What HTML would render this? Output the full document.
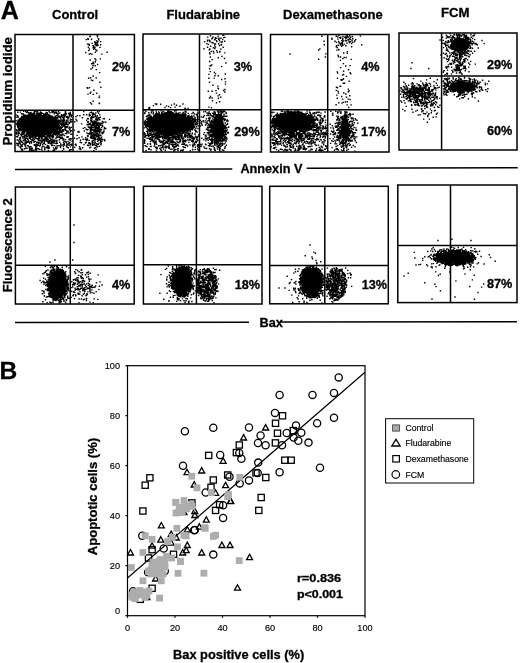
<!DOCTYPE html><html><head><meta charset="utf-8"><style>html,body{margin:0;padding:0;background:#fff;width:520px;height:663px;overflow:hidden}svg{display:block;filter:grayscale(1)}</style></head><body><svg width="520" height="663" viewBox="0 0 520 663"><ellipse cx="38" cy="124" rx="18" ry="9.5" fill="#000" fill-opacity="1.0"/><ellipse cx="170" cy="123.5" rx="23" ry="10" fill="#000" fill-opacity="1.0"/><ellipse cx="218" cy="128" rx="5.5" ry="14" fill="#000" fill-opacity="1.0"/><ellipse cx="293" cy="122" rx="19" ry="8.5" fill="#000" fill-opacity="1.0"/><ellipse cx="345" cy="129" rx="4" ry="12" fill="#000" fill-opacity="1.0"/><ellipse cx="460" cy="45" rx="9.5" ry="7" fill="#000" fill-opacity="1.0"/><ellipse cx="462" cy="86.5" rx="12.5" ry="5.2" fill="#000" fill-opacity="1.0"/><ellipse cx="57.5" cy="284.5" rx="8.5" ry="14" fill="#000" fill-opacity="1.0"/><ellipse cx="182" cy="280.5" rx="9" ry="14" fill="#000" fill-opacity="1.0"/><ellipse cx="311.5" cy="282" rx="10.5" ry="14" fill="#000" fill-opacity="1.0"/><ellipse cx="454" cy="257.5" rx="18" ry="6" fill="#000" fill-opacity="1.0"/><path d="M30.6 116.5h0M44.3 114.7h0M39.5 121.4h0M19.4 124.7h0M18.6 123.0h0M34.8 132.0h0M22.2 118.1h0M43.4 134.8h0M41.2 122.1h0M53.1 119.7h0M30.0 131.8h0M24.6 126.4h0M43.8 121.6h0M40.0 114.4h0M45.6 122.8h0M30.2 126.5h0M36.0 119.9h0M50.4 129.1h0M27.3 126.2h0M39.1 133.1h0M47.6 119.6h0M34.6 130.4h0M23.4 124.2h0M18.6 128.4h0M49.1 126.2h0M53.8 120.2h0M46.2 126.7h0M41.4 123.5h0M36.9 128.3h0M19.5 129.1h0M51.5 119.5h0M33.2 128.4h0M17.9 123.6h0M22.4 118.7h0M33.4 133.0h0M20.4 123.3h0M40.1 133.3h0M51.4 132.9h0M28.7 122.6h0M32.1 133.3h0M24.4 118.3h0M26.8 124.2h0M41.7 119.0h0M32.5 126.0h0M57.0 128.9h0M38.7 127.2h0M45.4 114.2h0M54.8 130.9h0M53.7 131.4h0M33.5 122.2h0M21.3 127.6h0M25.8 116.7h0M31.3 114.2h0M21.3 121.4h0M42.8 116.4h0M27.6 121.0h0M32.3 115.8h0M36.6 124.1h0M31.4 119.1h0M51.8 116.7h0M39.2 116.4h0M39.8 113.6h0M39.2 135.5h0M53.3 129.0h0M28.0 121.4h0M24.0 130.8h0M39.4 130.9h0M30.8 118.1h0M52.8 131.5h0M51.4 130.0h0M26.5 124.9h0M31.9 113.7h0M27.9 128.9h0M57.2 123.3h0M57.1 121.4h0M26.3 118.2h0M25.3 117.7h0M43.2 133.7h0M52.3 124.0h0M44.4 131.4h0M20.6 128.2h0M55.2 131.0h0M48.5 124.0h0M24.5 131.2h0M31.0 131.4h0M57.8 122.1h0M33.9 134.8h0M47.4 116.9h0M23.1 132.0h0M31.7 125.6h0M57.8 127.9h0M39.1 134.5h0M35.2 133.1h0M51.7 117.9h0M27.6 119.7h0M27.1 126.5h0M27.9 122.6h0M31.9 123.5h0M41.5 133.8h0M34.7 134.1h0M38.1 125.2h0M39.0 113.4h0M35.5 117.2h0M24.2 123.9h0M47.5 125.8h0M30.7 124.9h0M40.3 131.0h0M21.5 125.9h0M27.4 119.4h0M49.4 124.7h0M40.6 130.5h0M55.3 123.2h0M42.7 124.6h0M38.5 128.9h0M36.0 125.3h0M37.1 134.7h0M46.4 133.2h0M40.5 134.7h0M52.3 116.2h0M22.1 123.2h0M20.0 118.5h0M20.1 128.4h0M49.9 133.6h0M23.5 129.5h0M44.7 116.3h0M33.7 124.2h0M23.8 122.9h0M38.7 120.8h0M25.2 120.3h0M40.3 123.1h0M43.2 124.8h0M21.4 119.1h0M28.4 116.0h0M34.7 134.0h0M51.4 118.9h0M41.0 129.1h0M45.9 122.8h0M43.6 131.4h0M36.1 120.8h0M40.2 134.3h0M28.3 116.0h0M39.1 118.5h0M30.1 120.0h0M48.9 119.7h0M38.0 117.1h0M47.8 125.7h0M25.0 123.9h0M51.4 122.9h0M37.8 132.2h0M33.5 124.7h0M31.4 132.1h0M46.7 127.6h0M34.0 121.0h0M20.0 130.0h0M27.7 116.8h0M53.6 128.4h0M28.8 118.6h0M29.3 123.6h0M23.6 123.3h0M57.9 125.6h0M30.0 121.2h0M36.9 124.6h0M25.4 124.6h0M20.8 122.2h0M29.8 118.4h0M41.6 125.2h0M48.5 128.1h0M47.1 133.2h0M33.4 120.5h0M47.4 127.8h0M54.5 127.4h0M47.8 131.7h0M22.9 125.0h0M38.2 132.2h0M50.8 132.0h0M41.5 133.5h0M45.7 128.9h0M22.6 121.3h0M40.5 127.4h0M43.3 128.7h0M37.6 113.1h0M50.5 130.2h0M38.1 125.3h0M44.7 114.5h0M47.9 118.8h0M20.1 119.1h0M47.6 117.7h0M37.7 121.8h0M37.1 128.7h0M49.2 127.2h0M44.0 114.8h0M23.2 118.8h0M48.2 120.0h0M40.8 113.3h0M19.5 119.2h0M45.2 128.9h0M45.4 119.7h0M38.7 123.7h0M36.6 115.7h0M54.5 117.6h0M17.7 123.6h0M35.9 119.2h0M25.8 126.4h0M23.0 125.1h0M51.4 124.7h0M54.2 129.2h0M26.7 133.6h0M37.4 113.6h0M17.2 124.3h0M35.9 119.9h0M22.9 120.9h0M30.3 132.3h0M55.9 129.4h0M54.9 119.7h0M32.6 122.0h0M32.1 122.8h0M29.0 134.5h0M27.5 119.1h0M38.5 117.4h0M32.7 135.0h0M54.1 131.7h0M43.5 134.0h0M56.5 125.6h0M47.8 123.4h0M48.6 127.8h0M29.0 114.1h0M36.8 120.9h0M29.5 130.0h0M44.6 119.9h0M40.4 122.1h0M24.0 116.7h0M37.9 118.1h0M35.9 116.2h0M31.4 115.1h0M27.0 118.9h0M40.9 133.4h0M48.5 122.5h0M34.4 125.1h0M32.8 120.8h0M19.6 119.4h0M38.1 127.5h0M53.2 118.0h0M28.4 118.7h0M33.8 123.3h0M54.6 123.9h0M33.4 134.3h0M51.7 132.7h0M38.9 128.7h0M56.5 129.6h0M44.2 130.6h0M36.2 125.7h0M26.8 134.2h0M44.1 120.0h0M22.4 118.8h0M43.7 129.1h0M39.0 126.4h0M33.3 118.1h0M42.2 113.2h0M29.7 123.6h0M57.3 127.8h0M54.1 123.9h0M26.9 118.7h0M37.9 128.5h0M34.6 118.9h0M45.0 134.3h0M31.2 122.7h0M45.7 117.6h0M50.5 130.0h0M38.2 117.7h0M51.4 118.3h0M26.3 130.5h0M29.4 134.9h0M37.8 117.3h0M26.4 122.6h0M44.9 134.8h0M23.1 122.0h0M19.5 122.0h0M56.1 120.6h0M44.9 121.7h0M32.7 120.6h0M28.8 121.1h0M32.0 131.9h0M51.5 122.9h0M19.1 123.9h0M32.7 134.1h0M25.1 121.4h0M34.3 131.7h0M55.6 118.9h0M48.4 133.7h0M31.2 119.3h0M57.2 127.2h0M28.0 129.5h0M30.3 119.3h0M55.5 127.6h0M26.8 123.9h0M33.2 118.8h0M35.1 124.3h0M50.7 130.0h0M51.6 130.8h0M42.5 120.5h0M30.4 121.3h0M25.3 130.3h0M18.4 125.7h0M28.1 114.9h0M21.0 124.5h0M46.8 123.3h0M26.8 122.6h0M43.1 128.5h0M48.4 132.5h0M44.9 115.8h0M52.3 119.8h0M40.8 121.6h0M48.0 117.6h0M27.4 118.6h0M41.3 120.5h0M38.3 118.3h0M51.0 128.0h0M36.9 131.8h0M22.0 117.4h0M57.9 126.4h0M56.1 121.6h0M53.4 123.3h0M27.9 130.9h0M42.0 127.3h0M26.1 121.5h0M22.9 117.7h0M27.7 126.8h0M44.4 117.7h0M45.5 117.3h0M30.1 117.7h0M50.4 125.6h0M33.6 125.7h0M43.8 115.1h0M23.9 129.0h0M34.2 119.5h0M29.9 134.9h0M30.1 126.0h0M32.0 122.6h0M32.3 117.5h0M47.6 117.7h0M34.8 131.9h0M34.1 133.3h0M36.4 116.7h0M17.6 125.7h0M43.9 133.9h0M20.7 127.3h0M32.6 124.6h0M23.1 119.5h0M38.9 134.3h0M21.6 124.3h0M25.3 115.9h0M37.3 114.2h0M55.9 121.9h0M55.0 127.3h0M51.6 116.7h0M50.0 118.1h0M34.0 132.5h0M51.8 117.2h0M26.2 122.2h0M38.8 121.8h0M22.2 118.7h0M47.4 133.6h0M18.7 125.9h0M42.2 125.7h0M43.3 120.0h0M34.6 126.4h0M34.9 128.2h0M35.8 123.1h0M18.0 127.2h0M37.6 118.4h0M49.1 130.9h0M36.2 117.1h0M36.9 115.5h0M22.4 122.9h0M20.9 123.2h0M38.4 113.9h0M43.7 114.9h0M47.8 130.9h0M38.5 114.2h0M38.2 121.7h0M47.7 131.7h0M37.7 135.0h0M19.8 121.1h0M48.8 116.7h0M54.7 119.3h0M51.3 116.3h0M38.1 134.2h0M25.7 119.0h0M38.3 120.3h0M45.5 133.6h0M24.1 131.1h0M21.8 125.2h0M43.7 121.3h0M53.7 125.8h0M41.4 133.3h0M43.5 122.1h0M50.5 119.1h0M58.6 126.3h0M32.1 130.6h0M35.6 117.1h0M51.4 118.8h0M41.6 128.3h0M42.9 122.9h0M38.5 133.6h0M22.5 118.2h0M21.5 121.2h0M26.4 126.4h0M41.7 117.7h0M43.2 123.9h0M27.2 116.4h0M21.0 127.7h0M53.6 131.0h0M33.9 119.1h0M40.6 121.1h0M44.1 123.2h0M56.4 129.9h0M27.4 133.8h0M18.8 125.2h0M34.1 118.5h0M17.5 125.7h0M25.4 127.0h0M38.3 127.8h0M51.2 117.0h0M30.0 119.9h0M49.9 129.5h0M48.3 123.7h0M48.2 123.4h0M26.5 115.4h0M31.1 130.2h0M46.2 132.4h0M46.9 119.1h0M40.3 123.0h0M50.1 125.0h0M28.1 127.8h0M27.9 118.4h0M48.3 120.5h0M54.0 120.6h0M27.0 133.9h0M43.5 128.9h0M36.7 132.3h0M46.3 132.7h0M35.4 129.7h0M41.0 120.1h0M25.9 127.3h0M31.5 116.3h0M46.1 127.6h0M46.3 129.9h0M19.8 126.6h0M32.3 131.8h0M21.5 117.7h0M52.6 131.7h0M43.6 132.0h0M43.5 119.6h0M48.8 117.7h0M30.4 122.7h0M28.9 129.5h0M32.5 120.4h0M57.5 124.6h0M52.8 127.2h0M18.3 122.5h0M35.3 130.8h0M31.6 129.2h0M39.6 118.0h0M51.4 116.9h0M17.2 124.3h0M37.6 131.3h0M24.7 124.4h0M31.6 132.1h0M28.9 117.9h0M46.4 124.5h0M21.6 127.6h0M46.3 131.1h0M43.4 121.2h0M33.9 122.1h0M25.7 119.1h0M54.9 124.5h0M32.9 133.3h0M26.8 123.6h0M39.3 130.4h0M48.6 127.9h0M31.6 120.5h0M23.5 132.4h0M44.8 130.1h0M24.1 123.1h0M49.5 126.3h0M22.3 123.6h0M54.2 118.5h0M25.0 119.9h0M46.5 132.4h0M23.5 116.6h0M27.4 120.5h0M38.9 116.7h0M30.8 117.4h0M21.3 121.8h0M47.8 123.0h0M25.2 127.7h0M21.5 117.7h0M33.3 113.8h0M33.8 131.2h0M46.1 124.5h0M43.6 123.7h0M23.0 126.9h0M34.0 130.0h0M55.1 122.9h0M41.1 130.2h0M34.7 118.3h0M47.3 133.2h0M49.5 129.1h0M52.8 128.6h0M43.9 123.4h0M30.1 127.5h0M21.1 122.7h0M49.9 129.4h0M43.4 118.8h0M34.8 123.5h0M43.1 122.4h0M45.4 134.4h0M24.7 128.1h0M49.7 121.9h0M37.6 135.4h0M18.6 125.5h0M23.8 131.0h0M56.5 124.9h0M21.2 126.2h0M39.7 129.5h0M38.5 127.7h0M51.8 125.0h0M34.2 134.8h0M25.8 128.7h0M33.5 130.5h0M31.9 114.3h0M28.5 122.2h0M17.6 122.6h0M34.7 129.1h0M31.8 119.1h0M26.4 130.1h0M56.5 125.1h0M26.2 131.4h0M33.5 117.9h0M22.4 130.9h0M51.0 127.6h0M36.7 125.9h0M31.8 127.7h0M51.4 131.8h0M36.7 119.8h0M40.0 115.9h0M52.0 121.2h0M52.7 119.2h0M32.8 118.8h0M34.9 117.3h0M28.8 118.6h0M29.7 124.0h0M35.0 127.7h0M44.7 121.3h0M55.0 131.0h0M22.9 132.1h0M44.6 118.8h0M26.8 130.9h0M31.6 116.5h0M55.0 131.2h0M42.6 131.0h0M45.1 133.6h0M50.1 132.3h0M25.3 128.9h0M39.3 130.1h0M35.4 133.3h0M40.3 119.1h0M26.8 116.2h0M37.7 114.3h0M36.6 116.3h0M37.6 124.5h0M39.7 132.8h0M36.7 125.9h0M44.9 132.3h0M32.7 122.6h0M43.8 127.6h0M18.2 127.0h0M45.7 134.4h0M38.4 124.1h0M47.2 127.4h0M31.2 132.8h0M32.4 123.9h0M39.1 130.7h0M25.9 123.0h0M34.7 125.7h0M51.7 119.7h0M51.8 122.3h0M38.2 119.2h0M38.3 135.4h0M44.5 131.2h0M30.9 120.3h0M29.6 126.5h0M43.7 131.0h0M54.2 125.5h0M19.1 119.9h0M55.7 127.0h0M44.6 131.1h0M55.2 127.1h0M42.9 127.4h0M46.2 126.7h0M45.6 117.9h0M45.0 123.5h0M49.0 115.3h0M49.5 134.0h0M44.5 121.5h0M51.5 131.1h0M40.6 118.9h0M29.7 122.7h0M30.4 122.9h0M44.0 134.5h0M19.3 126.1h0M51.0 126.2h0M55.6 123.3h0M17.6 121.9h0M41.9 134.6h0M58.2 123.9h0M34.3 115.3h0M44.1 117.9h0M47.2 118.6h0M47.8 117.3h0M47.0 132.7h0M47.6 114.9h0M43.4 129.3h0M36.3 134.4h0M30.1 129.8h0M24.0 132.8h0M37.4 114.4h0M32.4 126.2h0M35.4 128.6h0M23.1 131.3h0M32.3 127.8h0M43.4 122.6h0M33.2 131.1h0M40.8 119.7h0M46.5 132.0h0M30.9 126.9h0M42.2 120.1h0M35.0 133.4h0M32.8 128.8h0M42.3 133.6h0M50.9 119.5h0M34.7 126.5h0M51.3 133.4h0M51.1 132.9h0M41.0 119.3h0M52.7 131.6h0M45.8 134.0h0M31.6 115.0h0M40.3 131.3h0M25.4 130.3h0M42.5 128.6h0M36.5 117.8h0M27.7 130.3h0M50.2 123.6h0M49.4 118.4h0M41.3 133.6h0M54.2 125.0h0M37.0 126.6h0M24.9 117.4h0M24.6 129.1h0M32.2 126.0h0M33.9 124.9h0M21.5 127.6h0M50.1 116.6h0M42.1 120.9h0M38.8 113.5h0M53.4 124.2h0M40.8 119.0h0M49.7 122.8h0M25.4 117.2h0M40.4 133.0h0M36.2 134.8h0M42.1 122.1h0M27.8 126.0h0M43.9 135.0h0M45.1 122.0h0M35.8 116.7h0M27.7 121.1h0M50.0 129.3h0M45.4 119.9h0M41.8 130.4h0M21.4 120.5h0M27.8 115.9h0M37.2 116.9h0M27.0 116.3h0M47.1 117.5h0M22.9 123.3h0M52.4 127.5h0M36.0 120.8h0M51.6 124.0h0M43.4 116.3h0M47.0 125.7h0M28.2 122.5h0M23.5 119.2h0M52.3 120.7h0M24.0 124.3h0M30.4 133.8h0M45.1 117.9h0M37.1 119.6h0M27.8 117.6h0M21.1 119.7h0M47.5 119.8h0M50.9 120.8h0M52.0 125.1h0M24.8 123.0h0M55.3 118.0h0M41.0 116.2h0M24.6 130.7h0M46.9 117.5h0M42.6 124.4h0M28.5 117.7h0M42.7 129.3h0M51.1 126.4h0M47.8 122.4h0M47.3 114.3h0M51.0 120.7h0M52.4 132.9h0M37.7 113.4h0M55.2 124.0h0M53.6 119.1h0M24.8 132.1h0M32.4 116.8h0M32.6 126.7h0M17.2 125.0h0M35.7 124.9h0M22.1 129.4h0M51.3 132.9h0M30.5 129.4h0M33.0 130.3h0M57.1 124.4h0M38.6 125.2h0M39.6 113.5h0M27.5 131.8h0M46.4 117.5h0M17.7 126.8h0M41.2 125.0h0M46.5 115.4h0M53.5 129.5h0M37.7 124.5h0M28.7 115.8h0M34.0 116.1h0M41.9 132.8h0M23.2 126.2h0M48.4 116.8h0M33.3 122.7h0M52.3 125.1h0M33.6 134.6h0M49.6 120.8h0M27.1 120.7h0M35.3 135.6h0M51.2 132.5h0M19.2 124.9h0M27.5 122.7h0M43.6 121.4h0M39.3 114.6h0M35.2 124.6h0M56.4 127.6h0M51.0 133.3h0M43.9 119.1h0M45.5 119.3h0M39.8 134.3h0M43.1 118.8h0M38.9 123.0h0M56.9 119.6h0M29.8 127.9h0M22.1 126.7h0M57.2 124.8h0M28.3 123.7h0M39.4 116.4h0M29.3 122.4h0M29.1 118.6h0M20.7 125.6h0M52.3 127.0h0M40.9 128.0h0M25.5 129.3h0M36.4 125.6h0M42.7 123.8h0M30.0 118.6h0M26.3 124.8h0M33.1 126.5h0M53.2 118.5h0M40.4 124.3h0M29.4 130.8h0M53.6 123.1h0M19.6 121.9h0M35.5 129.9h0M21.6 118.2h0M23.5 120.8h0M31.8 128.5h0M42.9 132.5h0M51.5 124.9h0M48.0 130.1h0M48.9 123.9h0M50.0 129.3h0M49.2 126.5h0M37.9 135.1h0M41.0 122.6h0M49.9 133.1h0M42.5 121.7h0M36.0 123.5h0M47.4 119.7h0M33.4 125.8h0M33.1 120.4h0M50.1 132.5h0M38.0 123.2h0M24.7 120.0h0M23.1 126.2h0M41.4 115.0h0M55.6 120.4h0M52.4 132.3h0M34.9 133.9h0M40.7 124.4h0M39.6 136.0h0M38.7 124.9h0M45.8 122.0h0M32.0 126.7h0M31.7 134.8h0M45.4 125.1h0M21.2 121.6h0M33.8 125.9h0M41.1 133.2h0M57.5 124.2h0M35.5 127.4h0M39.3 131.8h0M24.2 120.3h0M38.5 115.5h0M54.6 128.9h0M54.3 122.7h0M23.6 119.7h0M38.5 124.6h0M24.9 117.2h0M43.5 126.9h0M43.7 114.0h0M34.3 131.1h0M29.9 128.9h0M52.4 126.5h0M45.1 117.5h0M37.9 125.7h0M28.2 127.9h0M39.3 135.9h0M41.1 122.5h0M48.9 115.5h0M38.9 131.9h0M42.7 131.6h0M49.4 120.4h0M47.0 121.1h0M24.1 119.1h0M41.5 121.0h0M35.9 121.9h0M41.5 135.1h0M35.5 127.3h0M30.2 133.7h0M51.3 120.0h0M42.3 135.1h0M37.8 134.8h0M27.2 122.0h0M47.2 118.1h0M30.0 133.1h0M37.3 131.2h0M27.2 117.0h0M32.1 117.3h0M40.6 115.6h0M39.4 121.9h0M33.9 114.5h0M22.2 132.0h0M31.8 118.6h0M25.0 119.5h0M44.9 120.9h0M23.5 129.2h0M20.9 119.2h0M35.6 132.2h0M50.8 116.7h0M31.8 129.6h0M32.8 135.0h0M38.2 118.2h0M36.0 116.0h0M46.7 119.0h0M54.8 126.5h0M32.5 118.7h0M42.5 117.9h0M38.5 125.5h0M28.4 130.8h0M33.2 128.1h0M40.8 120.1h0M33.4 115.0h0M24.4 132.6h0M30.5 128.2h0M21.6 125.9h0M32.2 124.5h0M29.5 114.5h0M30.1 118.2h0M22.3 129.5h0M28.9 122.3h0M55.2 130.8h0M22.6 119.4h0M44.9 121.1h0M34.3 128.2h0M46.4 118.7h0M52.6 121.1h0M43.4 117.2h0M64.8 141.6h0M37.6 111.3h0M44.1 127.7h0M45.2 132.7h0M35.2 136.3h0M52.6 129.1h0M33.9 122.2h0M50.4 116.0h0M37.6 119.5h0M19.1 133.0h0M39.6 127.4h0M53.1 112.1h0M39.0 129.9h0M52.5 116.2h0M50.7 129.2h0M60.3 138.4h0M48.2 148.5h0M40.0 122.8h0M34.9 117.6h0M38.7 131.3h0M54.9 123.5h0M60.8 120.5h0M28.6 119.1h0M61.9 132.2h0M23.8 132.2h0M47.1 124.7h0M40.3 124.0h0M38.7 139.5h0M61.0 124.3h0M29.1 124.9h0M53.1 130.4h0M31.5 130.5h0M37.0 132.0h0M34.0 112.6h0M40.8 134.4h0M23.8 126.0h0M52.8 123.3h0M30.5 146.8h0M52.1 137.0h0M26.2 142.9h0M50.8 140.0h0M26.4 120.5h0M49.3 132.4h0M33.5 132.2h0M51.3 130.0h0M47.6 141.7h0M33.0 128.6h0M32.4 137.0h0M34.1 131.6h0M42.0 127.6h0M65.0 126.2h0M60.6 135.0h0M59.2 125.4h0M53.5 134.3h0M31.1 129.6h0M38.1 126.7h0M58.9 120.0h0M33.4 120.8h0M40.2 132.5h0M65.5 130.0h0M46.7 119.9h0M48.4 140.1h0M52.9 142.3h0M52.0 112.6h0M35.6 132.7h0M46.0 119.2h0M27.1 136.3h0M20.7 140.8h0M40.3 129.9h0M20.7 121.3h0M50.0 112.8h0M69.9 113.5h0M22.4 127.4h0M47.0 134.1h0M34.6 125.0h0M36.6 121.5h0M43.6 128.5h0M30.9 129.4h0M39.8 126.3h0M43.6 116.8h0M35.4 141.4h0M24.4 126.0h0M31.5 136.1h0M47.4 123.6h0M35.4 137.4h0M27.2 123.4h0M42.1 131.0h0M32.6 136.9h0M60.3 123.7h0M42.0 123.7h0M30.8 114.7h0M34.3 139.4h0M56.4 123.7h0M32.4 120.3h0M22.7 144.3h0M49.6 128.1h0M32.9 117.2h0M59.0 134.5h0M26.3 136.5h0M24.1 133.2h0M26.2 123.0h0M47.1 131.2h0M54.6 119.0h0M62.7 139.9h0M39.9 131.5h0M28.8 125.5h0M21.0 127.9h0M42.9 139.9h0M53.6 134.8h0M34.8 124.8h0M35.1 129.1h0M17.4 122.1h0M40.3 122.1h0M63.9 126.1h0M62.6 138.3h0M32.8 130.8h0M58.7 123.8h0M41.3 121.6h0M40.8 123.6h0M41.2 136.6h0M60.1 128.3h0M42.9 135.2h0M35.8 116.8h0M56.0 118.0h0M53.4 117.7h0M66.4 117.0h0M52.2 141.4h0M26.2 141.3h0M50.4 133.7h0M39.2 124.1h0M34.5 124.2h0M65.9 141.8h0M34.8 120.2h0M45.7 137.2h0M50.4 115.8h0M42.3 128.3h0M60.7 138.5h0M47.5 138.7h0M34.3 141.8h0M33.9 130.8h0M53.2 118.2h0M42.4 126.5h0M35.3 131.8h0M41.3 124.4h0M51.4 143.8h0M33.6 118.0h0M31.3 127.9h0M48.4 118.7h0M54.4 117.2h0M51.9 131.1h0M46.7 147.7h0M36.2 125.4h0M46.9 135.3h0M20.7 129.6h0M29.3 133.1h0M59.7 127.5h0M38.5 128.8h0M48.1 128.6h0M34.3 120.0h0M37.4 138.6h0M38.5 139.9h0M43.9 126.9h0M16.1 120.6h0M58.0 114.6h0M25.7 116.5h0M32.1 133.2h0M61.0 121.3h0M31.5 143.0h0M38.8 115.1h0M30.8 120.0h0M25.5 123.8h0M52.6 130.4h0M25.7 128.1h0M40.5 134.3h0M35.3 131.4h0M70.3 127.9h0M24.4 130.2h0M28.4 123.4h0M42.7 130.2h0M35.9 135.1h0M37.2 114.5h0M52.6 123.5h0M57.5 120.7h0M48.2 130.0h0M23.9 140.5h0M55.7 131.8h0M49.7 122.2h0M39.8 129.2h0M46.1 133.8h0M37.0 120.3h0M31.9 130.9h0M16.1 115.0h0M34.1 121.7h0M35.1 124.6h0M35.6 131.6h0M47.0 138.5h0M55.2 116.9h0M49.2 123.8h0M28.4 141.7h0M30.9 118.8h0M34.1 118.8h0M54.5 130.7h0M60.2 131.0h0M31.1 137.1h0M30.6 122.6h0M37.6 127.4h0M57.2 121.2h0M45.1 126.7h0M21.8 116.5h0M36.8 130.9h0M44.6 131.6h0M40.7 122.7h0M46.2 117.3h0M20.6 123.8h0M19.3 122.0h0M29.2 121.7h0M39.4 119.3h0M42.1 118.5h0M28.4 129.3h0M41.4 128.0h0M18.4 129.2h0M42.2 117.6h0M50.8 126.5h0M40.3 122.7h0M47.9 127.9h0M56.5 131.4h0M31.1 124.8h0M53.3 123.5h0M45.5 132.0h0M41.9 129.1h0M42.0 119.7h0M57.5 125.7h0M31.0 120.1h0M45.2 116.5h0M25.5 146.3h0M59.0 137.2h0M59.8 132.8h0M58.0 131.7h0M59.8 122.2h0M41.9 134.5h0M38.8 137.6h0M41.2 133.7h0M41.2 112.7h0M44.1 139.7h0M56.5 143.6h0M48.1 121.2h0M37.3 135.8h0M52.0 139.9h0M26.5 120.7h0M47.8 147.1h0M23.3 140.4h0M46.2 122.2h0M39.0 129.1h0M71.0 144.5h0M54.3 140.3h0M47.5 130.5h0M37.3 123.0h0M22.1 145.9h0M43.8 126.7h0M42.6 144.6h0M38.5 124.4h0M29.1 126.8h0M33.6 129.0h0M27.5 145.8h0M52.6 134.9h0M50.4 135.0h0M49.8 140.7h0M54.7 140.1h0M32.7 127.0h0M29.4 136.3h0M52.1 122.5h0M58.1 116.1h0M38.7 133.2h0M39.5 130.8h0M57.2 130.2h0M24.0 134.0h0M38.6 128.1h0M31.7 113.5h0M21.8 123.6h0M56.8 115.7h0M29.4 132.2h0M28.8 133.4h0M33.0 130.0h0M41.5 127.0h0M39.4 140.7h0M32.0 132.2h0M42.4 131.7h0M54.5 112.4h0M44.0 125.3h0M35.4 118.7h0M28.5 117.0h0M64.8 127.1h0M50.8 117.5h0M42.1 141.0h0M39.4 117.2h0M36.5 117.3h0M19.6 124.7h0M34.2 119.1h0M27.1 117.9h0M43.5 140.6h0M36.9 148.8h0M16.4 129.7h0M23.1 125.4h0M41.5 132.4h0M56.5 121.6h0M21.8 125.2h0M44.3 120.2h0M53.1 143.4h0M19.2 130.5h0M43.0 124.8h0M19.2 139.8h0M43.2 122.3h0M46.5 133.3h0M51.2 132.7h0M46.0 115.5h0M33.8 128.3h0M34.5 116.7h0M40.5 121.3h0M33.9 118.3h0M29.0 126.0h0M30.6 133.6h0M37.9 128.3h0M45.9 139.4h0M48.8 129.2h0M37.6 119.1h0M35.0 133.7h0M43.3 123.2h0M20.5 112.1h0M44.7 137.0h0M45.5 113.6h0M36.9 129.2h0M26.6 130.4h0M37.1 118.9h0M21.8 134.9h0M45.2 118.4h0M25.2 135.7h0M48.7 124.0h0M63.3 124.2h0M24.6 137.6h0M37.2 130.4h0M40.6 117.2h0M22.7 125.1h0M60.5 117.2h0M59.8 129.1h0M23.8 129.6h0M48.3 118.2h0M23.8 131.3h0M28.2 112.6h0M36.5 128.7h0M31.9 115.5h0M47.8 131.8h0M64.5 135.6h0M45.2 129.6h0M40.4 114.1h0M61.3 132.1h0M35.8 115.9h0M61.6 132.2h0M22.7 133.5h0M67.6 126.8h0M45.8 123.0h0M30.8 137.4h0M38.2 134.7h0M35.6 134.1h0M52.1 117.1h0M24.4 126.3h0M52.1 129.7h0M58.1 113.6h0M47.2 121.0h0M41.5 130.1h0M25.9 124.8h0M23.1 129.6h0M27.6 122.2h0M43.2 120.7h0M56.7 120.8h0M52.4 129.7h0M24.9 124.9h0M27.8 123.5h0M36.1 144.6h0M33.9 142.2h0M46.5 114.3h0M55.0 130.8h0M37.0 124.6h0M43.8 124.1h0M32.2 123.4h0M57.0 121.0h0M45.5 115.8h0M29.6 113.7h0M37.1 133.6h0M44.4 122.2h0M48.9 123.6h0M45.4 129.6h0M21.1 134.5h0M38.4 148.7h0M36.6 121.7h0M61.7 132.4h0M67.6 131.9h0M37.0 134.0h0M28.6 122.7h0M31.9 124.9h0M51.3 122.3h0M44.7 122.2h0M37.0 128.6h0M24.4 136.8h0M43.1 139.4h0M53.9 133.2h0M37.8 116.5h0M36.8 122.6h0M43.6 122.5h0M57.0 122.5h0M36.5 135.9h0M40.0 115.3h0M46.0 125.1h0M24.7 119.8h0M47.0 129.9h0M35.8 148.0h0M46.1 121.1h0M43.4 125.8h0M19.9 146.9h0M37.3 124.3h0M31.8 136.5h0M40.4 143.5h0M51.4 142.9h0M38.3 130.6h0M33.7 125.4h0M26.2 120.7h0M57.6 129.5h0M57.7 135.3h0M53.3 136.7h0M31.2 134.7h0M35.3 121.9h0M57.3 147.9h0M25.9 143.7h0M52.0 118.8h0M44.0 130.6h0M45.4 123.6h0M21.4 127.3h0M52.5 134.6h0M49.6 137.6h0M25.7 126.6h0M44.9 136.6h0M42.3 132.0h0M41.9 147.2h0M19.3 120.5h0M43.2 143.5h0M46.7 133.4h0M54.7 128.9h0M27.6 126.1h0M44.9 124.3h0M30.4 123.5h0M18.3 117.1h0M38.7 123.5h0M40.5 140.5h0M44.3 126.7h0M23.1 116.6h0M45.4 118.6h0M46.2 116.7h0M41.9 126.3h0M54.4 123.2h0M34.6 129.4h0M40.8 143.3h0M36.3 121.8h0M35.4 131.6h0M43.4 133.7h0M66.6 126.7h0M22.5 128.5h0M40.2 112.8h0M46.6 140.3h0M54.9 112.5h0M59.9 135.7h0M34.8 131.8h0M61.9 123.8h0M39.8 121.6h0M60.5 117.7h0M53.4 111.4h0M26.5 121.2h0M52.0 111.4h0M48.7 120.9h0M57.9 124.0h0M47.0 125.3h0M65.9 123.5h0M39.6 146.1h0M41.1 133.6h0M29.4 128.9h0M30.7 112.5h0M19.6 138.0h0M46.2 112.4h0M66.2 120.3h0M34.7 129.4h0M23.6 111.4h0M29.2 138.4h0M53.7 111.8h0M57.4 127.3h0M47.2 127.5h0M46.0 117.4h0M26.9 120.2h0M34.7 133.0h0M22.4 142.3h0M30.9 121.3h0M50.2 131.2h0M35.1 116.7h0M25.6 111.6h0M56.5 137.4h0M67.0 131.8h0M44.8 134.3h0M53.7 124.5h0M45.1 147.7h0M26.1 134.3h0M57.1 123.7h0M49.7 126.5h0M44.3 121.8h0M39.6 127.0h0M56.3 148.5h0M39.9 136.3h0M55.3 134.5h0M51.7 117.9h0M57.5 117.8h0M58.6 133.4h0M25.7 138.2h0M30.2 119.8h0M17.7 124.9h0M54.7 120.5h0M66.7 133.6h0M32.2 115.3h0M16.3 132.4h0M58.8 116.8h0M40.0 124.3h0M36.3 131.8h0M70.2 120.9h0M52.3 137.5h0M35.9 125.6h0M20.6 137.4h0M32.3 120.7h0M41.0 118.7h0M24.9 124.1h0M61.5 125.0h0M47.6 112.9h0M34.2 112.2h0M38.5 132.9h0M43.8 118.1h0M51.5 136.3h0M46.4 122.9h0M39.3 120.9h0M38.1 130.1h0M35.7 136.4h0M45.0 134.9h0M49.3 124.7h0M33.1 136.7h0M49.0 131.9h0M28.4 133.1h0M51.5 125.2h0M49.4 148.0h0M23.0 113.8h0M36.6 132.3h0M40.8 115.7h0M19.2 121.6h0M40.2 119.0h0M18.2 144.0h0M27.8 125.5h0M32.0 121.3h0M40.6 124.1h0M49.0 115.5h0M18.4 145.9h0M38.9 134.4h0M57.1 132.4h0M40.5 111.9h0M16.8 136.5h0M49.8 132.5h0M24.7 115.6h0M42.3 117.1h0M63.0 121.0h0M31.8 135.4h0M44.8 118.3h0M51.9 145.6h0M22.2 124.6h0M49.1 133.8h0M54.2 131.2h0M30.3 115.6h0M23.9 134.4h0M35.7 146.1h0M53.0 139.1h0M40.5 115.2h0M65.8 114.2h0M55.9 138.5h0M34.1 113.8h0M39.1 130.7h0M17.7 115.7h0M38.5 133.9h0M41.1 131.4h0M44.6 118.1h0M38.2 123.3h0M47.0 119.5h0M61.1 127.3h0M47.7 133.1h0M55.2 130.9h0M67.3 131.6h0M48.2 131.6h0M30.6 120.4h0M30.5 138.3h0M45.3 144.4h0M47.3 145.5h0M46.7 115.4h0M65.6 130.3h0M57.5 129.1h0M35.2 128.7h0M23.5 115.3h0M26.9 121.9h0M20.1 126.0h0M44.5 146.9h0M67.1 126.5h0M53.0 124.8h0M45.8 126.7h0M32.0 127.7h0M18.2 131.3h0M35.7 116.4h0M34.7 132.4h0M30.0 131.7h0M48.4 142.3h0M24.0 125.9h0M47.6 141.8h0M43.9 134.4h0M18.3 121.3h0M64.5 124.2h0M71.9 119.8h0M35.9 111.3h0M49.4 129.6h0M69.8 128.6h0M36.3 113.1h0M38.8 136.3h0M51.0 139.1h0M52.8 126.5h0M49.0 128.7h0M20.3 143.9h0M45.5 116.6h0M45.7 129.8h0M54.8 141.3h0M62.7 117.6h0M45.0 130.5h0M23.5 122.4h0M42.9 134.4h0M56.0 125.7h0M38.4 117.2h0M41.6 128.2h0M44.5 139.9h0M38.5 127.9h0M52.7 111.6h0M35.7 127.7h0M54.2 119.1h0M52.0 130.8h0M17.9 112.3h0M18.7 128.4h0M43.1 134.2h0M52.2 121.5h0M55.9 135.1h0M47.0 131.8h0M20.8 130.6h0M24.6 115.2h0M34.8 128.4h0M39.2 123.7h0M25.1 128.9h0M29.0 113.0h0M41.4 141.5h0M34.0 116.4h0M60.7 144.0h0M35.6 124.9h0M42.0 136.9h0M23.6 114.7h0M46.5 128.1h0M66.7 124.3h0M44.6 127.7h0M42.1 150.1h0M44.3 141.7h0M59.4 121.0h0M50.2 123.2h0M41.6 128.6h0M40.3 122.3h0M63.3 124.4h0M50.5 143.7h0M49.4 137.2h0M60.8 137.8h0M65.7 112.8h0M69.3 127.3h0M19.1 126.8h0M17.7 117.0h0M44.4 128.6h0M28.1 124.7h0M38.5 127.7h0M39.9 124.8h0M32.6 128.3h0M34.0 121.5h0M33.5 129.1h0M58.6 125.1h0M36.0 130.6h0M44.0 123.2h0M31.4 133.3h0M40.7 121.4h0M40.2 125.8h0M46.6 129.2h0M32.8 114.4h0M23.6 125.6h0M22.8 134.6h0M64.4 117.1h0M39.2 124.6h0M55.3 148.6h0M18.1 132.6h0M39.8 135.5h0M32.3 134.2h0M53.4 133.1h0M61.7 125.3h0M63.2 120.0h0M40.2 119.0h0M40.0 137.3h0M50.8 127.9h0M65.5 112.2h0M27.8 142.1h0M45.1 115.2h0M62.2 138.4h0M31.8 139.9h0M27.5 136.2h0M48.7 125.7h0M18.7 124.2h0M48.8 130.7h0M32.4 148.2h0M51.6 127.7h0M47.2 136.6h0M31.1 112.9h0M40.1 134.7h0M62.6 129.7h0M42.9 134.5h0M61.0 123.8h0M21.6 119.1h0M21.1 118.1h0M38.2 130.4h0M42.3 127.7h0M34.6 131.2h0M53.3 134.6h0M62.5 124.1h0M36.2 143.9h0M43.0 131.1h0M35.0 136.7h0M34.0 116.9h0M39.1 122.6h0M52.5 123.2h0M41.9 124.8h0M45.1 120.7h0M56.6 112.8h0M34.2 119.9h0M49.7 127.4h0M47.3 123.7h0M29.2 115.8h0M35.0 121.6h0M44.2 130.5h0M54.7 125.9h0M28.8 116.4h0M40.9 130.6h0M69.2 128.8h0M66.4 145.7h0M24.3 139.1h0M57.0 140.5h0M39.9 136.6h0M32.8 126.3h0M40.3 144.8h0M36.8 136.6h0M41.0 119.9h0M43.6 133.6h0M29.3 133.3h0M29.3 118.2h0M43.3 124.6h0M40.3 129.4h0M33.1 128.9h0M17.1 130.9h0M46.2 129.8h0M30.8 127.8h0M42.0 137.7h0M44.1 129.5h0M29.1 135.6h0M57.6 122.1h0M49.6 130.1h0M39.3 114.1h0M44.5 123.2h0M57.2 122.8h0M40.6 133.1h0M46.8 121.8h0M50.2 130.9h0M54.8 121.9h0M39.3 123.1h0M27.4 129.5h0M46.1 141.2h0M35.1 130.9h0M57.1 125.9h0M40.9 128.3h0M29.7 117.1h0M56.7 128.7h0M38.9 114.6h0M41.8 138.7h0M22.8 118.1h0M56.6 141.3h0M63.2 121.5h0M49.0 119.5h0M47.8 123.4h0M42.9 140.4h0M45.1 124.6h0M40.8 129.6h0M32.3 129.1h0M49.0 142.5h0M21.5 135.7h0M41.8 138.3h0M32.4 122.2h0M45.1 121.2h0M56.6 127.0h0M33.3 136.2h0M27.7 139.4h0M54.4 128.4h0M54.8 143.0h0M60.5 127.0h0M39.2 138.0h0M18.1 121.0h0M47.2 132.6h0M67.7 144.4h0M44.8 131.4h0M20.4 125.2h0M43.9 124.8h0M40.9 133.0h0M25.9 121.4h0M51.4 124.9h0M54.3 123.4h0M71.6 134.1h0M42.2 128.1h0M36.9 135.0h0M69.7 122.8h0M23.9 132.9h0M55.8 112.2h0M29.7 117.1h0M48.3 132.0h0M29.1 115.9h0M49.5 125.5h0M68.4 136.8h0M31.4 124.3h0M35.9 119.8h0M41.2 136.5h0M17.7 124.8h0M62.1 134.3h0M28.0 119.0h0M27.4 111.2h0M57.0 127.7h0M29.7 112.9h0M34.3 122.0h0M65.4 122.5h0M41.7 137.6h0M49.9 125.2h0M48.8 122.7h0M38.7 117.6h0M26.7 112.4h0M47.4 132.1h0M42.6 134.7h0M47.9 128.2h0M27.0 132.8h0M57.5 133.2h0M58.4 122.4h0M25.6 139.3h0M31.4 129.4h0M37.2 127.2h0M36.0 121.7h0M26.6 115.9h0M48.5 143.1h0M36.4 134.3h0M48.8 114.8h0M31.5 123.5h0M58.5 128.2h0M38.2 119.1h0M41.3 127.4h0M50.7 140.7h0M50.8 127.2h0M37.8 142.7h0M43.0 126.8h0M66.4 142.4h0M48.4 125.9h0M30.7 137.4h0M33.3 136.4h0M28.5 128.0h0M45.9 128.4h0M43.4 130.7h0M23.5 116.1h0M37.8 144.7h0M38.2 117.9h0M30.3 127.3h0M57.3 121.5h0M48.2 128.8h0M34.8 117.8h0M37.8 119.9h0M56.5 134.4h0M48.5 141.6h0M40.8 131.4h0M30.0 116.0h0M46.3 132.0h0M33.8 124.6h0M32.6 121.5h0M39.2 137.5h0M16.4 123.7h0M63.6 130.1h0M42.3 135.2h0M25.3 115.2h0M43.6 135.3h0M33.9 120.4h0M45.9 133.0h0M43.6 118.7h0M30.4 141.6h0M59.3 131.7h0M44.0 128.7h0M31.4 126.5h0M67.9 118.5h0M30.3 128.6h0M53.0 135.1h0M25.9 125.7h0M36.1 115.0h0M41.1 122.3h0M53.4 131.2h0M28.6 127.8h0M34.8 120.8h0M32.9 137.4h0M28.7 134.9h0M71.4 116.8h0M34.8 123.8h0M19.5 130.9h0M39.3 129.7h0M51.6 135.1h0M30.7 121.2h0M62.7 134.0h0M42.1 116.4h0M52.9 132.1h0M72.1 141.3h0M51.7 129.6h0M40.9 121.6h0M44.5 129.4h0M49.5 137.6h0M44.6 121.7h0M51.8 142.1h0M27.8 131.1h0M48.0 132.2h0M47.4 126.1h0M38.5 143.4h0M65.3 113.4h0M30.2 122.0h0M16.8 130.4h0M39.2 121.8h0M53.1 150.6h0M61.5 138.4h0M34.0 133.4h0M39.5 138.2h0M48.5 126.7h0M48.1 120.0h0M51.6 141.6h0M34.7 132.4h0M52.8 117.1h0M65.4 128.1h0M52.7 124.4h0M56.1 111.9h0M38.6 136.5h0M30.1 133.6h0M34.8 130.3h0M44.7 148.7h0M22.0 134.6h0M59.1 116.1h0M41.2 149.4h0M44.4 119.9h0M31.8 118.9h0M44.3 122.5h0M26.8 124.8h0M45.9 118.7h0M45.9 123.2h0M62.9 120.8h0M30.3 114.0h0M68.9 133.0h0M24.2 123.7h0M26.0 141.8h0M43.1 135.9h0M40.0 131.6h0M38.4 129.0h0M43.1 120.1h0M45.1 128.6h0M39.4 120.4h0M25.2 129.4h0M32.2 140.2h0M53.3 120.1h0M59.7 117.4h0M28.5 145.9h0M33.6 124.9h0M16.0 117.2h0M22.9 125.7h0M34.8 121.1h0M30.8 134.2h0M62.4 123.0h0M63.5 142.7h0M59.6 129.9h0M18.3 133.6h0M34.0 128.9h0M43.4 117.9h0M44.3 143.3h0M43.4 120.3h0M26.6 131.0h0M43.8 135.1h0M28.4 141.3h0M47.3 138.6h0M17.7 127.0h0M63.4 146.6h0M59.3 127.0h0M42.7 120.9h0M56.0 120.2h0M18.0 144.3h0M40.9 129.1h0M70.3 112.4h0M32.2 125.0h0M21.6 113.8h0M21.9 133.3h0M39.3 135.0h0M24.2 132.8h0M33.5 127.9h0M53.7 127.3h0M40.9 134.7h0M30.7 126.4h0M45.9 139.7h0M34.4 111.7h0M36.0 145.9h0M44.4 125.5h0M55.2 123.3h0M44.9 129.0h0M46.6 112.6h0M50.4 135.6h0M26.8 141.6h0M40.3 133.7h0M48.2 135.7h0M30.6 121.3h0M45.5 133.0h0M48.5 130.3h0M32.9 137.9h0M46.9 137.5h0M30.2 128.2h0M33.0 123.9h0M42.8 130.4h0M28.5 132.3h0M27.5 131.2h0M34.6 117.7h0M57.3 143.3h0M38.5 126.5h0M54.2 113.9h0M27.1 138.2h0M53.3 122.1h0M28.5 130.5h0M19.2 122.1h0M48.8 134.6h0M55.8 112.8h0M21.0 118.9h0M20.6 147.3h0M25.5 123.9h0M43.1 131.5h0M61.5 116.2h0M53.1 128.5h0M22.6 128.5h0M19.2 143.1h0M29.2 137.0h0M59.3 120.9h0M26.7 128.3h0M24.4 135.9h0M42.6 119.4h0M29.8 134.2h0M18.4 143.8h0M28.3 125.1h0M26.2 143.1h0M52.3 139.9h0M49.7 127.9h0M65.3 133.6h0M46.5 132.7h0M51.0 129.8h0M37.5 111.1h0M70.7 114.1h0M68.9 139.1h0M31.0 129.6h0M35.0 129.9h0M57.5 115.0h0M44.9 127.8h0M42.2 128.5h0M34.5 113.4h0M46.8 130.9h0M48.6 139.4h0M26.3 131.0h0M39.8 134.3h0M37.5 121.0h0M43.7 132.2h0M25.5 140.2h0M57.2 131.4h0M38.3 124.6h0M25.4 122.0h0M54.9 117.8h0M32.2 135.6h0M67.9 120.1h0M56.6 120.5h0M45.8 131.8h0M22.9 137.3h0M67.0 127.5h0M44.0 115.3h0M66.8 127.6h0M20.9 134.6h0M18.1 120.1h0M30.2 121.2h0M31.5 132.5h0M61.9 116.9h0M62.9 126.1h0M29.5 142.3h0M38.4 140.7h0M56.1 143.6h0M28.0 127.6h0M45.5 125.1h0M62.8 119.9h0M55.0 140.6h0M26.4 121.5h0M45.9 125.3h0M41.2 122.4h0M38.8 131.8h0M51.2 119.2h0M38.3 119.4h0M37.3 112.6h0M54.3 133.7h0M38.2 120.2h0M33.2 120.3h0M16.8 143.3h0M22.5 132.8h0M49.1 111.3h0M32.6 127.9h0M40.0 121.4h0M37.9 124.0h0M58.7 126.1h0M39.5 121.7h0M30.5 119.6h0M40.2 145.4h0M56.7 129.4h0M20.9 148.3h0M66.0 133.6h0M42.0 141.4h0M56.2 146.1h0M35.2 149.8h0M26.4 135.5h0M61.6 135.2h0M26.4 142.0h0M34.8 135.9h0M68.1 141.5h0M60.0 137.5h0M67.1 137.0h0M66.8 144.0h0M70.4 146.9h0M51.3 142.6h0M63.9 141.0h0M21.5 149.4h0M61.1 145.3h0M57.7 137.2h0M41.9 147.8h0M69.9 149.6h0M25.0 145.3h0M47.0 140.3h0M25.4 135.5h0M42.3 141.9h0M31.0 139.6h0M47.0 146.7h0M49.0 135.9h0M65.6 139.6h0M69.7 150.7h0M23.9 143.5h0M70.1 139.9h0M46.7 138.6h0M17.6 136.7h0M22.9 138.1h0M51.3 143.1h0M69.1 145.3h0M36.3 150.1h0M51.5 142.8h0M64.3 145.1h0M36.2 143.9h0M32.8 150.4h0M29.7 150.5h0M19.6 133.2h0M47.0 136.7h0M44.4 135.1h0M62.9 145.0h0M54.3 149.7h0M71.6 145.2h0M55.9 133.0h0M18.8 140.7h0M70.3 138.6h0M47.8 133.2h0M39.3 149.2h0M49.0 147.8h0M16.7 136.6h0M26.0 148.0h0M21.7 149.8h0M31.0 148.8h0M44.9 138.8h0M70.1 140.3h0M55.1 134.2h0M62.5 150.7h0M22.2 146.4h0M31.1 135.7h0M36.4 144.9h0M69.4 150.9h0M71.6 144.2h0M52.6 135.9h0M56.7 142.9h0M36.1 149.2h0M30.3 135.5h0M24.9 135.7h0M49.0 147.4h0M25.0 142.1h0M48.2 143.1h0M39.1 142.8h0M16.8 134.0h0M39.7 137.3h0M58.4 137.4h0M62.1 137.3h0M21.2 141.6h0M37.7 139.0h0M58.8 137.0h0M53.5 148.0h0M41.3 142.1h0M67.7 143.9h0M26.1 134.3h0M20.6 139.0h0M21.0 144.7h0M39.7 138.6h0M44.7 149.9h0M29.7 135.8h0M33.1 138.8h0M67.0 145.7h0M40.0 136.0h0M18.5 135.2h0M63.5 144.7h0M24.8 144.3h0M19.3 142.1h0M34.8 134.8h0M57.6 145.9h0M44.6 136.0h0M53.5 140.8h0M53.0 134.6h0M66.5 133.1h0M28.5 140.2h0M27.1 134.6h0M54.5 150.9h0M34.8 137.8h0M53.6 137.0h0M38.4 145.4h0M40.1 135.8h0M19.9 142.8h0M71.5 149.6h0M21.6 142.0h0M43.4 136.5h0M53.5 141.9h0M61.3 138.3h0M68.3 147.7h0M42.5 135.5h0M43.1 135.3h0M54.4 145.6h0M48.4 150.6h0M18.5 145.9h0M60.8 135.0h0M34.0 134.0h0M48.6 146.0h0M35.5 145.5h0M36.5 145.8h0M31.5 150.6h0M40.5 133.1h0M21.1 146.1h0M64.4 144.5h0M24.7 148.7h0M56.1 135.1h0M37.3 145.1h0M16.2 133.8h0M35.8 148.7h0M71.8 138.7h0M66.9 147.1h0M64.4 143.6h0M70.3 144.6h0M69.1 143.2h0M27.0 142.3h0M43.0 139.1h0M36.9 142.2h0M48.9 137.0h0M31.5 142.1h0M44.2 140.5h0M53.2 136.3h0M45.8 138.0h0M59.1 145.7h0M59.7 142.3h0M29.9 149.7h0M44.6 139.8h0M32.3 140.2h0M55.7 147.7h0M43.0 146.2h0M27.9 141.1h0M36.0 138.5h0M36.1 146.6h0M57.1 136.7h0M29.1 147.1h0M52.7 145.2h0M51.6 145.5h0M31.3 134.1h0M36.2 133.6h0M69.9 142.4h0M53.5 150.4h0M61.0 137.1h0M34.9 135.0h0M60.6 146.3h0M43.3 139.6h0M31.1 141.8h0M55.9 149.1h0M63.5 148.6h0M40.6 140.6h0M33.6 150.5h0M26.3 135.8h0M31.7 149.6h0M63.8 139.0h0M63.7 149.0h0M39.9 136.5h0M59.3 139.7h0M22.7 149.3h0M40.6 140.2h0M49.3 137.6h0M17.1 140.0h0M37.2 133.2h0M36.8 146.7h0M34.6 145.2h0M51.0 136.4h0M17.1 145.1h0M50.2 138.3h0M27.2 148.4h0M66.9 137.2h0M48.8 143.3h0M34.0 133.7h0M34.2 144.6h0M49.7 142.2h0M22.9 136.8h0M33.4 140.5h0M36.3 149.2h0M22.5 150.8h0M29.5 148.4h0M29.6 143.6h0M37.1 133.7h0M60.6 147.6h0M31.1 147.0h0M63.1 134.7h0M55.9 120.1h0M58.9 126.0h0M68.2 131.2h0M64.3 120.3h0M68.6 113.5h0M59.4 129.1h0M62.5 134.8h0M56.5 122.1h0M58.6 111.1h0M56.6 113.2h0M61.3 121.4h0M63.6 117.9h0M66.9 123.4h0M71.7 115.1h0M63.7 122.8h0M61.3 131.7h0M58.6 132.1h0M61.1 119.1h0M65.5 124.5h0M59.8 113.0h0M71.2 119.9h0M56.9 126.8h0M64.0 118.9h0M60.6 131.3h0M60.8 121.0h0M71.3 119.7h0M61.8 114.9h0M66.3 127.0h0M62.6 120.7h0M59.0 130.0h0M62.8 131.0h0M61.4 128.6h0M55.5 116.3h0M71.3 127.4h0M66.5 122.9h0M63.0 115.7h0M57.9 126.5h0M66.8 117.2h0M66.0 114.3h0M65.4 115.1h0M63.7 118.5h0M64.4 114.2h0M63.2 125.8h0M57.3 118.4h0M66.5 124.1h0M65.5 129.7h0M64.7 116.3h0M62.5 130.9h0M64.6 129.1h0M61.2 121.8h0M71.5 130.7h0M66.1 113.6h0M65.4 111.8h0M70.9 134.3h0M67.4 117.4h0M69.4 115.3h0M69.1 123.5h0M55.3 132.4h0M62.5 130.9h0M66.7 123.8h0M69.7 115.9h0M70.3 119.1h0M55.4 119.1h0M56.1 112.7h0M65.6 113.9h0M57.7 118.0h0M59.7 133.1h0M70.4 131.9h0M71.8 121.6h0M68.5 117.7h0M70.8 130.5h0M67.4 116.5h0M56.6 133.2h0M64.4 125.7h0M69.7 114.4h0M66.9 122.1h0M68.4 121.9h0M58.3 134.0h0M59.8 128.9h0M69.1 116.9h0M66.8 120.5h0M58.8 116.2h0M71.2 119.8h0M63.7 123.0h0M55.5 129.1h0M67.7 132.0h0M61.1 116.0h0M60.9 128.6h0M66.2 120.7h0M63.9 114.7h0M70.6 122.3h0M63.6 129.9h0M58.4 128.3h0M61.0 130.5h0M56.6 117.6h0M65.8 122.6h0M61.4 124.9h0M58.7 121.5h0M55.0 130.2h0M59.3 130.9h0M64.4 125.4h0M65.6 114.0h0M68.2 118.0h0M69.7 129.9h0M66.5 130.6h0M62.4 127.2h0M71.2 115.5h0M56.7 120.9h0M63.7 114.6h0M58.8 131.8h0M61.6 114.6h0M58.1 124.9h0M58.2 122.4h0M64.1 121.6h0M63.6 131.1h0M55.3 133.3h0M58.4 111.9h0M68.0 124.7h0M64.1 116.2h0M95.7 121.6h0M94.5 122.9h0M89.2 123.6h0M91.4 138.3h0M100.9 135.7h0M94.1 124.6h0M88.1 124.9h0M101.9 141.3h0M96.0 127.7h0M95.0 134.2h0M95.0 134.2h0M91.6 130.5h0M93.4 140.6h0M89.5 142.7h0M94.6 125.2h0M95.1 131.3h0M94.0 134.2h0M92.4 113.5h0M98.1 129.8h0M102.4 133.8h0M86.2 142.2h0M92.0 135.4h0M104.8 140.7h0M90.2 129.2h0M87.9 136.6h0M97.5 120.1h0M97.0 139.2h0M98.6 123.5h0M91.9 119.1h0M89.3 133.1h0M95.2 142.8h0M96.2 126.9h0M88.7 145.1h0M95.7 129.8h0M90.6 119.9h0M97.8 120.6h0M97.6 136.2h0M93.3 114.3h0M96.8 143.8h0M91.4 117.8h0M99.8 131.5h0M92.2 142.0h0M93.8 134.5h0M93.2 122.8h0M96.0 121.7h0M87.2 124.8h0M100.5 140.8h0M104.6 139.7h0M102.1 132.5h0M93.1 134.6h0M90.8 137.2h0M93.0 132.6h0M91.2 128.8h0M99.3 128.0h0M92.0 132.8h0M98.9 128.3h0M89.8 115.0h0M89.1 140.4h0M94.6 134.7h0M99.7 132.9h0M97.1 125.2h0M87.9 136.2h0M94.6 135.7h0M90.3 128.7h0M103.9 122.0h0M95.4 142.8h0M94.0 131.3h0M85.6 137.6h0M93.1 142.6h0M94.6 126.5h0M96.9 127.8h0M92.7 145.0h0M99.3 131.2h0M98.6 138.1h0M97.6 130.6h0M95.3 134.1h0M97.5 133.5h0M92.6 129.4h0M97.0 120.6h0M95.0 137.4h0M95.7 127.4h0M94.9 125.5h0M99.3 126.5h0M87.7 118.5h0M96.3 132.1h0M92.9 117.5h0M94.3 122.1h0M92.1 130.1h0M91.6 133.1h0M91.7 125.7h0M94.0 144.2h0M101.9 139.2h0M91.8 130.2h0M99.0 137.9h0M87.8 129.6h0M91.7 137.3h0M97.8 125.0h0M104.4 127.5h0M105.8 128.5h0M94.6 148.3h0M92.7 125.6h0M101.5 129.8h0M97.1 118.1h0M102.9 139.6h0M96.6 136.9h0M92.8 125.6h0M88.1 133.7h0M100.4 138.3h0M99.1 136.9h0M90.9 117.7h0M97.8 131.7h0M99.3 127.5h0M91.1 134.4h0M92.5 114.5h0M92.3 121.8h0M90.1 124.9h0M102.6 126.2h0M100.0 129.5h0M96.8 123.7h0M94.7 114.2h0M102.9 122.9h0M97.6 124.6h0M96.2 119.0h0M93.3 138.9h0M97.6 111.7h0M98.8 117.7h0M96.3 135.1h0M92.2 127.1h0M93.9 134.0h0M99.0 143.1h0M96.4 149.1h0M90.8 147.1h0M93.8 137.5h0M94.4 131.0h0M91.0 133.9h0M103.9 131.6h0M94.9 130.2h0M98.1 128.2h0M95.0 132.2h0M100.7 139.2h0M90.4 124.2h0M95.1 138.2h0M99.3 128.2h0M104.4 128.6h0M101.2 143.7h0M102.0 132.1h0M97.5 115.6h0M87.2 124.4h0M98.2 140.3h0M94.5 140.0h0M97.5 144.6h0M88.0 122.3h0M90.8 120.2h0M102.3 121.4h0M91.3 126.4h0M98.9 125.8h0M98.2 135.4h0M91.0 118.3h0M102.2 123.3h0M90.3 133.7h0M95.2 121.3h0M99.8 138.8h0M96.2 123.0h0M96.7 133.9h0M90.9 130.4h0M109.5 119.4h0M87.5 135.9h0M93.1 125.5h0M97.7 128.9h0M99.4 135.0h0M100.1 131.3h0M85.5 143.0h0M87.5 140.1h0M96.1 116.9h0M95.3 138.5h0M90.5 130.5h0M91.7 120.6h0M92.3 142.3h0M98.0 129.9h0M94.6 131.3h0M96.3 131.9h0M87.4 138.9h0M98.1 118.7h0M94.4 129.2h0M92.4 135.2h0M93.8 127.5h0M90.8 127.5h0M90.4 130.5h0M100.8 139.7h0M96.9 117.2h0M99.5 139.0h0M95.1 126.9h0M99.8 119.8h0M99.4 111.1h0M95.1 143.1h0M92.3 135.8h0M95.4 116.2h0M92.2 140.9h0M100.2 124.4h0M100.0 123.3h0M96.1 129.9h0M89.5 133.2h0M91.3 122.0h0M91.3 120.8h0M98.9 130.8h0M96.1 127.5h0M95.3 127.6h0M90.2 115.6h0M95.3 139.8h0M96.0 145.4h0M89.0 127.5h0M92.3 141.8h0M102.5 125.1h0M98.2 127.8h0M90.6 129.0h0M90.4 144.8h0M97.6 141.4h0M98.6 130.9h0M84.4 131.0h0M99.5 146.4h0M90.5 137.6h0M96.5 128.4h0M93.7 135.1h0M97.6 136.3h0M93.2 117.4h0M100.8 142.5h0M92.5 129.7h0M98.6 113.2h0M96.2 123.3h0M104.0 130.1h0M95.9 126.0h0M95.8 112.9h0M89.3 115.9h0M99.0 129.2h0M92.3 144.0h0M91.5 112.2h0M91.7 126.7h0M94.9 142.5h0M100.9 144.9h0M97.6 125.2h0M92.8 115.9h0M100.6 142.0h0M95.4 121.5h0M98.0 134.7h0M95.7 118.9h0M96.1 124.6h0M98.3 135.7h0M96.9 125.9h0M101.7 137.4h0M100.6 138.1h0M97.9 133.8h0M90.3 112.6h0M90.9 135.9h0M99.0 131.8h0M95.4 147.6h0M93.2 112.9h0M88.2 126.9h0M98.1 137.1h0M94.0 137.8h0M94.8 123.1h0M93.3 137.3h0M99.2 119.2h0M90.6 131.2h0M104.4 118.8h0M89.5 134.0h0M97.2 124.1h0M94.9 134.7h0M87.3 129.8h0M97.7 138.9h0M100.1 129.3h0M88.6 142.9h0M98.4 123.9h0M99.6 140.0h0M92.9 122.8h0M91.3 129.2h0M90.2 133.7h0M103.3 118.6h0M99.6 124.9h0M97.4 128.8h0M100.7 123.2h0M98.2 122.6h0M96.0 129.9h0M99.8 114.9h0M89.1 143.3h0M96.7 146.3h0M90.5 132.0h0M97.7 146.9h0M94.8 125.7h0M98.2 129.0h0M91.7 137.3h0M86.6 120.3h0M101.0 125.2h0M93.6 133.6h0M99.9 135.1h0M90.8 124.6h0M99.6 128.9h0M92.2 138.4h0M90.3 123.2h0M92.0 133.4h0M92.9 140.7h0M83.2 139.2h0M92.2 127.4h0M97.5 131.9h0M90.5 144.4h0M97.5 125.3h0M95.9 119.4h0M89.6 127.1h0M96.6 131.0h0M91.6 116.7h0M87.6 145.3h0M96.6 122.3h0M100.2 135.2h0M93.2 124.1h0M100.0 133.1h0M102.2 133.5h0M92.4 124.3h0M91.9 132.4h0M96.1 135.8h0M97.0 119.9h0M94.1 121.0h0M97.1 117.4h0M92.5 121.8h0M92.3 127.5h0M101.6 127.5h0M88.7 127.1h0M98.3 135.3h0M96.1 149.1h0M99.9 130.9h0M100.3 117.2h0M94.3 121.7h0M95.8 145.5h0M92.8 145.3h0M90.5 143.7h0M87.6 121.9h0M99.4 129.1h0M95.6 129.9h0M95.8 128.3h0M90.7 127.2h0M95.5 121.4h0M97.0 146.9h0M87.8 124.8h0M93.8 130.2h0M95.4 123.0h0M94.9 130.1h0M94.6 144.8h0M95.6 115.8h0M88.1 135.7h0M93.5 124.1h0M89.1 127.0h0M94.6 123.4h0M93.5 138.5h0M98.4 135.2h0M94.2 117.0h0M98.4 144.4h0M100.6 141.2h0M96.2 133.6h0M94.9 142.0h0M93.8 150.6h0M98.4 126.9h0M95.0 114.6h0M91.8 127.1h0M105.7 122.2h0M99.0 130.7h0M93.7 136.0h0M86.3 139.1h0M103.5 132.8h0M94.7 131.5h0M88.4 121.6h0M77.4 115.6h0M79.9 115.7h0M76.9 120.8h0M83.3 128.4h0M78.9 131.5h0M86.4 139.2h0M79.5 146.8h0M86.7 132.9h0M81.6 123.9h0M76.1 145.5h0M83.7 114.8h0M88.8 145.6h0M74.5 138.3h0M77.8 131.9h0M87.3 124.7h0M82.0 136.9h0M77.1 135.4h0M80.8 149.3h0M77.0 138.7h0M74.7 121.7h0M75.9 116.8h0M82.5 117.8h0M86.7 114.8h0M84.0 144.6h0M76.0 119.5h0M86.2 129.3h0M88.9 124.2h0M80.4 148.3h0M79.5 148.7h0M88.3 118.8h0M82.7 147.7h0M75.9 144.1h0M86.4 140.2h0M83.6 114.9h0M89.3 115.0h0M86.5 139.2h0M79.1 137.7h0M80.6 140.3h0M74.7 147.4h0M80.2 142.3h0M81.5 142.7h0M78.8 132.3h0M74.4 130.1h0M75.3 144.5h0M84.8 127.6h0M89.6 147.9h0M89.3 114.2h0M85.3 139.4h0M83.7 111.6h0M97.8 42.0h0M87.9 38.8h0M93.8 46.4h0M96.8 42.8h0M96.1 45.8h0M100.6 44.7h0M94.6 48.3h0M98.7 39.7h0M92.2 43.4h0M85.7 52.5h0M98.2 45.1h0M107.1 52.3h0M101.9 54.1h0M97.5 36.8h0M100.0 47.4h0M89.4 45.3h0M96.9 50.7h0M94.7 42.0h0M97.0 40.6h0M93.7 49.4h0M88.4 47.2h0M86.4 39.6h0M89.2 44.5h0M96.8 44.7h0M97.6 45.6h0M93.2 47.8h0M93.1 45.8h0M98.0 41.7h0M98.5 38.6h0M91.9 54.2h0M95.4 52.3h0M88.3 39.2h0M95.8 49.8h0M97.3 35.3h0M96.0 44.6h0M94.5 47.8h0M89.8 36.6h0M88.9 44.2h0M99.9 82.3h0M96.2 78.0h0M93.9 90.3h0M95.0 44.4h0M93.0 65.8h0M93.1 76.0h0M92.1 63.6h0M93.0 62.1h0M100.6 41.6h0M87.2 87.7h0M92.5 67.8h0M95.3 61.8h0M90.3 36.1h0M99.2 103.5h0M91.0 69.0h0M91.5 39.3h0M99.5 96.1h0M90.4 53.6h0M96.8 93.2h0M93.6 63.3h0M90.3 93.3h0M99.1 97.6h0M88.6 78.3h0M100.8 87.2h0M93.4 45.6h0M87.8 88.4h0M88.0 94.1h0M96.3 69.6h0M99.5 103.1h0M95.6 42.3h0M95.2 65.7h0M90.5 102.8h0M97.2 43.9h0M90.2 60.0h0M95.0 58.7h0M93.2 94.4h0M89.5 87.6h0M91.6 104.0h0M100.3 58.9h0M95.5 43.1h0M92.7 80.5h0M95.9 60.0h0M87.5 44.1h0M94.8 47.5h0M91.3 80.1h0M99.6 72.6h0M90.6 77.8h0M90.9 92.1h0M89.2 54.1h0M93.1 101.3h0M89.3 49.0h0M88.8 50.6h0M91.7 63.8h0M97.6 64.5h0M93.7 63.9h0M184.3 132.4h0M166.1 132.8h0M171.3 127.5h0M163.8 118.5h0M162.7 127.9h0M168.0 124.1h0M154.8 116.4h0M161.5 127.5h0M172.3 112.6h0M181.0 122.0h0M147.6 118.2h0M155.0 130.6h0M172.6 119.7h0M156.9 118.9h0M158.6 120.1h0M185.1 129.8h0M180.3 132.0h0M178.0 115.0h0M157.4 124.1h0M186.7 125.4h0M166.3 117.8h0M161.7 113.5h0M178.0 120.3h0M190.2 119.0h0M177.4 127.5h0M158.7 118.5h0M146.3 126.0h0M162.2 116.6h0M166.7 133.0h0M156.9 116.1h0M176.7 127.0h0M170.6 116.5h0M153.1 117.8h0M170.7 123.0h0M172.8 128.5h0M190.5 122.8h0M151.4 125.7h0M184.7 115.3h0M159.3 131.2h0M179.8 114.9h0M179.7 130.0h0M165.2 115.9h0M178.3 119.5h0M151.0 116.1h0M164.9 115.3h0M164.0 124.6h0M172.7 121.4h0M161.1 133.0h0M183.8 124.3h0M185.0 125.1h0M150.1 118.1h0M160.7 121.5h0M172.0 114.7h0M180.7 130.0h0M185.4 131.9h0M160.5 115.7h0M183.6 127.8h0M163.3 120.1h0M152.0 130.8h0M168.0 130.4h0M161.7 119.6h0M170.7 128.9h0M189.9 120.3h0M180.1 121.4h0M188.8 129.2h0M172.9 120.5h0M158.2 132.0h0M185.6 119.2h0M186.1 124.1h0M172.8 124.4h0M165.3 124.8h0M179.0 126.6h0M185.9 127.7h0M184.5 115.9h0M171.6 129.4h0M152.1 124.1h0M190.8 128.9h0M164.7 123.0h0M184.7 127.5h0M159.8 128.6h0M169.3 130.1h0M162.9 131.9h0M179.6 122.4h0M173.3 130.2h0M171.5 133.6h0M181.1 123.3h0M188.2 115.8h0M161.6 128.2h0M186.8 120.7h0M148.0 125.0h0M160.7 118.2h0M167.3 114.2h0M173.1 122.3h0M160.0 125.8h0M162.0 134.0h0M150.4 120.1h0M150.6 121.8h0M158.2 113.7h0M171.5 119.1h0M179.0 124.8h0M175.1 119.1h0M182.2 127.7h0M181.1 122.9h0M168.1 118.8h0M146.1 122.8h0M176.0 116.6h0M188.4 130.5h0M169.4 116.4h0M158.1 128.7h0M162.2 125.6h0M161.6 132.5h0M161.1 119.2h0M174.7 130.7h0M147.3 124.4h0M171.8 133.6h0M173.2 120.4h0M174.0 133.0h0M157.4 130.6h0M145.0 121.7h0M163.1 125.3h0M156.3 128.1h0M177.9 114.6h0M180.2 120.2h0M167.9 130.0h0M171.7 118.5h0M171.0 134.1h0M182.0 127.2h0M187.8 121.5h0M173.1 131.2h0M154.4 131.4h0M145.3 124.3h0M173.9 115.7h0M191.9 122.2h0M153.6 121.6h0M174.8 121.9h0M181.1 115.4h0M157.3 130.3h0M183.2 125.7h0M166.4 117.7h0M174.6 134.1h0M180.1 114.9h0M155.6 122.2h0M160.4 123.0h0M152.4 121.4h0M180.4 119.6h0M185.4 116.6h0M149.3 126.3h0M167.6 132.7h0M149.5 128.9h0M178.8 120.6h0M150.7 126.0h0M183.4 122.9h0M168.6 127.6h0M175.7 121.8h0M153.7 122.7h0M172.6 132.2h0M195.7 124.7h0M161.1 117.4h0M176.8 128.7h0M156.9 127.7h0M192.8 122.1h0M177.9 131.6h0M154.6 120.1h0M159.9 123.0h0M182.7 126.4h0M192.4 127.2h0M145.9 122.0h0M145.4 124.1h0M176.9 117.0h0M188.5 121.6h0M193.9 120.4h0M176.2 124.4h0M157.7 129.7h0M160.7 131.9h0M170.0 113.3h0M159.6 125.9h0M186.1 114.9h0M184.5 121.1h0M171.3 121.8h0M166.8 134.3h0M182.3 127.9h0M187.2 127.3h0M176.8 119.4h0M157.9 132.8h0M171.7 112.9h0M161.7 120.2h0M149.8 128.5h0M186.1 129.9h0M185.2 115.2h0M187.8 130.7h0M170.8 117.7h0M195.1 121.6h0M184.1 130.1h0M174.2 134.2h0M183.0 117.5h0M160.9 120.0h0M166.6 115.3h0M195.9 123.4h0M180.5 123.9h0M183.9 119.9h0M165.5 128.9h0M180.5 132.0h0M160.1 131.2h0M182.3 125.1h0M165.2 125.0h0M160.2 115.2h0M182.0 126.0h0M154.7 128.4h0M186.9 126.1h0M155.8 124.9h0M164.5 118.4h0M176.9 133.0h0M152.9 118.3h0M170.5 113.8h0M159.7 124.4h0M169.1 132.5h0M174.0 126.5h0M174.4 129.8h0M155.6 127.0h0M169.7 112.6h0M157.5 120.9h0M157.5 117.9h0M160.9 121.6h0M162.7 119.6h0M182.4 123.3h0M190.8 122.6h0M154.7 130.5h0M170.1 124.8h0M150.1 119.5h0M176.1 127.3h0M176.7 126.1h0M163.7 114.0h0M152.9 120.1h0M154.4 131.4h0M186.6 130.8h0M163.8 133.1h0M157.5 125.1h0M179.0 117.6h0M163.8 114.7h0M185.4 116.6h0M151.1 118.6h0M177.3 126.5h0M171.3 131.3h0M183.1 117.1h0M171.8 116.2h0M156.6 115.7h0M148.0 120.2h0M190.1 126.9h0M148.6 117.3h0M174.8 124.2h0M173.4 125.7h0M156.5 125.5h0M171.5 120.0h0M193.2 121.2h0M166.0 124.4h0M184.0 124.4h0M181.3 126.5h0M183.5 117.3h0M173.6 122.2h0M156.0 129.7h0M155.5 128.1h0M169.4 121.9h0M180.7 128.4h0M185.6 118.3h0M178.8 123.4h0M192.9 122.3h0M162.6 113.1h0M168.4 124.2h0M160.0 114.8h0M169.2 114.1h0M152.9 122.3h0M162.1 123.5h0M171.6 121.0h0M173.1 133.8h0M158.6 120.2h0M160.6 128.8h0M169.6 130.0h0M154.7 120.6h0M164.8 121.0h0M194.2 122.2h0M173.9 133.7h0M177.4 125.6h0M187.1 119.9h0M171.8 125.3h0M147.5 128.9h0M163.4 126.6h0M158.7 132.7h0M163.2 118.6h0M190.5 117.4h0M158.1 123.2h0M154.9 130.0h0M147.9 121.6h0M184.7 128.2h0M185.2 115.1h0M190.3 120.4h0M186.3 122.9h0M190.4 123.0h0M157.4 115.8h0M169.8 113.6h0M173.8 131.5h0M151.8 123.1h0M168.4 114.9h0M157.7 132.8h0M181.6 123.7h0M175.7 131.4h0M193.6 125.6h0M152.6 117.8h0M151.1 123.8h0M174.3 122.6h0M168.4 115.6h0M181.3 124.3h0M160.1 130.8h0M164.2 122.4h0M157.3 128.9h0M170.3 133.8h0M190.2 122.4h0M149.4 122.5h0M170.9 129.8h0M153.7 118.6h0M175.8 114.6h0M183.0 121.8h0M189.6 117.5h0M148.0 121.1h0M194.5 120.3h0M170.8 124.4h0M149.1 125.3h0M167.2 119.7h0M187.2 127.7h0M177.1 133.8h0M150.5 129.9h0M183.6 122.9h0M150.2 117.2h0M150.7 125.9h0M176.5 131.4h0M157.7 131.6h0M149.8 129.9h0M190.6 124.9h0M175.5 126.0h0M184.1 123.9h0M149.9 117.4h0M178.0 114.2h0M149.6 118.0h0M185.4 124.5h0M162.6 133.7h0M174.2 117.7h0M173.4 131.3h0M163.2 122.1h0M174.0 134.2h0M177.2 116.5h0M174.3 119.6h0M168.6 128.2h0M145.1 123.7h0M160.3 125.7h0M186.7 122.8h0M176.7 118.9h0M157.3 123.7h0M171.7 117.4h0M183.8 123.5h0M162.5 118.1h0M147.7 126.4h0M179.3 119.9h0M167.0 127.5h0M152.3 120.5h0M184.9 127.5h0M174.4 114.8h0M155.3 118.1h0M145.6 126.6h0M173.8 132.8h0M172.8 132.7h0M168.4 123.9h0M158.6 122.7h0M192.7 123.2h0M154.3 126.2h0M170.5 123.0h0M180.4 125.6h0M177.9 123.5h0M145.9 122.4h0M187.4 125.7h0M191.0 124.5h0M152.6 128.0h0M177.6 130.3h0M148.6 122.7h0M186.1 120.0h0M147.3 124.8h0M193.6 126.1h0M174.0 116.5h0M161.3 115.8h0M168.1 113.5h0M178.1 126.7h0M191.0 129.4h0M172.2 133.1h0M169.6 114.3h0M180.6 116.3h0M195.2 124.4h0M190.9 123.3h0M161.0 127.1h0M180.9 122.6h0M158.3 121.7h0M181.2 117.5h0M152.2 123.1h0M178.2 114.0h0M157.9 129.5h0M159.9 114.4h0M169.3 131.6h0M180.6 126.2h0M169.1 127.1h0M171.1 116.5h0M180.2 115.3h0M160.1 131.2h0M173.5 123.7h0M180.9 123.3h0M164.0 124.6h0M191.2 126.9h0M152.2 131.3h0M158.7 130.2h0M177.9 125.8h0M182.6 118.4h0M187.4 124.4h0M183.4 131.0h0M157.2 121.5h0M162.8 114.2h0M189.5 127.6h0M169.5 124.5h0M162.6 127.6h0M171.8 123.4h0M157.5 117.4h0M178.9 120.0h0M170.8 114.8h0M162.7 114.1h0M170.1 133.6h0M183.6 120.5h0M158.4 133.0h0M193.5 126.7h0M164.2 121.9h0M175.6 124.1h0M184.5 126.7h0M178.1 114.1h0M162.9 122.9h0M177.0 113.9h0M173.2 128.8h0M152.2 129.2h0M181.3 124.5h0M186.9 130.2h0M176.7 127.2h0M153.3 119.9h0M160.9 131.4h0M184.6 118.9h0M147.2 119.7h0M162.7 121.0h0M188.5 124.2h0M176.8 122.2h0M167.9 133.6h0M158.4 124.1h0M168.9 115.6h0M151.6 123.6h0M185.5 122.0h0M146.3 126.8h0M151.6 118.2h0M165.9 129.1h0M166.6 121.7h0M164.9 124.0h0M153.9 115.4h0M172.5 120.2h0M179.2 120.5h0M192.2 119.1h0M166.5 119.5h0M171.7 118.7h0M178.8 121.6h0M180.8 118.9h0M167.7 124.8h0M181.4 126.9h0M166.3 114.4h0M153.6 116.5h0M178.4 120.0h0M191.2 117.6h0M156.8 116.5h0M151.5 127.5h0M174.1 118.0h0M186.1 127.4h0M166.3 125.9h0M178.1 122.2h0M148.8 120.5h0M193.2 120.7h0M177.2 114.4h0M184.2 131.5h0M163.4 120.7h0M170.7 118.1h0M154.9 115.3h0M179.7 123.7h0M189.4 126.0h0M176.2 122.1h0M166.1 115.7h0M172.5 118.5h0M173.9 131.8h0M159.3 125.2h0M158.4 130.8h0M154.9 126.7h0M172.9 119.7h0M148.2 123.2h0M171.2 130.5h0M154.6 116.6h0M159.9 130.2h0M156.1 126.4h0M180.8 123.4h0M149.9 122.9h0M192.9 121.1h0M173.0 121.7h0M170.3 113.5h0M189.9 125.3h0M162.0 118.8h0M187.7 120.8h0M175.4 124.7h0M182.2 116.1h0M173.4 112.9h0M178.0 126.0h0M171.2 112.8h0M193.8 123.3h0M187.4 123.0h0M155.3 121.4h0M147.9 125.3h0M155.4 127.9h0M153.0 127.7h0M176.1 128.2h0M193.4 119.0h0M179.5 121.2h0M183.7 125.7h0M157.6 132.5h0M161.6 130.6h0M179.3 131.0h0M185.7 122.5h0M164.5 130.0h0M178.0 124.4h0M144.7 122.7h0M155.7 115.4h0M183.2 127.4h0M165.3 125.6h0M172.8 133.4h0M170.4 124.4h0M168.0 121.6h0M179.9 115.0h0M180.0 132.9h0M183.6 124.4h0M162.4 114.6h0M148.8 124.4h0M153.5 129.0h0M186.0 123.1h0M188.6 116.6h0M161.4 123.8h0M181.8 122.4h0M159.7 131.6h0M164.4 121.7h0M155.6 123.1h0M180.7 120.5h0M178.4 123.4h0M159.0 124.5h0M152.0 131.2h0M170.9 113.4h0M158.1 123.7h0M153.1 119.2h0M191.0 122.3h0M156.1 125.6h0M149.9 123.9h0M177.7 114.5h0M172.5 119.3h0M182.7 126.0h0M191.3 125.9h0M153.5 116.6h0M180.6 130.3h0M147.3 121.7h0M158.7 122.8h0M189.4 124.8h0M182.7 129.3h0M158.4 126.1h0M163.5 122.9h0M171.6 127.2h0M152.8 130.9h0M152.4 119.4h0M163.1 133.4h0M183.6 116.1h0M150.4 120.4h0M148.4 122.9h0M162.0 128.7h0M169.6 133.7h0M187.9 116.3h0M173.4 124.1h0M152.8 119.6h0M155.4 116.8h0M175.9 119.6h0M183.9 125.1h0M188.1 123.7h0M176.9 117.7h0M180.2 121.4h0M181.5 125.4h0M151.3 119.1h0M176.9 124.5h0M181.2 119.7h0M168.8 123.0h0M183.0 114.1h0M170.5 118.2h0M174.6 118.2h0M154.7 117.6h0M190.5 120.5h0M189.8 128.7h0M158.0 124.7h0M176.8 115.0h0M171.0 123.4h0M178.9 118.9h0M191.3 126.2h0M190.0 119.2h0M181.0 131.4h0M187.5 118.0h0M185.7 127.6h0M168.2 132.3h0M193.9 125.1h0M182.2 127.3h0M164.8 123.5h0M170.4 117.2h0M157.6 131.1h0M188.0 127.8h0M179.8 123.7h0M173.8 127.2h0M144.4 122.3h0M168.3 114.2h0M157.3 130.6h0M185.5 131.6h0M157.4 133.0h0M163.3 122.4h0M193.4 124.5h0M179.4 114.9h0M179.3 116.7h0M181.0 119.5h0M171.4 114.2h0M187.3 129.8h0M174.2 127.7h0M161.7 115.3h0M160.9 128.8h0M173.3 115.5h0M156.5 123.0h0M167.4 115.4h0M183.0 130.0h0M160.4 124.4h0M164.1 134.0h0M160.1 121.8h0M160.4 126.8h0M189.9 127.7h0M181.6 123.6h0M175.1 129.8h0M184.4 127.3h0M147.3 123.0h0M158.0 125.9h0M164.6 122.5h0M172.0 125.4h0M190.3 118.7h0M158.3 116.6h0M162.7 132.4h0M170.1 112.8h0M157.2 122.9h0M179.4 115.9h0M150.4 119.8h0M149.4 130.1h0M185.8 131.1h0M177.8 119.1h0M148.9 126.7h0M151.6 127.2h0M179.0 117.6h0M168.8 117.2h0M189.3 126.4h0M179.9 126.2h0M184.5 123.8h0M174.7 123.3h0M183.3 124.2h0M158.4 123.9h0M171.1 131.6h0M181.4 117.1h0M170.4 125.3h0M174.1 122.6h0M170.5 127.6h0M189.8 123.8h0M184.8 127.5h0M150.2 118.2h0M160.3 120.3h0M169.5 119.0h0M163.3 127.9h0M176.7 133.6h0M163.5 131.8h0M185.8 119.5h0M151.5 130.2h0M165.6 120.2h0M168.1 128.5h0M183.9 116.4h0M154.4 120.0h0M153.2 123.0h0M150.9 126.9h0M165.4 117.9h0M179.7 119.7h0M183.2 131.8h0M159.3 118.3h0M180.2 115.7h0M194.3 126.9h0M172.5 113.6h0M158.7 121.8h0M174.8 114.2h0M186.2 129.0h0M153.3 117.8h0M146.0 124.6h0M185.1 118.8h0M151.3 120.9h0M185.0 124.5h0M185.5 119.9h0M181.6 123.7h0M183.7 116.9h0M158.5 117.2h0M188.2 128.0h0M152.1 128.5h0M146.0 122.8h0M157.4 129.3h0M181.4 127.5h0M177.3 127.8h0M190.7 120.4h0M171.0 126.8h0M192.1 126.8h0M170.8 129.4h0M169.5 113.2h0M172.5 121.6h0M161.4 121.2h0M155.5 119.4h0M182.8 132.0h0M167.7 131.1h0M150.5 123.8h0M182.7 129.7h0M164.1 116.2h0M194.0 125.9h0M178.0 120.1h0M149.9 125.0h0M165.0 132.1h0M178.5 129.1h0M173.6 129.1h0M174.2 125.6h0M180.7 128.5h0M178.7 118.1h0M169.3 129.4h0M177.3 132.5h0M148.6 129.5h0M171.8 114.1h0M165.8 127.2h0M170.5 130.0h0M192.8 120.0h0M154.9 115.7h0M155.4 121.7h0M180.8 133.1h0M173.0 133.5h0M166.2 127.0h0M186.1 115.0h0M159.6 124.1h0M171.3 113.2h0M149.7 127.4h0M165.0 114.5h0M168.9 120.7h0M172.7 133.6h0M184.4 115.0h0M172.1 120.4h0M175.4 118.1h0M166.7 124.1h0M163.7 124.9h0M148.7 121.8h0M195.3 121.3h0M170.3 129.1h0M186.2 128.7h0M163.8 128.2h0M154.4 126.1h0M153.1 120.2h0M176.0 131.0h0M192.9 122.4h0M184.6 126.8h0M184.4 115.8h0M148.3 124.0h0M175.5 127.6h0M153.3 125.0h0M179.0 122.2h0M165.8 122.8h0M158.5 116.3h0M190.8 120.5h0M189.5 124.9h0M181.0 122.4h0M156.7 124.9h0M160.2 130.7h0M146.2 126.5h0M161.6 121.7h0M172.2 134.1h0M171.4 124.9h0M154.3 129.9h0M169.2 129.3h0M191.9 126.2h0M180.1 124.6h0M150.8 122.6h0M195.0 120.9h0M151.0 122.1h0M147.1 125.9h0M155.9 117.3h0M177.1 132.9h0M174.3 123.2h0M165.9 112.7h0M162.3 124.0h0M161.7 131.1h0M186.2 130.0h0M169.6 123.5h0M169.6 122.5h0M165.1 123.4h0M149.5 129.1h0M171.0 116.2h0M154.0 123.0h0M157.9 129.9h0M161.5 132.9h0M160.1 131.2h0M149.3 127.3h0M169.1 117.3h0M150.3 117.8h0M182.2 125.2h0M150.8 118.8h0M183.2 122.9h0M154.7 118.1h0M153.9 126.3h0M174.9 123.9h0M184.2 124.2h0M160.4 127.2h0M169.3 115.6h0M182.9 122.0h0M187.6 127.2h0M193.9 125.3h0M175.0 133.9h0M185.8 119.9h0M192.5 127.1h0M193.3 125.9h0M182.8 125.6h0M182.6 122.4h0M150.5 124.8h0M157.8 118.3h0M189.6 126.1h0M182.9 130.5h0M166.7 122.4h0M166.5 120.4h0M184.5 132.0h0M159.5 128.1h0M179.6 129.6h0M181.4 119.6h0M183.5 131.1h0M166.6 118.5h0M163.6 124.1h0M171.4 119.0h0M147.1 126.4h0M181.3 127.8h0M164.6 131.4h0M145.0 124.7h0M171.2 117.5h0M171.3 112.6h0M178.1 123.7h0M172.0 131.0h0M177.3 133.2h0M179.4 132.6h0M160.6 132.8h0M183.3 121.1h0M171.2 129.7h0M147.0 124.4h0M173.5 128.3h0M161.8 125.8h0M182.3 120.9h0M179.4 132.4h0M163.2 124.1h0M169.2 130.9h0M158.0 118.8h0M164.4 126.9h0M170.2 128.6h0M165.4 113.1h0M164.0 125.1h0M174.5 122.6h0M161.5 126.8h0M153.1 123.2h0M158.1 124.9h0M179.8 123.9h0M183.0 126.2h0M148.3 126.9h0M169.2 129.2h0M192.7 120.2h0M188.2 117.6h0M186.9 122.3h0M167.6 123.4h0M163.4 117.6h0M180.0 126.3h0M192.4 118.7h0M159.3 125.2h0M163.4 133.3h0M155.7 116.3h0M167.1 118.7h0M179.1 132.0h0M149.8 119.3h0M151.0 122.0h0M162.9 128.5h0M165.9 126.7h0M150.9 125.9h0M151.3 116.2h0M192.4 117.1h0M171.5 122.3h0M168.3 124.5h0M170.4 126.7h0M159.2 119.4h0M156.2 142.1h0M186.9 124.1h0M154.5 130.8h0M160.8 140.9h0M190.0 124.8h0M181.5 118.0h0M144.0 134.5h0M154.5 124.0h0M191.8 126.5h0M170.7 126.2h0M185.6 125.6h0M173.8 125.3h0M152.1 139.5h0M159.2 112.8h0M163.6 126.3h0M185.1 111.2h0M149.4 127.8h0M177.6 115.0h0M151.7 127.8h0M156.1 140.9h0M152.9 136.5h0M144.9 140.9h0M198.4 119.6h0M159.4 132.3h0M149.8 131.5h0M191.9 128.6h0M176.6 124.4h0M188.2 117.8h0M198.2 125.8h0M163.5 128.4h0M168.9 119.1h0M150.6 126.0h0M158.1 134.7h0M179.9 122.6h0M173.2 116.3h0M153.1 118.6h0M170.1 117.6h0M163.9 117.4h0M175.0 114.6h0M170.7 127.0h0M187.4 118.6h0M151.5 111.0h0M184.0 119.7h0M187.9 125.2h0M159.5 133.9h0M160.6 132.8h0M176.5 113.6h0M162.0 119.4h0M156.3 133.9h0M173.5 133.5h0M185.6 114.5h0M148.0 130.7h0M171.6 126.8h0M157.1 136.2h0M179.5 137.5h0M165.0 133.0h0M170.0 116.6h0M167.9 127.8h0M182.9 115.4h0M148.3 118.7h0M158.1 119.2h0M169.1 125.2h0M158.5 118.8h0M193.2 140.2h0M166.2 133.1h0M178.9 127.1h0M168.7 138.2h0M180.7 123.7h0M167.0 135.4h0M160.9 118.8h0M166.3 121.0h0M192.5 129.6h0M169.5 120.7h0M195.1 130.4h0M167.3 120.5h0M166.1 127.8h0M184.5 130.9h0M197.8 110.7h0M171.5 111.8h0M153.4 120.0h0M159.9 116.3h0M145.1 137.4h0M165.5 135.7h0M160.9 134.8h0M161.5 130.0h0M152.6 140.0h0M178.4 136.5h0M166.3 138.8h0M172.2 121.1h0M160.1 126.5h0M155.5 114.0h0M173.2 133.1h0M166.0 134.4h0M198.0 113.3h0M175.4 116.3h0M160.0 127.8h0M185.3 131.4h0M182.0 144.2h0M164.8 137.0h0M195.7 130.9h0M170.0 133.6h0M166.6 124.2h0M196.0 119.8h0M154.9 126.4h0M190.1 131.9h0M172.2 121.1h0M192.0 134.9h0M181.4 119.7h0M149.0 123.0h0M170.6 137.9h0M149.3 122.4h0M161.5 127.9h0M184.3 115.9h0M144.0 110.6h0M185.4 129.1h0M183.5 138.2h0M171.8 128.4h0M177.9 130.7h0M152.9 123.2h0M168.4 126.3h0M158.2 124.7h0M175.9 127.9h0M181.0 134.2h0M180.5 135.7h0M185.3 140.0h0M181.7 119.8h0M192.3 133.3h0M171.8 114.5h0M178.4 122.4h0M197.4 114.3h0M152.2 130.7h0M180.7 118.0h0M170.9 128.5h0M173.7 131.3h0M184.2 122.3h0M164.4 116.1h0M183.8 131.9h0M160.5 149.6h0M170.3 129.1h0M176.4 123.7h0M176.4 112.9h0M164.2 144.5h0M186.0 121.9h0M161.1 110.9h0M168.9 124.2h0M173.6 130.2h0M190.4 131.2h0M196.9 138.0h0M169.2 115.5h0M178.4 135.6h0M144.6 113.6h0M182.7 120.4h0M195.9 128.2h0M161.6 112.7h0M148.8 112.8h0M167.2 122.1h0M182.9 138.5h0M157.2 148.1h0M167.5 137.3h0M159.1 145.9h0M167.3 113.2h0M170.9 113.4h0M182.5 127.9h0M166.0 122.0h0M161.2 118.8h0M147.0 138.1h0M186.2 112.0h0M151.1 130.1h0M165.6 123.5h0M175.2 124.2h0M189.5 135.8h0M180.4 141.8h0M167.0 120.5h0M177.1 115.3h0M168.6 122.1h0M152.5 137.2h0M164.2 130.5h0M162.0 127.5h0M163.3 126.7h0M169.3 119.2h0M178.4 124.1h0M154.4 115.5h0M178.5 139.3h0M148.6 121.8h0M178.7 136.4h0M183.1 114.1h0M171.6 135.0h0M175.1 123.7h0M150.8 127.6h0M169.9 126.3h0M196.6 137.9h0M157.4 128.3h0M165.7 127.0h0M171.7 119.4h0M168.2 129.6h0M162.5 137.0h0M171.3 114.1h0M166.4 124.8h0M187.9 137.2h0M195.9 141.6h0M176.4 127.1h0M188.4 125.7h0M149.5 121.4h0M182.3 132.1h0M152.1 138.0h0M176.3 110.9h0M179.0 136.1h0M180.1 122.9h0M157.3 137.2h0M174.8 125.9h0M164.2 115.6h0M189.9 133.7h0M159.4 141.3h0M167.1 115.9h0M187.7 139.9h0M164.3 113.7h0M171.9 141.3h0M175.7 118.6h0M183.1 121.0h0M192.6 122.4h0M174.3 116.6h0M149.2 129.5h0M177.0 116.2h0M180.6 121.9h0M161.6 125.3h0M177.7 133.3h0M192.1 129.8h0M158.6 119.1h0M177.3 114.0h0M168.1 122.1h0M169.3 127.8h0M188.8 142.4h0M186.1 136.1h0M152.8 136.4h0M193.1 112.4h0M172.1 118.0h0M161.2 136.7h0M175.4 122.2h0M190.6 116.6h0M156.5 120.4h0M158.2 132.9h0M167.1 115.4h0M173.8 127.0h0M181.4 123.6h0M177.8 116.6h0M171.4 127.6h0M150.3 131.9h0M173.4 126.5h0M162.8 146.1h0M171.0 118.3h0M156.5 131.9h0M167.4 118.1h0M158.7 135.3h0M172.5 136.6h0M170.7 114.1h0M185.8 129.2h0M159.8 122.9h0M154.4 134.3h0M163.9 130.8h0M175.4 123.4h0M177.3 123.5h0M150.9 121.8h0M150.9 133.6h0M182.1 120.1h0M181.6 128.5h0M187.6 116.6h0M171.4 116.1h0M159.4 139.7h0M179.3 133.8h0M189.8 135.1h0M158.5 139.5h0M167.8 132.1h0M167.7 141.9h0M165.6 127.9h0M175.7 118.8h0M167.1 114.6h0M167.0 126.9h0M175.1 142.4h0M178.4 114.4h0M172.2 125.9h0M153.9 133.2h0M184.2 136.6h0M168.8 135.7h0M157.3 127.8h0M183.0 139.1h0M166.1 123.1h0M178.9 125.2h0M173.3 134.0h0M158.0 134.7h0M177.4 123.4h0M149.8 119.7h0M170.2 135.4h0M174.3 114.7h0M185.5 130.0h0M178.4 116.3h0M152.2 135.0h0M194.8 129.6h0M167.7 121.5h0M169.4 138.3h0M158.8 136.5h0M158.9 131.8h0M194.2 119.0h0M186.3 125.9h0M155.1 128.0h0M181.9 118.9h0M166.5 120.4h0M158.0 123.9h0M184.9 121.1h0M192.0 122.2h0M159.3 136.6h0M194.7 119.5h0M180.9 114.5h0M164.1 122.3h0M182.9 113.5h0M162.4 119.2h0M172.7 113.8h0M174.6 111.1h0M185.0 113.0h0M192.0 117.7h0M152.6 130.7h0M182.1 114.3h0M188.0 127.3h0M170.9 139.7h0M156.9 136.8h0M185.0 119.8h0M173.1 127.1h0M180.8 116.3h0M167.1 126.9h0M171.5 126.2h0M175.2 124.1h0M162.6 136.2h0M160.2 122.8h0M156.2 114.7h0M178.5 125.6h0M168.7 130.5h0M168.1 132.7h0M166.5 142.3h0M193.3 128.1h0M185.3 114.6h0M156.8 119.6h0M180.3 114.9h0M159.1 135.4h0M160.2 127.1h0M169.6 124.8h0M147.0 135.6h0M184.7 134.7h0M162.4 114.7h0M169.5 127.6h0M168.1 120.2h0M154.3 118.8h0M169.6 121.2h0M178.6 121.4h0M167.9 116.4h0M162.9 111.3h0M153.3 130.2h0M168.9 120.4h0M183.1 120.5h0M178.2 122.4h0M187.2 135.4h0M172.1 136.7h0M179.4 141.3h0M168.9 110.8h0M174.5 128.3h0M164.9 124.0h0M166.5 113.7h0M156.9 125.6h0M195.6 131.9h0M158.9 113.8h0M152.3 125.2h0M185.4 121.3h0M197.7 144.9h0M189.1 125.0h0M182.1 135.7h0M154.2 126.6h0M173.9 118.6h0M182.5 124.7h0M164.2 144.4h0M173.7 142.0h0M168.4 136.1h0M158.4 127.4h0M179.9 123.3h0M189.1 127.7h0M169.7 113.4h0M165.6 118.9h0M165.9 128.1h0M148.7 136.3h0M166.6 131.9h0M166.0 122.2h0M159.8 129.0h0M177.7 116.4h0M165.6 136.4h0M185.4 124.9h0M147.2 122.4h0M158.8 138.1h0M145.3 120.4h0M147.4 119.1h0M163.6 129.6h0M161.1 132.7h0M151.8 124.2h0M169.2 122.4h0M190.0 137.3h0M182.0 118.1h0M160.9 134.9h0M173.3 115.0h0M170.9 114.0h0M170.0 114.3h0M155.5 120.9h0M151.2 120.7h0M188.5 133.8h0M182.4 122.8h0M173.0 118.4h0M167.9 118.1h0M146.8 116.2h0M158.4 124.9h0M163.4 137.9h0M170.4 119.7h0M182.2 129.1h0M159.5 118.4h0M155.7 135.9h0M185.2 136.9h0M163.5 120.1h0M166.3 121.3h0M192.1 123.8h0M193.3 119.0h0M177.1 141.8h0M158.5 119.6h0M165.9 119.7h0M186.6 125.6h0M175.6 133.0h0M161.5 126.4h0M173.2 142.2h0M194.2 127.6h0M148.6 134.6h0M169.9 137.4h0M171.7 127.7h0M181.7 118.8h0M159.9 148.4h0M156.5 135.1h0M182.1 134.0h0M193.5 112.8h0M171.7 129.3h0M187.9 136.6h0M155.3 123.3h0M168.2 119.2h0M157.2 119.5h0M189.8 139.3h0M183.2 142.4h0M172.3 115.3h0M160.0 128.0h0M187.8 137.9h0M156.0 135.3h0M162.0 131.8h0M186.0 140.5h0M162.1 128.4h0M177.9 121.9h0M172.3 131.8h0M154.9 131.1h0M182.0 130.3h0M180.6 120.1h0M197.1 115.0h0M179.2 123.4h0M166.2 132.9h0M191.8 127.6h0M159.8 123.9h0M169.6 140.1h0M184.9 141.5h0M183.3 118.5h0M186.1 135.5h0M168.8 130.5h0M165.5 113.6h0M169.3 133.5h0M157.5 136.7h0M174.5 137.0h0M158.3 121.9h0M154.2 118.3h0M179.2 127.4h0M162.8 128.9h0M149.2 122.2h0M146.0 111.3h0M148.3 115.2h0M196.8 139.5h0M191.6 120.3h0M181.1 114.8h0M161.8 128.4h0M144.3 127.9h0M168.7 127.4h0M152.0 131.6h0M172.8 118.8h0M197.9 128.5h0M183.0 144.2h0M162.6 123.8h0M178.0 150.6h0M180.0 128.0h0M149.8 117.6h0M172.6 128.9h0M155.6 123.8h0M157.4 132.1h0M181.3 120.5h0M163.2 113.9h0M163.0 147.5h0M170.5 134.5h0M180.3 140.5h0M165.3 117.1h0M187.9 135.1h0M159.8 136.8h0M170.5 125.6h0M175.9 122.8h0M174.0 136.4h0M178.3 118.5h0M178.1 124.8h0M175.8 124.1h0M145.8 146.0h0M182.2 121.4h0M174.8 135.7h0M173.8 113.1h0M186.8 120.7h0M161.3 127.9h0M165.7 146.1h0M168.4 147.2h0M178.2 113.7h0M170.7 126.5h0M194.5 138.7h0M163.5 149.1h0M155.9 129.5h0M197.4 116.0h0M164.9 118.6h0M179.5 130.0h0M170.1 132.5h0M157.7 122.3h0M178.5 146.0h0M170.1 126.6h0M192.5 126.7h0M192.3 128.4h0M189.9 127.8h0M155.5 117.5h0M177.8 144.7h0M156.6 135.2h0M145.4 135.1h0M177.0 132.2h0M150.7 129.8h0M186.4 125.5h0M187.8 126.2h0M176.5 122.9h0M148.2 124.4h0M179.0 118.5h0M192.6 123.8h0M158.0 138.3h0M167.8 111.0h0M163.4 117.2h0M167.7 116.9h0M171.9 130.6h0M161.2 124.0h0M168.1 134.2h0M158.8 133.5h0M191.5 124.1h0M154.6 122.9h0M150.8 124.3h0M164.5 131.2h0M172.7 130.2h0M169.9 128.8h0M151.9 132.6h0M192.5 137.1h0M148.3 130.2h0M167.3 121.4h0M158.3 123.6h0M170.7 116.4h0M171.7 128.6h0M179.5 125.6h0M170.7 149.1h0M187.6 129.2h0M147.6 132.2h0M168.0 129.8h0M171.4 127.0h0M168.2 139.8h0M177.1 123.2h0M167.0 146.8h0M156.3 120.7h0M176.2 127.5h0M175.8 139.6h0M189.8 130.2h0M171.5 125.4h0M166.9 136.0h0M149.6 115.6h0M163.1 116.4h0M158.5 137.9h0M148.8 123.6h0M161.2 116.1h0M145.9 126.7h0M164.2 137.0h0M157.3 123.2h0M178.6 135.3h0M154.8 130.7h0M170.3 137.4h0M163.9 123.9h0M156.5 112.8h0M175.3 133.1h0M189.7 128.7h0M163.1 116.8h0M151.3 118.8h0M176.4 126.9h0M166.0 115.5h0M170.5 131.3h0M153.4 112.5h0M165.4 128.6h0M166.5 141.4h0M173.3 116.0h0M183.8 119.5h0M182.4 127.0h0M191.5 116.0h0M182.9 130.3h0M155.6 133.0h0M157.9 124.5h0M192.7 128.6h0M195.7 119.5h0M168.0 123.0h0M162.6 138.2h0M160.7 129.5h0M163.9 118.7h0M185.8 137.1h0M174.9 147.6h0M156.0 134.0h0M164.1 134.4h0M146.1 127.0h0M186.1 120.2h0M197.5 117.3h0M167.6 135.2h0M167.3 120.4h0M170.6 132.6h0M163.9 116.0h0M162.2 125.3h0M171.8 135.2h0M155.5 137.5h0M171.7 133.4h0M191.9 113.6h0M197.9 118.8h0M177.7 136.9h0M173.7 137.4h0M168.9 125.2h0M172.1 142.4h0M161.7 116.6h0M152.2 120.7h0M166.9 129.5h0M144.3 132.8h0M183.2 112.4h0M170.4 121.5h0M164.7 123.8h0M169.2 117.0h0M161.3 131.6h0M179.9 112.7h0M162.6 141.7h0M183.1 142.5h0M148.0 115.6h0M164.6 115.5h0M152.5 119.0h0M167.8 134.3h0M196.3 122.7h0M154.0 125.7h0M164.2 112.1h0M197.4 120.2h0M160.8 131.4h0M155.7 130.4h0M189.8 129.8h0M182.0 121.2h0M158.8 114.6h0M171.1 141.0h0M155.2 125.1h0M190.8 118.2h0M157.6 138.2h0M177.3 131.3h0M185.2 118.6h0M174.8 119.4h0M158.7 127.3h0M178.4 113.2h0M157.9 132.1h0M173.8 132.7h0M165.6 117.9h0M184.3 132.0h0M158.0 132.7h0M197.7 123.2h0M154.4 128.6h0M172.5 131.7h0M147.1 128.5h0M186.2 133.0h0M181.7 138.0h0M156.9 138.3h0M174.5 116.0h0M165.9 128.7h0M176.6 139.5h0M174.2 120.9h0M156.9 135.3h0M163.9 118.1h0M152.8 137.9h0M152.9 127.0h0M163.2 124.1h0M157.0 127.5h0M181.3 136.6h0M164.9 114.3h0M145.7 126.1h0M171.5 127.3h0M147.2 119.6h0M158.3 132.8h0M164.0 132.2h0M167.0 138.7h0M162.3 127.3h0M168.8 113.7h0M181.9 121.6h0M194.9 137.6h0M191.2 135.6h0M183.0 140.0h0M177.9 127.4h0M184.8 117.1h0M173.6 119.0h0M166.4 116.5h0M156.6 127.9h0M173.1 134.4h0M169.4 132.4h0M182.6 119.0h0M166.7 120.7h0M179.1 118.4h0M182.8 113.5h0M187.2 127.9h0M164.2 114.1h0M150.5 144.2h0M188.0 132.2h0M164.9 127.4h0M151.4 112.7h0M173.1 133.4h0M173.7 113.8h0M185.5 127.0h0M183.8 123.2h0M166.5 136.6h0M194.4 114.1h0M152.1 135.8h0M177.1 126.6h0M154.3 136.2h0M174.2 128.3h0M177.6 120.9h0M177.8 127.4h0M183.3 129.9h0M149.1 119.1h0M166.4 137.7h0M159.9 137.4h0M189.4 134.9h0M176.5 138.3h0M177.9 136.0h0M168.8 140.3h0M189.5 124.2h0M155.9 123.2h0M166.2 137.6h0M176.7 125.4h0M170.7 117.2h0M160.1 121.5h0M167.1 114.5h0M164.2 136.1h0M178.7 126.1h0M176.9 123.7h0M150.8 134.9h0M182.7 150.7h0M150.4 131.4h0M165.2 123.4h0M167.2 121.3h0M153.9 132.4h0M188.6 133.7h0M169.9 131.9h0M193.6 121.9h0M168.5 112.4h0M186.3 129.8h0M175.4 139.2h0M172.4 133.9h0M194.6 118.1h0M156.2 130.2h0M170.0 120.4h0M168.9 118.9h0M173.3 122.3h0M180.9 126.9h0M198.0 116.5h0M163.1 143.3h0M159.8 122.4h0M164.3 116.4h0M191.8 141.2h0M168.4 118.7h0M147.9 132.7h0M161.9 131.6h0M181.7 130.3h0M173.2 125.9h0M165.2 121.8h0M173.5 131.2h0M186.9 124.0h0M191.9 116.9h0M195.6 141.8h0M150.6 125.0h0M179.1 136.6h0M172.3 113.3h0M191.9 124.5h0M178.5 123.0h0M169.1 112.5h0M182.4 119.9h0M170.4 135.6h0M185.0 114.1h0M168.0 126.1h0M172.5 115.7h0M172.3 135.8h0M192.2 140.6h0M166.4 120.7h0M186.6 126.1h0M177.2 130.9h0M167.3 139.7h0M161.5 128.6h0M187.7 133.2h0M159.3 135.6h0M183.4 131.9h0M163.9 125.9h0M163.4 123.2h0M166.2 122.9h0M172.5 127.1h0M160.6 124.8h0M169.5 131.0h0M178.5 122.6h0M149.7 130.1h0M155.3 142.0h0M168.3 122.3h0M168.3 120.7h0M160.3 126.8h0M146.3 127.4h0M169.4 117.2h0M188.5 129.7h0M189.5 119.5h0M149.8 114.4h0M197.7 121.4h0M174.3 120.8h0M168.5 141.7h0M173.3 117.1h0M182.8 138.9h0M186.2 133.5h0M168.2 136.0h0M157.3 114.3h0M166.6 123.6h0M191.9 116.3h0M190.5 118.4h0M170.4 111.8h0M174.6 126.5h0M162.2 130.5h0M171.3 120.7h0M174.5 132.5h0M170.6 118.4h0M184.4 119.4h0M177.2 135.7h0M193.3 141.8h0M188.5 127.5h0M167.6 127.9h0M182.2 117.9h0M188.1 113.4h0M152.4 121.1h0M166.2 112.7h0M181.6 124.9h0M193.9 116.0h0M167.2 135.7h0M172.6 145.4h0M163.3 140.0h0M198.0 112.6h0M156.6 116.5h0M178.3 137.3h0M185.0 128.2h0M173.2 145.2h0M183.0 141.5h0M176.1 134.6h0M179.7 125.1h0M159.1 122.1h0M171.2 122.3h0M165.2 119.1h0M185.6 123.6h0M169.0 123.9h0M193.4 120.7h0M195.1 117.5h0M197.1 132.1h0M162.7 130.6h0M190.4 116.6h0M167.2 129.1h0M167.5 123.2h0M171.4 129.1h0M184.2 140.7h0M165.4 143.6h0M168.9 111.7h0M163.6 122.6h0M160.3 124.7h0M182.2 130.0h0M185.6 124.5h0M167.1 138.0h0M173.7 117.6h0M181.3 150.1h0M168.3 124.0h0M197.1 124.2h0M185.4 145.3h0M151.2 117.8h0M182.6 127.2h0M171.7 124.4h0M173.2 129.6h0M163.0 123.3h0M175.0 115.3h0M181.9 124.8h0M151.1 139.4h0M151.1 146.5h0M158.7 138.0h0M170.0 142.0h0M167.3 136.2h0M177.7 130.8h0M177.9 142.6h0M158.6 111.9h0M175.4 119.2h0M169.3 126.0h0M157.2 136.9h0M169.0 143.8h0M175.3 136.5h0M166.1 119.5h0M162.1 117.3h0M178.7 127.4h0M152.8 110.8h0M156.1 111.0h0M183.0 114.6h0M161.1 124.8h0M171.6 130.2h0M184.0 132.4h0M165.3 138.4h0M177.4 119.0h0M196.4 114.3h0M179.1 138.5h0M173.0 129.5h0M173.1 132.6h0M174.9 126.1h0M175.3 123.0h0M160.0 132.5h0M164.6 114.3h0M166.4 131.0h0M191.1 136.4h0M174.9 124.4h0M174.5 138.0h0M169.0 137.5h0M157.7 125.9h0M184.1 133.0h0M174.5 120.9h0M156.8 122.0h0M197.7 118.4h0M185.3 125.8h0M152.5 127.1h0M183.7 114.3h0M151.6 122.3h0M183.3 120.1h0M178.2 130.6h0M171.3 130.5h0M192.4 124.1h0M176.5 115.5h0M159.0 125.0h0M184.7 119.4h0M147.8 135.2h0M153.3 127.2h0M179.2 116.7h0M176.7 136.9h0M166.5 133.2h0M173.2 116.8h0M160.8 120.0h0M193.3 137.5h0M175.1 110.6h0M162.9 122.1h0M175.9 112.9h0M163.9 121.5h0M183.9 126.9h0M149.7 135.1h0M183.2 122.6h0M171.1 131.1h0M167.2 130.1h0M192.6 122.8h0M165.2 126.2h0M181.8 122.1h0M172.4 119.3h0M169.8 131.4h0M157.4 124.2h0M146.7 119.1h0M172.4 131.3h0M153.9 125.0h0M155.6 129.1h0M175.4 130.4h0M167.6 112.0h0M161.8 112.8h0M159.8 125.4h0M189.0 119.7h0M158.2 128.0h0M145.5 136.0h0M187.3 135.5h0M169.3 133.2h0M165.4 135.5h0M160.2 118.0h0M177.3 121.6h0M182.2 117.5h0M175.5 116.3h0M169.4 147.2h0M153.2 113.9h0M144.5 123.8h0M197.9 121.6h0M186.5 124.2h0M160.6 145.8h0M154.9 130.1h0M181.8 123.8h0M176.2 131.3h0M165.3 135.8h0M157.0 133.4h0M186.2 128.0h0M165.3 125.8h0M183.6 117.0h0M176.9 126.5h0M166.6 130.6h0M172.2 113.6h0M162.3 127.0h0M150.1 121.7h0M163.4 135.3h0M153.8 141.1h0M164.9 127.4h0M161.5 126.9h0M176.5 126.3h0M157.4 133.5h0M180.2 126.0h0M188.4 118.8h0M192.1 124.4h0M196.0 121.7h0M166.9 128.1h0M189.1 140.2h0M163.5 118.8h0M183.6 138.2h0M182.6 122.8h0M192.0 125.8h0M173.8 132.1h0M174.6 133.1h0M178.2 131.4h0M173.7 136.3h0M172.9 140.7h0M171.9 133.9h0M162.0 129.0h0M178.0 127.4h0M196.4 126.5h0M189.5 129.5h0M189.0 117.1h0M165.0 135.5h0M157.6 129.9h0M180.4 127.9h0M178.2 131.3h0M167.1 130.1h0M162.5 121.6h0M144.9 125.0h0M174.5 115.3h0M172.2 128.9h0M165.3 117.0h0M169.2 130.0h0M186.3 145.1h0M178.2 119.7h0M176.3 146.6h0M172.9 139.5h0M188.5 121.6h0M167.8 119.1h0M174.4 126.6h0M189.8 120.2h0M169.4 132.2h0M185.7 122.6h0M163.0 131.5h0M144.9 112.8h0M177.7 137.2h0M190.2 119.5h0M146.7 131.4h0M164.5 115.9h0M153.8 137.1h0M172.1 137.2h0M169.8 144.0h0M170.5 124.9h0M178.3 129.5h0M146.3 116.6h0M167.2 129.4h0M150.8 118.9h0M158.8 129.4h0M163.9 132.0h0M177.4 116.9h0M166.1 113.7h0M172.8 134.0h0M179.5 123.1h0M170.6 130.6h0M177.3 135.2h0M163.0 123.0h0M164.2 129.9h0M166.9 138.8h0M160.6 125.9h0M165.1 147.0h0M155.3 116.1h0M164.7 133.6h0M171.2 124.3h0M167.5 123.6h0M178.0 135.6h0M156.2 113.8h0M164.9 140.7h0M187.4 120.2h0M150.4 135.2h0M189.1 115.1h0M197.6 118.3h0M183.4 124.0h0M165.6 119.9h0M182.5 132.2h0M184.4 123.2h0M157.0 147.3h0M152.0 140.9h0M173.2 126.6h0M185.2 129.5h0M172.9 145.8h0M154.6 126.7h0M168.2 128.6h0M186.0 132.2h0M175.9 121.0h0M181.6 128.7h0M195.1 134.3h0M196.2 130.9h0M173.9 120.0h0M172.6 122.3h0M180.6 139.5h0M179.7 135.4h0M175.4 129.5h0M149.8 127.2h0M171.9 125.3h0M167.0 129.1h0M161.3 124.0h0M149.1 149.0h0M156.1 114.0h0M162.0 121.9h0M198.5 136.2h0M164.7 131.6h0M176.6 131.7h0M159.5 126.0h0M188.7 127.7h0M174.0 131.8h0M149.7 128.4h0M186.0 124.1h0M187.7 146.0h0M189.1 140.1h0M177.7 129.6h0M182.7 132.5h0M149.6 133.4h0M187.7 122.0h0M155.6 121.1h0M161.1 131.3h0M184.1 126.2h0M163.8 116.1h0M161.7 129.4h0M156.3 120.7h0M151.7 123.5h0M166.2 136.0h0M181.9 120.8h0M159.4 128.0h0M179.8 124.4h0M168.4 126.2h0M152.7 128.7h0M180.7 126.5h0M151.7 126.0h0M169.1 129.1h0M163.9 134.3h0M189.3 134.2h0M174.9 138.1h0M183.0 133.3h0M171.4 144.5h0M193.2 145.4h0M190.1 144.9h0M156.3 147.6h0M185.6 141.8h0M194.9 133.9h0M193.9 139.4h0M173.8 147.3h0M153.2 141.9h0M144.8 133.7h0M196.6 137.0h0M167.5 135.2h0M195.3 142.1h0M191.0 137.9h0M169.5 137.4h0M176.4 145.7h0M175.5 143.5h0M161.1 150.1h0M145.1 136.0h0M180.7 150.5h0M190.6 137.4h0M195.9 141.2h0M175.4 144.7h0M178.0 148.8h0M193.4 138.7h0M193.1 138.7h0M181.6 135.8h0M179.1 138.4h0M198.7 145.0h0M165.3 150.3h0M150.4 146.4h0M179.7 133.3h0M169.3 135.1h0M199.0 134.8h0M179.0 142.8h0M150.9 149.8h0M175.6 144.1h0M158.5 135.8h0M161.9 133.6h0M155.1 141.9h0M165.5 146.7h0M151.8 136.7h0M172.8 145.4h0M161.3 136.7h0M150.9 139.5h0M164.9 147.3h0M157.2 139.1h0M185.0 136.7h0M146.1 150.5h0M194.3 138.7h0M159.6 141.3h0M155.6 147.2h0M192.7 145.8h0M166.0 148.1h0M195.5 136.3h0M180.8 136.1h0M198.2 147.3h0M166.5 146.3h0M160.1 134.1h0M172.2 134.4h0M169.1 148.4h0M175.7 137.8h0M155.7 143.0h0M172.0 149.3h0M153.4 141.4h0M168.6 139.8h0M154.2 139.9h0M173.9 136.5h0M161.6 142.5h0M195.7 141.7h0M163.0 133.6h0M172.5 139.2h0M150.4 141.5h0M177.9 139.3h0M184.4 144.4h0M147.5 133.9h0M172.9 143.9h0M174.6 137.1h0M162.9 145.9h0M165.8 142.5h0M156.6 144.3h0M170.4 133.1h0M185.5 147.5h0M198.3 150.0h0M182.6 141.4h0M158.6 145.7h0M167.0 138.8h0M150.4 143.9h0M183.1 146.8h0M152.4 136.7h0M179.0 135.3h0M192.7 149.7h0M178.7 137.7h0M174.9 146.8h0M163.0 144.7h0M177.1 149.4h0M186.7 145.0h0M174.0 149.0h0M177.1 145.4h0M161.1 134.9h0M174.7 137.0h0M197.3 137.0h0M193.3 139.0h0M154.5 143.4h0M161.7 150.9h0M178.0 134.8h0M161.1 135.0h0M171.1 142.5h0M161.4 145.1h0M168.5 147.8h0M181.4 137.7h0M189.6 133.5h0M156.9 133.5h0M196.3 142.6h0M190.3 150.8h0M149.0 149.2h0M145.1 145.6h0M187.6 139.9h0M193.0 146.8h0M171.4 138.1h0M152.8 134.4h0M173.8 142.4h0M154.3 142.5h0M148.4 138.4h0M180.8 135.7h0M172.8 135.4h0M192.5 136.8h0M195.2 149.5h0M197.1 138.1h0M181.5 134.3h0M197.5 145.5h0M146.0 135.5h0M149.8 139.3h0M195.5 147.2h0M161.9 147.6h0M144.6 142.8h0M165.4 134.4h0M194.6 144.8h0M198.8 144.5h0M178.2 135.3h0M170.2 149.1h0M174.7 144.5h0M169.3 139.4h0M144.6 136.9h0M154.2 134.6h0M147.0 146.6h0M198.7 145.6h0M189.7 136.8h0M190.7 139.9h0M191.0 137.3h0M160.4 142.5h0M156.3 137.7h0M184.0 147.2h0M198.1 144.8h0M163.3 141.4h0M176.2 143.7h0M194.5 143.2h0M196.9 141.6h0M168.5 133.5h0M161.8 141.7h0M144.6 140.9h0M150.4 137.8h0M192.6 149.5h0M150.3 143.6h0M170.8 134.0h0M160.4 142.6h0M167.4 143.3h0M147.6 144.0h0M177.6 136.4h0M175.2 149.8h0M193.0 144.1h0M172.6 146.5h0M169.0 145.7h0M164.5 143.0h0M184.4 143.5h0M177.2 139.9h0M163.3 144.8h0M168.5 140.9h0M164.8 138.2h0M178.4 148.8h0M154.7 144.7h0M173.2 144.5h0M180.5 140.2h0M144.6 139.5h0M172.7 144.3h0M195.0 144.8h0M179.9 139.3h0M187.7 135.3h0M192.7 141.8h0M168.9 145.5h0M173.9 150.9h0M150.6 134.1h0M176.7 137.1h0M156.5 151.0h0M173.1 138.3h0M164.1 137.1h0M157.9 135.4h0M197.7 146.2h0M163.8 135.0h0M197.7 149.0h0M149.2 148.6h0M174.3 150.7h0M168.2 140.8h0M144.5 143.4h0M157.1 148.9h0M156.3 148.9h0M162.3 147.5h0M183.3 149.8h0M175.6 139.5h0M158.5 137.2h0M149.7 138.4h0M161.4 147.8h0M144.4 142.0h0M171.9 135.8h0M182.1 136.7h0M184.9 136.1h0M192.3 138.6h0M149.2 135.7h0M155.2 135.4h0M161.3 150.5h0M164.6 140.1h0M185.4 134.3h0M148.8 148.7h0M162.0 136.1h0M154.1 146.4h0M197.8 140.2h0M183.1 141.3h0M155.2 138.7h0M162.7 137.5h0M182.9 104.0h0M165.0 107.5h0M149.5 108.8h0M175.1 107.1h0M156.5 104.6h0M185.1 108.9h0M148.7 108.0h0M156.8 103.9h0M174.3 104.0h0M185.0 108.1h0M160.6 104.3h0M170.6 107.6h0M149.7 107.4h0M153.4 105.6h0M155.3 103.9h0M171.5 105.1h0M188.1 108.5h0M180.0 106.3h0M176.5 105.3h0M168.6 106.5h0M166.5 105.9h0M185.5 108.9h0M216.8 133.1h0M218.5 141.8h0M218.2 111.2h0M225.0 119.3h0M217.0 132.5h0M213.1 130.1h0M224.9 111.6h0M209.1 124.5h0M216.6 115.8h0M205.9 138.7h0M219.4 115.3h0M220.3 128.5h0M218.3 115.2h0M216.4 134.2h0M208.7 118.2h0M222.3 150.0h0M220.8 128.4h0M212.0 124.9h0M216.2 133.8h0M211.6 129.1h0M222.4 133.4h0M203.7 111.9h0M224.2 135.3h0M219.8 145.2h0M215.2 123.4h0M212.4 131.7h0M219.7 139.0h0M224.7 135.7h0M223.6 126.5h0M212.7 136.8h0M222.6 143.2h0M216.7 124.2h0M215.7 132.9h0M217.2 127.2h0M218.8 126.1h0M219.2 122.8h0M209.7 125.9h0M227.0 120.6h0M222.1 143.3h0M214.8 131.8h0M206.0 135.1h0M225.2 131.1h0M207.5 123.0h0M213.8 130.3h0M218.9 124.8h0M215.9 120.5h0M220.4 131.2h0M219.2 123.8h0M220.0 126.0h0M219.0 127.4h0M214.2 117.6h0M208.1 114.7h0M209.3 120.5h0M216.5 116.8h0M219.6 151.1h0M203.5 116.7h0M223.7 116.8h0M217.0 122.4h0M221.3 113.7h0M219.0 131.4h0M220.3 133.6h0M215.9 119.1h0M220.2 126.6h0M218.3 140.7h0M217.0 146.9h0M221.7 113.4h0M214.6 142.0h0M215.0 141.7h0M214.7 127.8h0M222.6 112.4h0M217.9 124.3h0M218.3 147.2h0M220.0 114.7h0M222.3 124.3h0M218.3 141.3h0M215.9 139.2h0M218.4 119.5h0M215.9 114.6h0M223.4 130.8h0M222.3 117.2h0M221.7 116.4h0M218.9 128.9h0M214.5 132.3h0M217.7 119.8h0M213.8 115.2h0M224.4 130.6h0M215.7 136.4h0M213.2 116.7h0M219.3 145.9h0M219.0 130.7h0M226.2 112.6h0M217.1 114.8h0M211.4 126.5h0M214.4 131.9h0M212.4 126.3h0M216.0 125.9h0M214.9 127.8h0M208.5 124.3h0M214.9 118.1h0M223.8 150.3h0M221.5 119.8h0M224.6 134.3h0M213.4 135.5h0M214.6 135.1h0M222.1 141.3h0M212.2 127.7h0M217.5 116.0h0M219.6 136.4h0M210.6 123.1h0M212.0 115.5h0M212.2 143.6h0M214.2 124.8h0M222.4 139.9h0M214.3 124.6h0M214.6 150.0h0M216.7 141.5h0M216.6 128.4h0M220.1 133.7h0M220.0 110.5h0M220.0 132.4h0M220.5 128.4h0M219.5 115.1h0M223.2 116.1h0M224.5 139.8h0M217.2 125.9h0M221.4 125.8h0M211.6 132.0h0M211.4 124.1h0M226.5 137.6h0M215.2 128.3h0M214.3 128.9h0M210.3 136.3h0M217.6 122.5h0M215.3 123.9h0M214.6 123.7h0M224.0 136.2h0M219.6 132.9h0M225.1 136.7h0M218.6 132.0h0M218.5 129.2h0M220.3 129.5h0M222.4 132.3h0M216.1 135.5h0M218.4 124.3h0M215.6 124.5h0M216.0 124.2h0M216.9 141.0h0M215.1 127.3h0M213.8 114.4h0M213.2 123.5h0M218.3 125.4h0M211.5 125.0h0M225.1 119.6h0M217.8 139.8h0M213.5 122.9h0M214.9 130.7h0M218.0 130.6h0M219.8 125.8h0M206.4 118.7h0M218.3 114.4h0M215.9 145.1h0M218.7 122.0h0M218.2 140.2h0M208.9 115.6h0M214.2 124.3h0M217.1 122.8h0M218.0 129.9h0M211.7 122.3h0M211.3 132.1h0M218.8 136.0h0M213.1 123.3h0M206.4 129.1h0M209.4 132.7h0M222.9 133.8h0M220.6 131.4h0M219.4 139.0h0M223.8 150.6h0M216.2 137.9h0M221.8 133.6h0M218.8 115.5h0M222.9 119.6h0M214.2 119.9h0M220.3 118.7h0M219.8 135.0h0M218.0 125.4h0M220.5 143.0h0M215.2 117.8h0M214.5 119.6h0M216.3 127.3h0M206.0 144.6h0M213.4 124.4h0M212.4 131.4h0M218.6 145.2h0M216.1 138.8h0M219.1 119.1h0M222.5 122.5h0M219.3 124.7h0M216.4 130.6h0M224.1 111.0h0M211.9 130.1h0M222.4 127.0h0M216.6 134.6h0M225.4 119.3h0M209.5 126.0h0M221.3 115.0h0M223.1 139.0h0M221.4 120.0h0M211.0 136.0h0M218.8 136.3h0M223.1 139.7h0M216.1 128.9h0M219.8 137.0h0M216.6 123.5h0M212.6 139.9h0M219.2 122.9h0M211.1 123.5h0M211.1 124.2h0M214.8 134.4h0M214.5 114.3h0M221.2 126.8h0M209.2 119.7h0M217.4 128.6h0M208.3 127.6h0M219.0 139.5h0M223.0 127.7h0M211.0 125.0h0M220.7 119.2h0M223.8 118.8h0M211.9 137.8h0M217.0 132.4h0M216.0 129.3h0M214.6 149.2h0M220.8 127.7h0M219.9 137.9h0M214.9 130.9h0M218.5 123.0h0M213.6 126.9h0M216.0 124.6h0M207.8 129.8h0M220.8 129.8h0M226.0 138.2h0M215.7 121.8h0M220.0 125.0h0M209.4 130.3h0M216.0 126.6h0M220.6 131.1h0M227.6 121.1h0M217.0 132.3h0M215.3 123.5h0M226.2 113.5h0M211.7 141.1h0M225.2 130.4h0M203.9 139.8h0M218.7 117.2h0M215.7 114.9h0M217.0 128.1h0M218.1 137.4h0M211.7 115.6h0M215.7 124.3h0M217.3 143.5h0M217.6 117.5h0M216.0 119.7h0M216.3 135.1h0M211.9 136.5h0M226.4 145.2h0M225.6 129.9h0M210.8 150.3h0M217.2 131.4h0M215.7 119.0h0M220.6 114.2h0M210.6 134.8h0M215.6 120.1h0M220.0 144.1h0M216.1 127.6h0M220.3 138.9h0M222.6 136.2h0M214.2 134.6h0M217.5 111.0h0M223.7 135.1h0M224.3 128.3h0M221.1 128.2h0M218.3 138.6h0M217.8 135.5h0M217.3 142.0h0M220.7 111.5h0M225.8 133.6h0M215.0 122.4h0M227.4 129.9h0M220.0 135.3h0M214.5 147.5h0M228.0 120.8h0M223.2 111.8h0M215.8 129.6h0M217.8 135.0h0M219.5 132.9h0M216.8 132.2h0M214.7 149.8h0M217.8 142.1h0M218.0 127.4h0M216.6 115.4h0M227.8 133.4h0M218.2 124.1h0M223.9 125.5h0M215.2 123.3h0M225.2 132.3h0M216.8 122.2h0M223.9 132.1h0M215.9 138.4h0M221.9 118.5h0M223.2 140.5h0M216.3 115.0h0M222.9 125.4h0M216.5 126.0h0M216.2 137.8h0M212.1 134.6h0M223.3 140.1h0M221.1 131.8h0M216.5 127.8h0M213.2 146.6h0M216.9 118.4h0M221.6 144.9h0M218.9 125.7h0M212.0 135.8h0M216.3 122.1h0M220.5 115.4h0M214.5 114.0h0M216.3 137.4h0M211.1 143.3h0M214.2 124.0h0M222.4 121.4h0M224.7 126.9h0M217.1 118.9h0M223.2 128.3h0M215.2 119.1h0M214.4 128.0h0M214.0 137.4h0M217.4 122.5h0M219.8 144.0h0M207.3 132.8h0M222.9 130.5h0M221.6 112.9h0M213.9 139.6h0M217.1 129.7h0M220.6 132.9h0M219.8 123.8h0M216.1 142.7h0M215.1 114.0h0M215.8 138.4h0M226.4 130.6h0M214.5 135.4h0M219.0 141.4h0M220.1 136.9h0M220.1 133.4h0M213.1 127.3h0M225.4 142.9h0M222.3 133.1h0M217.0 132.7h0M216.0 140.4h0M216.1 121.1h0M209.7 145.2h0M213.9 120.1h0M219.6 147.8h0M220.9 125.6h0M220.4 120.4h0M216.4 129.3h0M217.7 137.2h0M220.2 148.7h0M221.7 126.1h0M218.9 120.2h0M214.6 125.5h0M222.6 121.8h0M210.0 118.5h0M211.8 127.1h0M216.1 116.9h0M213.8 124.7h0M219.5 135.4h0M224.1 126.4h0M220.7 129.8h0M212.3 122.4h0M228.3 127.4h0M225.7 137.6h0M225.7 127.1h0M222.2 125.9h0M212.3 116.9h0M219.8 112.3h0M219.4 120.0h0M219.4 114.8h0M221.8 126.6h0M210.2 114.1h0M218.0 112.0h0M219.3 134.1h0M214.5 143.5h0M224.7 132.3h0M219.9 133.9h0M216.4 142.7h0M217.8 133.6h0M221.7 117.5h0M224.4 120.5h0M220.7 136.6h0M218.6 140.8h0M215.3 150.3h0M220.1 124.7h0M209.8 143.8h0M225.2 123.0h0M212.9 140.8h0M218.0 119.0h0M215.4 129.7h0M222.5 145.3h0M214.7 145.0h0M210.4 136.4h0M217.0 133.6h0M215.6 121.6h0M219.1 140.8h0M207.0 129.6h0M215.8 117.9h0M211.2 134.4h0M220.4 135.7h0M208.1 113.2h0M214.7 124.5h0M226.2 125.0h0M218.3 139.4h0M225.8 132.9h0M219.4 149.2h0M214.1 125.8h0M224.0 132.3h0M223.5 130.1h0M217.9 123.0h0M211.7 134.3h0M219.5 135.0h0M215.1 124.7h0M219.5 135.4h0M227.3 119.9h0M222.5 138.2h0M216.4 130.5h0M217.4 144.9h0M216.5 138.9h0M220.1 127.1h0M221.4 138.1h0M215.8 137.9h0M206.9 115.6h0M216.2 130.7h0M210.7 144.4h0M215.9 130.6h0M217.5 136.9h0M214.9 136.8h0M213.7 113.6h0M220.2 130.7h0M218.2 122.3h0M216.8 124.9h0M215.9 122.1h0M222.6 111.1h0M209.6 132.6h0M227.4 121.1h0M213.3 116.8h0M212.8 142.1h0M221.0 138.4h0M219.4 131.5h0M214.9 118.9h0M215.9 142.3h0M214.3 129.4h0M225.9 128.3h0M220.8 123.2h0M226.8 116.2h0M220.4 126.5h0M218.7 132.8h0M224.1 138.2h0M222.8 132.9h0M212.5 143.0h0M225.1 134.1h0M221.6 126.6h0M210.7 139.3h0M214.2 149.0h0M221.0 128.8h0M214.7 130.1h0M212.8 125.1h0M225.4 125.9h0M226.6 128.0h0M219.7 119.4h0M216.3 124.4h0M211.0 149.2h0M220.6 128.1h0M212.4 129.4h0M212.6 118.9h0M209.3 134.9h0M210.9 127.6h0M218.0 121.1h0M226.3 134.6h0M214.6 111.8h0M218.5 122.0h0M222.6 118.1h0M223.5 124.2h0M218.6 126.2h0M220.7 141.0h0M215.1 119.6h0M226.9 139.0h0M226.9 139.0h0M218.3 146.1h0M214.4 124.5h0M215.7 136.2h0M213.6 127.2h0M213.6 126.6h0M223.1 140.7h0M214.3 133.8h0M211.9 142.0h0M217.1 131.9h0M223.8 129.3h0M214.6 122.6h0M213.1 134.8h0M215.4 134.4h0M210.4 124.5h0M227.7 132.8h0M217.2 141.5h0M219.0 145.1h0M212.0 137.1h0M212.5 136.2h0M213.5 133.4h0M219.9 121.5h0M218.8 117.8h0M222.4 138.6h0M216.9 136.2h0M208.6 132.5h0M215.5 120.8h0M222.0 139.5h0M220.5 146.2h0M214.6 124.6h0M204.4 132.6h0M216.6 129.6h0M213.0 131.4h0M222.8 122.4h0M220.4 127.4h0M216.9 130.2h0M225.0 134.5h0M221.0 130.6h0M207.2 138.9h0M217.5 130.0h0M215.2 112.8h0M224.9 148.3h0M220.3 116.6h0M216.7 123.6h0M214.6 120.9h0M215.3 137.2h0M225.5 138.8h0M217.6 127.5h0M216.4 128.8h0M214.6 127.1h0M221.7 126.7h0M213.6 127.7h0M218.0 128.2h0M216.3 136.4h0M217.4 118.4h0M220.4 121.5h0M221.4 137.6h0M220.0 132.3h0M211.0 126.9h0M218.2 135.7h0M212.1 127.4h0M210.1 130.9h0M218.0 130.3h0M225.7 136.8h0M216.7 122.9h0M215.4 137.3h0M222.1 123.7h0M217.0 124.5h0M221.0 131.0h0M214.1 119.7h0M224.0 114.3h0M227.5 123.4h0M221.8 134.9h0M221.7 141.0h0M215.3 128.8h0M222.4 134.9h0M213.9 121.1h0M210.5 131.8h0M215.0 112.7h0M214.9 132.4h0M218.5 126.7h0M218.4 135.9h0M211.7 120.4h0M222.4 136.8h0M210.7 121.4h0M224.7 136.9h0M216.9 139.8h0M224.3 143.9h0M210.8 115.4h0M215.1 128.5h0M215.9 131.6h0M224.9 140.6h0M222.5 129.0h0M225.7 133.8h0M218.8 128.8h0M217.5 138.5h0M228.7 127.0h0M211.9 139.7h0M218.8 119.1h0M222.3 129.2h0M212.7 133.1h0M212.5 139.2h0M228.4 132.4h0M218.7 128.2h0M221.8 129.4h0M222.7 144.0h0M221.8 118.9h0M220.9 126.3h0M219.1 139.2h0M214.3 131.2h0M224.8 120.3h0M216.6 136.7h0M216.5 139.8h0M212.6 113.3h0M219.5 127.6h0M219.1 139.1h0M222.8 125.4h0M212.8 131.6h0M218.7 113.5h0M221.5 128.6h0M223.0 125.3h0M222.4 117.4h0M208.4 120.6h0M221.0 133.3h0M208.3 130.6h0M220.9 146.6h0M221.4 134.4h0M209.8 132.9h0M207.9 126.0h0M215.8 118.9h0M212.6 127.6h0M220.5 122.3h0M219.1 136.5h0M217.5 149.0h0M216.0 121.4h0M208.2 140.2h0M220.9 127.1h0M219.1 127.7h0M221.9 128.9h0M218.7 128.2h0M220.3 116.0h0M219.6 135.7h0M226.9 121.3h0M218.3 138.9h0M214.3 122.9h0M219.8 150.6h0M222.9 139.0h0M212.8 135.9h0M223.2 115.9h0M217.6 127.0h0M220.8 110.9h0M221.1 129.0h0M207.3 123.4h0M220.8 133.5h0M221.3 111.3h0M218.6 143.1h0M209.9 135.8h0M214.0 134.7h0M218.1 112.1h0M212.4 142.3h0M217.0 141.9h0M219.3 138.3h0M215.6 131.3h0M215.7 138.5h0M214.7 140.6h0M225.4 116.4h0M216.7 134.7h0M226.4 141.0h0M218.0 111.0h0M221.7 122.9h0M218.5 133.2h0M210.6 140.1h0M222.1 135.0h0M220.5 132.7h0M210.7 123.7h0M221.6 125.6h0M217.7 132.9h0M218.0 131.7h0M220.0 129.0h0M212.1 126.2h0M222.3 122.0h0M219.9 132.2h0M217.5 121.0h0M214.5 138.7h0M213.8 132.6h0M218.2 131.1h0M222.3 127.5h0M216.2 122.1h0M217.8 129.5h0M213.0 146.0h0M213.9 127.6h0M211.3 130.6h0M219.3 140.3h0M222.4 123.8h0M225.5 127.9h0M225.2 146.8h0M215.6 117.9h0M220.2 143.9h0M219.5 140.4h0M220.5 138.2h0M224.1 126.0h0M210.6 127.8h0M213.7 116.7h0M216.7 136.4h0M208.5 113.3h0M221.5 119.8h0M215.6 143.1h0M223.1 132.7h0M220.3 133.0h0M210.7 130.9h0M219.8 127.8h0M221.5 138.2h0M217.8 126.4h0M211.7 140.8h0M214.7 132.3h0M225.1 137.0h0M211.3 128.1h0M214.1 112.0h0M213.6 135.1h0M219.2 126.9h0M218.4 116.9h0M213.8 127.3h0M221.5 125.7h0M216.7 132.5h0M224.8 116.0h0M220.2 130.9h0M217.2 131.6h0M207.8 129.3h0M216.4 116.2h0M221.7 127.8h0M215.9 136.9h0M213.0 121.6h0M221.6 138.0h0M227.5 124.3h0M210.4 113.6h0M211.7 130.1h0M216.4 122.0h0M212.6 121.8h0M215.8 141.3h0M220.6 143.2h0M221.6 136.9h0M223.4 133.7h0M225.1 140.7h0M226.5 131.3h0M216.2 134.4h0M215.7 121.8h0M219.7 117.4h0M216.8 143.6h0M218.2 137.5h0M220.7 133.0h0M218.1 135.4h0M212.8 135.0h0M212.3 121.2h0M208.2 134.9h0M205.6 144.3h0M201.7 121.7h0M200.1 146.5h0M210.6 126.9h0M210.1 132.9h0M211.2 146.2h0M204.0 121.9h0M205.0 148.3h0M205.6 125.1h0M200.3 126.0h0M211.1 127.3h0M209.5 146.0h0M211.2 139.6h0M206.0 122.7h0M211.3 142.4h0M208.9 113.2h0M207.8 137.9h0M201.6 123.7h0M205.5 120.9h0M201.3 116.9h0M205.5 111.5h0M209.5 127.3h0M203.3 120.8h0M203.8 134.4h0M208.6 127.8h0M208.6 133.3h0M209.7 139.4h0M209.2 111.9h0M204.2 115.5h0M210.0 117.4h0M211.1 124.4h0M201.8 138.2h0M202.2 125.2h0M205.3 135.7h0M206.2 136.9h0M209.5 148.7h0M207.5 127.6h0M206.0 124.6h0M210.0 132.3h0M208.4 142.9h0M208.4 145.6h0M205.4 138.2h0M210.6 130.0h0M209.9 121.9h0M201.9 144.2h0M206.6 148.5h0M207.2 121.1h0M201.5 146.0h0M203.0 117.4h0M206.3 139.0h0M206.9 112.9h0M209.4 137.3h0M203.9 147.0h0M205.9 140.9h0M201.1 123.0h0M209.1 137.7h0M208.4 138.0h0M200.3 144.4h0M200.5 120.5h0M213.7 47.6h0M221.2 45.0h0M219.5 45.5h0M214.4 44.0h0M216.5 40.8h0M219.8 52.1h0M204.0 48.8h0M213.4 47.7h0M210.0 41.1h0M222.1 41.7h0M218.1 36.3h0M209.2 49.9h0M216.9 41.6h0M207.8 37.1h0M209.9 41.8h0M215.3 39.1h0M212.0 42.5h0M222.9 35.4h0M207.6 47.3h0M207.6 40.1h0M216.7 50.6h0M215.5 47.1h0M216.8 38.2h0M220.9 49.0h0M214.8 45.9h0M209.8 49.0h0M212.2 38.2h0M220.0 51.4h0M207.5 41.1h0M218.7 39.3h0M206.8 43.6h0M221.9 42.5h0M209.7 40.6h0M204.6 41.7h0M223.2 47.2h0M215.5 44.0h0M212.9 42.6h0M212.5 42.8h0M212.9 42.9h0M220.1 41.9h0M208.3 44.4h0M214.5 39.7h0M219.3 38.1h0M221.5 44.6h0M211.9 38.7h0M215.3 37.7h0M222.7 39.6h0M215.6 73.9h0M214.9 48.6h0M218.6 43.7h0M211.0 65.5h0M225.9 63.0h0M225.4 84.1h0M219.6 101.7h0M218.5 88.9h0M216.5 93.1h0M223.8 35.1h0M224.8 37.4h0M219.5 40.3h0M221.6 66.6h0M210.5 96.5h0M212.5 100.8h0M214.9 75.8h0M216.0 90.6h0M214.4 72.5h0M212.1 59.6h0M210.0 54.1h0M213.0 85.3h0M210.6 46.2h0M225.5 81.9h0M209.5 98.1h0M221.7 79.5h0M225.3 74.0h0M210.5 35.8h0M209.6 68.8h0M218.0 95.9h0M209.3 40.2h0M209.7 61.5h0M224.8 92.0h0M208.8 78.2h0M211.3 51.4h0M213.8 53.0h0M213.3 51.4h0M214.2 78.1h0M218.1 88.2h0M213.0 37.0h0M218.3 57.8h0M211.8 64.9h0M225.0 78.7h0M220.9 38.2h0M217.8 86.1h0M223.6 90.5h0M208.9 107.1h0M208.3 91.2h0M216.5 102.8h0M225.0 89.5h0M209.5 82.2h0M210.1 66.0h0M210.3 57.0h0M208.9 74.4h0M209.7 52.8h0M222.0 56.4h0M218.4 98.2h0M219.5 94.8h0M224.8 52.9h0M211.4 107.6h0M224.5 58.5h0M224.7 41.3h0M212.1 98.0h0M209.9 97.9h0M212.0 91.2h0M210.3 71.6h0M218.3 75.8h0M223.5 37.6h0M220.8 97.2h0M217.4 52.2h0M306.1 121.0h0M282.5 128.2h0M304.6 129.3h0M292.7 112.3h0M272.0 123.6h0M272.6 125.1h0M276.9 128.3h0M291.9 122.9h0M308.4 118.0h0M287.2 124.5h0M305.2 127.7h0M301.2 130.0h0M278.8 120.6h0M291.7 129.4h0M282.1 124.6h0M303.8 119.2h0M282.8 113.8h0M298.6 120.6h0M279.8 118.7h0M285.0 114.6h0M297.1 115.2h0M280.5 119.6h0M280.3 129.7h0M312.3 118.9h0M306.1 125.2h0M295.4 131.0h0M300.5 125.6h0M312.2 121.6h0M302.8 121.9h0M282.2 116.2h0M296.2 112.4h0M284.1 121.3h0M279.6 126.4h0M304.4 129.5h0M295.0 127.8h0M306.0 127.3h0M285.0 124.1h0M307.3 117.2h0M297.5 114.4h0M290.6 115.9h0M285.5 132.1h0M303.5 124.3h0M292.3 125.6h0M306.7 116.0h0M294.8 117.7h0M279.2 116.6h0M290.0 115.7h0M278.8 118.4h0M287.4 130.6h0M294.1 122.3h0M298.6 115.7h0M287.3 121.2h0M273.9 118.4h0M296.2 124.7h0M282.7 113.5h0M296.1 115.2h0M303.2 131.7h0M285.0 128.2h0M308.5 125.2h0M287.5 121.2h0M296.2 115.9h0M288.7 114.5h0M308.1 116.8h0M293.3 124.1h0M272.8 123.5h0M306.3 117.0h0M298.8 127.2h0M295.7 119.5h0M293.5 126.0h0M290.2 127.5h0M304.0 127.8h0M290.1 115.1h0M278.6 118.2h0M295.7 113.2h0M284.7 115.1h0M294.6 116.2h0M286.7 127.7h0M307.7 120.2h0M295.8 118.9h0M279.5 126.5h0M273.6 125.6h0M281.1 115.9h0M298.1 120.2h0M305.8 120.2h0M305.3 125.0h0M297.4 117.1h0M285.3 125.8h0M290.4 132.8h0M299.6 126.6h0M278.8 122.0h0M283.3 114.7h0M289.8 114.8h0M301.9 125.6h0M286.2 128.9h0M273.0 120.8h0M277.6 122.1h0M286.4 113.4h0M307.9 128.6h0M296.8 120.7h0M295.5 122.5h0M296.0 118.7h0M306.9 122.9h0M281.4 124.3h0M305.2 122.5h0M285.3 123.4h0M301.4 115.8h0M310.0 120.6h0M289.4 122.9h0M304.4 115.6h0M279.1 122.3h0M271.7 121.1h0M276.6 116.2h0M287.1 130.8h0M297.9 117.9h0M299.1 122.7h0M301.9 128.9h0M293.6 120.0h0M290.6 129.2h0M290.2 123.4h0M304.4 130.3h0M296.7 123.1h0M275.5 119.9h0M279.4 128.2h0M300.5 114.9h0M296.5 130.4h0M308.3 119.9h0M287.1 123.1h0M289.4 132.5h0M312.6 119.6h0M282.5 124.6h0M288.5 116.4h0M274.7 120.2h0M307.3 128.9h0M291.0 120.5h0M277.1 128.7h0M304.3 116.6h0M300.4 130.7h0M286.8 116.9h0M303.8 125.1h0M285.2 126.8h0M279.2 122.1h0M304.9 119.3h0M276.5 126.2h0M301.2 124.8h0M310.9 119.8h0M293.4 121.5h0M308.6 118.9h0M281.6 119.7h0M307.3 127.6h0M279.2 129.2h0M305.7 126.6h0M298.1 116.9h0M285.6 129.3h0M303.3 127.2h0M285.2 131.3h0M309.1 123.5h0M313.0 119.0h0M309.9 129.0h0M289.9 125.7h0M283.5 116.2h0M292.4 122.0h0M292.5 127.1h0M279.1 128.7h0M285.3 120.4h0M310.5 127.5h0M303.0 128.7h0M289.6 119.3h0M294.0 129.8h0M278.7 126.7h0M291.9 131.8h0M302.2 131.4h0M289.2 121.7h0M282.0 116.4h0M284.8 116.5h0M298.5 123.9h0M303.4 127.8h0M313.7 123.1h0M298.1 123.1h0M292.0 119.2h0M284.6 119.0h0M293.4 121.3h0M295.1 126.0h0M314.4 124.2h0M297.8 124.2h0M290.8 121.6h0M292.1 119.3h0M284.5 131.9h0M285.8 124.1h0M289.3 125.9h0M295.5 123.2h0M293.8 117.9h0M303.6 118.8h0M285.6 125.6h0M302.0 129.5h0M313.0 123.7h0M273.0 126.0h0M286.6 124.7h0M278.7 120.3h0M281.7 126.2h0M312.7 119.7h0M293.2 125.4h0M304.6 119.5h0M282.8 125.7h0M284.7 122.4h0M298.7 123.7h0M313.8 119.3h0M280.4 120.5h0M281.4 128.4h0M301.4 115.5h0M305.8 130.2h0M306.9 119.3h0M307.0 117.5h0M288.3 118.4h0M307.1 128.0h0M294.4 123.3h0M283.9 124.3h0M313.0 121.6h0M291.4 124.3h0M287.7 131.5h0M280.4 122.2h0M301.4 127.7h0M284.5 114.6h0M301.3 114.6h0M309.8 129.1h0M293.3 130.7h0M305.3 126.1h0M282.4 113.9h0M300.7 126.7h0M312.6 120.0h0M287.0 130.1h0M289.2 128.8h0M280.1 123.4h0M304.1 127.1h0M301.6 113.9h0M307.1 123.9h0M298.4 116.7h0M305.7 128.0h0M282.0 131.5h0M289.3 130.1h0M281.2 119.8h0M277.3 115.2h0M293.7 122.1h0M298.9 122.9h0M283.0 120.8h0M311.1 120.9h0M293.1 131.4h0M288.6 129.9h0M274.0 126.9h0M276.3 117.7h0M310.3 128.7h0M293.0 114.3h0M293.9 130.9h0M296.9 112.5h0M302.4 125.1h0M300.9 128.1h0M285.3 115.3h0M283.1 116.8h0M295.5 117.7h0M281.1 125.1h0M290.7 113.7h0M288.0 117.9h0M306.1 117.0h0M299.1 126.2h0M289.3 113.0h0M294.5 114.3h0M281.6 131.4h0M310.4 117.7h0M286.2 119.2h0M298.9 118.4h0M291.6 125.7h0M283.1 114.8h0M299.8 125.7h0M308.2 124.5h0M279.9 120.3h0M296.8 130.4h0M299.9 119.1h0M302.2 117.7h0M293.2 125.2h0M305.2 117.2h0M304.2 123.4h0M298.6 114.0h0M294.1 113.9h0M298.7 128.6h0M287.9 121.1h0M298.5 123.7h0M301.2 119.3h0M273.4 126.2h0M280.9 126.8h0M299.7 130.1h0M273.6 122.1h0M286.0 119.2h0M282.3 129.5h0M291.0 123.6h0M276.2 123.7h0M298.9 114.6h0M285.9 117.6h0M295.3 113.7h0M314.3 120.2h0M304.0 130.9h0M290.4 119.9h0M298.4 118.4h0M281.8 131.2h0M299.3 122.5h0M291.2 128.7h0M303.5 117.9h0M284.7 120.6h0M273.4 120.8h0M276.1 126.0h0M285.6 118.8h0M280.6 117.3h0M281.1 130.6h0M291.0 123.5h0M285.0 132.0h0M297.3 115.6h0M280.4 121.0h0M311.0 128.2h0M305.6 124.2h0M279.7 125.7h0M296.5 115.2h0M273.5 123.0h0M311.4 118.9h0M299.1 114.2h0M284.2 127.1h0M303.6 121.1h0M283.7 114.5h0M307.4 127.5h0M281.1 125.8h0M293.5 123.9h0M289.3 123.9h0M295.6 118.7h0M287.1 115.4h0M298.8 129.2h0M281.1 124.4h0M288.2 115.8h0M303.7 114.8h0M283.4 122.7h0M279.7 124.2h0M291.9 116.7h0M300.9 125.4h0M312.8 119.0h0M305.2 125.1h0M296.1 112.8h0M284.5 121.0h0M295.7 117.0h0M294.2 120.2h0M282.7 121.6h0M283.2 131.8h0M291.2 114.7h0M303.7 115.4h0M303.7 128.3h0M311.6 122.9h0M303.9 128.6h0M306.9 124.7h0M310.3 127.6h0M287.8 119.7h0M287.6 131.4h0M305.9 126.6h0M285.9 117.8h0M283.8 126.4h0M291.4 116.7h0M277.4 129.0h0M279.4 115.6h0M294.4 113.1h0M288.8 116.3h0M308.8 123.6h0M292.7 121.8h0M295.9 128.5h0M309.6 117.5h0M290.0 114.3h0M291.7 132.8h0M302.0 121.7h0M284.9 116.5h0M289.9 118.1h0M292.5 124.0h0M288.8 124.5h0M289.2 122.5h0M292.4 129.7h0M310.4 124.3h0M304.4 118.3h0M278.2 118.6h0M277.1 128.1h0M311.3 125.5h0M280.6 114.7h0M304.9 124.1h0M278.0 119.3h0M294.6 125.4h0M277.7 117.7h0M291.9 131.6h0M279.3 120.1h0M300.2 129.1h0M284.7 113.1h0M293.5 114.6h0M300.0 120.6h0M306.6 118.8h0M274.6 122.5h0M293.1 129.7h0M281.8 121.1h0M307.1 125.9h0M281.4 120.1h0M304.8 123.7h0M275.7 119.6h0M272.1 121.6h0M281.2 118.3h0M285.9 130.2h0M276.8 121.0h0M290.1 131.5h0M303.0 117.6h0M276.8 123.5h0M307.6 116.7h0M304.7 119.6h0M278.7 128.9h0M297.0 120.1h0M293.8 131.0h0M292.2 123.9h0M292.8 112.5h0M304.4 114.2h0M296.0 117.4h0M301.1 125.1h0M303.9 129.2h0M281.1 122.2h0M311.8 120.3h0M280.1 123.0h0M284.9 113.7h0M306.5 121.6h0M285.9 114.5h0M308.2 121.4h0M297.7 113.1h0M290.4 120.2h0M302.0 117.0h0M293.6 121.9h0M286.1 113.2h0M314.1 124.9h0M276.9 116.1h0M285.1 112.7h0M286.0 117.9h0M285.4 129.6h0M284.5 113.5h0M304.6 127.3h0M307.0 119.8h0M302.8 126.5h0M295.9 124.9h0M291.4 121.0h0M291.9 124.8h0M308.2 119.1h0M295.5 120.2h0M278.5 126.8h0M303.8 121.1h0M284.2 122.3h0M312.0 125.6h0M286.9 131.9h0M281.7 114.0h0M303.3 128.9h0M306.0 120.3h0M301.0 116.4h0M282.8 131.8h0M295.3 126.9h0M286.9 120.3h0M311.8 127.7h0M289.2 131.3h0M310.0 117.5h0M302.4 114.2h0M291.2 112.2h0M290.0 116.1h0M289.0 126.1h0M300.7 130.5h0M312.1 118.4h0M285.7 120.8h0M282.2 129.7h0M305.9 125.9h0M299.5 118.2h0M283.2 128.0h0M277.4 116.4h0M304.5 131.1h0M293.4 114.6h0M295.0 116.9h0M299.5 125.2h0M308.9 126.2h0M303.1 130.2h0M307.8 122.4h0M279.7 116.4h0M298.0 123.5h0M289.6 122.5h0M280.2 120.8h0M297.1 127.8h0M302.1 114.2h0M280.2 122.1h0M305.0 117.8h0M303.5 116.8h0M284.3 129.9h0M279.6 129.7h0M295.2 112.5h0M291.7 123.4h0M276.5 119.8h0M292.4 121.9h0M311.5 120.1h0M310.4 118.1h0M303.8 115.3h0M296.7 127.7h0M303.7 115.2h0M308.6 115.5h0M314.4 123.3h0M305.8 127.2h0M289.8 116.9h0M299.0 129.8h0M303.4 126.9h0M273.7 121.7h0M283.8 123.2h0M300.4 124.6h0M283.5 120.9h0M283.5 116.0h0M280.8 122.3h0M309.8 116.6h0M313.3 125.9h0M304.1 131.2h0M279.5 125.3h0M286.9 115.5h0M283.1 125.6h0M308.2 129.1h0M296.4 121.2h0M303.0 124.4h0M303.2 114.2h0M306.7 128.3h0M287.7 131.5h0M298.8 122.8h0M272.8 122.2h0M287.7 121.2h0M286.2 129.8h0M287.3 114.0h0M282.1 129.6h0M293.8 119.4h0M289.3 114.9h0M285.1 114.4h0M309.4 126.9h0M285.1 125.6h0M278.6 121.6h0M299.5 121.3h0M294.3 121.6h0M289.0 124.0h0M288.4 118.2h0M289.3 128.4h0M277.8 121.9h0M281.4 127.4h0M293.1 114.0h0M283.6 120.6h0M295.2 126.0h0M298.3 129.1h0M287.3 125.6h0M280.6 116.8h0M282.7 120.5h0M284.0 124.6h0M272.8 118.6h0M297.6 128.7h0M305.7 121.0h0M298.4 112.5h0M311.7 126.0h0M305.9 114.2h0M289.2 118.3h0M308.1 128.0h0M280.0 114.8h0M295.7 121.2h0M310.9 127.0h0M285.0 115.2h0M283.9 113.7h0M308.2 123.6h0M299.4 125.3h0M305.6 129.4h0M286.1 131.9h0M282.0 114.4h0M299.7 113.0h0M306.3 117.4h0M294.3 113.1h0M290.6 129.3h0M279.6 115.3h0M286.6 119.4h0M285.7 118.8h0M274.1 125.5h0M292.6 124.8h0M285.3 131.0h0M305.1 123.7h0M287.9 129.9h0M290.2 120.8h0M296.0 113.2h0M292.8 113.7h0M276.4 116.4h0M300.3 123.4h0M288.8 120.6h0M280.9 120.6h0M281.5 116.2h0M286.6 124.4h0M307.1 123.7h0M304.5 125.3h0M276.8 126.4h0M287.0 121.1h0M283.2 114.9h0M287.4 118.7h0M279.3 126.6h0M290.0 112.2h0M295.0 128.1h0M305.9 126.6h0M276.3 117.6h0M299.2 119.3h0M295.9 122.5h0M282.5 123.3h0M290.2 124.5h0M301.1 128.2h0M285.5 127.8h0M286.8 128.4h0M293.3 124.0h0M292.9 119.3h0M279.6 115.5h0M277.0 128.4h0M302.0 118.9h0M292.5 119.5h0M292.7 112.8h0M285.1 126.7h0M298.3 121.8h0M298.3 126.6h0M296.3 128.5h0M284.2 116.8h0M291.2 128.5h0M292.9 112.1h0M291.4 130.8h0M278.4 124.0h0M283.5 123.4h0M304.6 118.9h0M278.6 121.4h0M284.4 116.6h0M291.8 128.5h0M295.7 124.3h0M280.8 123.2h0M304.0 119.0h0M293.2 132.3h0M297.9 119.2h0M304.5 124.1h0M289.6 113.9h0M291.8 121.9h0M280.0 123.0h0M307.2 118.4h0M281.2 122.0h0M271.5 122.7h0M314.3 124.0h0M304.0 126.3h0M274.8 121.7h0M292.2 115.5h0M276.7 118.5h0M288.6 132.0h0M285.4 130.7h0M271.9 121.8h0M283.8 126.6h0M297.7 118.0h0M303.0 126.8h0M309.1 126.5h0M275.0 128.4h0M299.9 114.6h0M309.1 122.4h0M303.1 131.4h0M274.8 121.6h0M308.7 124.9h0M294.0 132.9h0M272.3 119.8h0M296.7 117.5h0M292.2 132.0h0M280.5 126.5h0M301.9 129.4h0M309.0 117.6h0M287.9 114.4h0M293.3 130.1h0M284.1 130.5h0M282.7 121.9h0M300.1 129.0h0M312.4 119.5h0M288.2 127.9h0M306.0 128.6h0M282.8 130.1h0M304.6 124.4h0M285.7 127.2h0M274.0 127.5h0M289.4 128.0h0M296.9 119.5h0M284.9 122.6h0M277.0 117.4h0M299.1 116.1h0M311.4 123.1h0M285.1 115.7h0M283.2 120.3h0M277.0 118.5h0M299.2 120.6h0M278.4 125.7h0M313.8 121.3h0M302.8 130.0h0M309.3 123.7h0M309.5 119.4h0M307.3 121.1h0M280.5 129.4h0M305.9 125.4h0M291.7 117.5h0M308.1 126.0h0M300.5 129.2h0M282.5 123.2h0M292.8 113.3h0M290.2 128.7h0M277.6 128.9h0M306.6 127.3h0M300.1 129.5h0M292.7 126.4h0M291.1 124.2h0M283.5 116.2h0M309.3 123.6h0M285.1 118.2h0M285.8 122.9h0M277.9 121.5h0M286.4 120.1h0M287.1 112.9h0M309.9 118.4h0M287.7 119.3h0M300.8 131.8h0M294.5 125.6h0M275.8 118.6h0M291.0 125.7h0M287.8 127.5h0M307.9 117.2h0M294.2 114.1h0M285.1 124.1h0M307.5 116.0h0M306.2 125.9h0M293.7 115.0h0M305.1 126.2h0M310.4 120.2h0M280.5 128.3h0M285.9 130.1h0M283.2 129.9h0M286.5 124.4h0M284.9 125.0h0M273.6 119.6h0M286.5 124.4h0M306.3 122.4h0M303.3 120.3h0M280.3 119.0h0M287.5 122.2h0M292.6 128.6h0M305.9 120.4h0M304.8 124.5h0M309.9 125.4h0M293.3 131.1h0M314.1 124.2h0M273.4 122.8h0M279.9 121.8h0M297.5 116.6h0M273.9 122.4h0M300.9 123.0h0M290.8 124.1h0M288.0 122.5h0M293.9 114.2h0M282.3 125.8h0M285.8 122.7h0M289.0 117.5h0M278.6 118.5h0M273.5 117.9h0M299.4 122.4h0M285.2 126.3h0M286.1 129.6h0M308.2 116.9h0M293.8 119.6h0M312.4 125.0h0M303.3 122.3h0M302.0 121.0h0M294.1 125.7h0M299.1 129.3h0M278.1 116.3h0M291.2 117.1h0M295.0 118.4h0M288.8 128.9h0M298.2 116.7h0M293.9 114.7h0M284.6 113.6h0M293.4 130.2h0M291.2 118.5h0M292.5 119.6h0M279.7 116.6h0M293.4 120.2h0M276.3 124.8h0M309.8 123.5h0M285.9 122.5h0M284.4 120.0h0M305.2 120.6h0M284.8 115.7h0M305.7 115.5h0M295.8 122.6h0M303.3 123.0h0M283.7 131.9h0M292.3 115.4h0M295.0 122.8h0M292.8 127.1h0M286.8 125.5h0M282.4 127.3h0M306.0 123.2h0M311.5 120.6h0M287.6 128.0h0M299.5 114.5h0M275.2 129.7h0M316.4 129.1h0M302.1 120.7h0M314.6 130.5h0M284.3 118.8h0M304.0 132.7h0M293.6 146.7h0M280.9 116.5h0M322.9 134.3h0M309.1 123.9h0M296.3 126.5h0M303.9 118.9h0M313.7 142.7h0M288.6 115.4h0M299.0 150.0h0M281.7 138.7h0M286.3 117.4h0M314.4 123.3h0M296.4 132.2h0M315.2 127.4h0M321.9 118.2h0M288.7 132.0h0M292.1 132.0h0M294.5 143.2h0M271.8 127.1h0M293.3 124.4h0M290.4 118.7h0M310.8 114.5h0M287.1 110.9h0M324.6 115.8h0M296.3 141.5h0M280.0 138.4h0M276.2 120.4h0M306.0 128.5h0M302.4 128.3h0M286.0 133.9h0M273.6 118.1h0M305.2 125.9h0M294.4 116.2h0M283.0 115.2h0M276.6 126.5h0M303.8 115.6h0M299.2 111.7h0M303.0 121.9h0M295.9 127.1h0M317.9 127.3h0M286.6 126.7h0M303.4 130.5h0M313.9 116.9h0M277.9 131.5h0M278.9 129.7h0M273.5 116.8h0M303.3 122.3h0M308.2 127.6h0M302.4 130.8h0M271.9 136.7h0M274.3 116.2h0M303.5 121.4h0M306.0 113.5h0M291.1 127.6h0M296.0 129.3h0M323.7 132.4h0M280.7 124.8h0M293.4 116.5h0M307.6 121.3h0M300.8 131.7h0M308.7 146.9h0M322.7 128.3h0M285.2 126.8h0M287.0 121.0h0M305.5 121.1h0M297.6 126.4h0M293.0 128.2h0M294.2 129.8h0M284.0 125.9h0M324.2 117.0h0M284.1 134.8h0M302.2 126.8h0M300.1 121.1h0M288.6 130.4h0M299.9 131.8h0M304.3 147.9h0M298.5 139.5h0M299.6 148.1h0M313.0 117.6h0M322.7 119.6h0M313.5 117.6h0M302.9 126.9h0M309.3 120.2h0M291.0 118.7h0M311.5 127.9h0M294.6 137.1h0M286.6 133.1h0M293.4 130.0h0M292.3 139.6h0M290.1 145.8h0M310.0 117.0h0M289.9 139.0h0M321.0 113.1h0M299.8 131.7h0M293.9 134.8h0M298.5 116.7h0M296.5 123.2h0M293.7 126.3h0M303.0 117.6h0M308.0 130.4h0M289.1 127.6h0M304.7 133.1h0M272.3 125.7h0M314.7 113.8h0M277.4 120.8h0M292.8 122.9h0M317.5 128.4h0M298.7 134.2h0M296.7 139.6h0M299.5 120.7h0M277.7 134.9h0M310.9 138.7h0M307.8 143.0h0M317.1 118.1h0M304.6 133.1h0M273.2 140.2h0M305.2 134.1h0M282.8 134.0h0M296.4 122.5h0M297.7 129.1h0M272.5 125.7h0M308.1 125.7h0M280.3 114.5h0M277.2 134.6h0M282.9 127.6h0M290.0 134.8h0M317.9 135.0h0M307.9 136.5h0M325.0 116.9h0M301.5 119.2h0M297.9 123.5h0M299.1 132.9h0M301.6 136.4h0M290.7 140.6h0M293.7 131.0h0M309.6 110.7h0M279.7 128.0h0M302.2 113.7h0M297.9 138.8h0M317.9 112.2h0M316.6 130.3h0M292.1 126.0h0M296.5 126.2h0M293.8 118.3h0M311.9 143.0h0M294.0 140.1h0M284.5 112.9h0M307.5 128.2h0M304.5 116.1h0M290.7 136.1h0M323.1 128.4h0M286.5 139.0h0M275.9 121.6h0M287.3 122.1h0M281.4 132.5h0M302.0 112.5h0M271.3 146.9h0M306.3 128.0h0M280.2 127.1h0M302.5 118.5h0M299.1 121.2h0M286.9 120.5h0M304.1 142.6h0M293.1 148.0h0M289.9 127.0h0M295.8 123.7h0M283.4 133.4h0M303.5 122.7h0M282.7 128.9h0M283.9 117.2h0M288.8 135.4h0M292.3 124.2h0M291.5 131.9h0M294.3 134.3h0M294.4 134.4h0M292.0 118.3h0M303.6 123.8h0M289.4 140.5h0M288.8 118.0h0M291.3 140.5h0M275.1 137.7h0M305.2 121.9h0M291.3 118.5h0M289.6 131.9h0M281.5 122.5h0M284.2 123.9h0M303.1 138.2h0M306.3 129.7h0M318.9 133.2h0M304.4 131.7h0M309.8 115.5h0M282.2 126.8h0M291.1 129.2h0M307.7 139.2h0M301.9 140.5h0M286.4 130.2h0M294.0 116.4h0M300.3 135.7h0M290.6 126.9h0M314.1 124.1h0M291.2 129.0h0M303.5 130.1h0M316.3 130.5h0M294.8 143.0h0M296.9 121.5h0M300.7 131.3h0M316.4 113.0h0M308.7 127.9h0M309.5 137.0h0M304.3 118.0h0M294.2 136.7h0M271.9 134.9h0M309.1 143.8h0M282.6 119.7h0M312.4 123.1h0M304.2 117.7h0M299.9 116.6h0M298.3 120.1h0M279.6 133.1h0M296.1 126.4h0M276.1 118.8h0M291.6 119.9h0M301.7 126.3h0M292.5 124.2h0M302.7 136.3h0M278.6 135.7h0M310.6 134.0h0M287.1 128.1h0M309.6 123.3h0M323.0 127.4h0M309.8 119.6h0M288.0 142.3h0M275.5 120.6h0M292.0 113.2h0M306.2 113.5h0M296.8 123.5h0M309.3 128.8h0M314.2 142.5h0M307.9 124.0h0M294.1 132.3h0M275.9 115.3h0M295.9 143.7h0M278.0 128.5h0M284.6 133.3h0M301.7 125.6h0M310.7 123.3h0M294.2 129.1h0M308.7 117.6h0M288.5 118.2h0M305.4 130.0h0M299.2 112.6h0M282.7 111.2h0M273.9 118.4h0M300.8 131.0h0M301.8 142.1h0M309.9 110.6h0M303.9 128.3h0M301.3 118.4h0M319.3 126.9h0M291.9 111.9h0M272.2 142.6h0M294.9 135.9h0M314.0 133.4h0M289.1 113.9h0M293.4 127.1h0M293.7 122.8h0M298.3 111.2h0M313.2 113.8h0M298.0 116.9h0M318.0 120.2h0M281.0 122.1h0M310.3 113.2h0M274.9 120.4h0M311.1 149.1h0M293.2 135.4h0M289.0 132.2h0M277.9 122.8h0M285.3 129.9h0M274.9 143.0h0M291.3 121.6h0M304.2 133.7h0M299.6 129.4h0M299.0 113.4h0M308.8 134.8h0M286.2 127.7h0M319.1 128.1h0M297.1 128.3h0M298.3 133.0h0M309.4 142.9h0M284.9 121.4h0M288.7 130.9h0M298.7 116.4h0M275.1 144.2h0M294.7 140.5h0M309.5 120.7h0M300.1 116.5h0M306.4 124.3h0M309.0 138.7h0M286.5 134.1h0M303.2 120.4h0M300.6 138.7h0M298.8 135.9h0M301.8 138.9h0M294.0 122.4h0M287.7 141.7h0M284.0 145.0h0M322.6 120.7h0M283.8 129.9h0M311.0 144.0h0M321.3 118.5h0M310.3 120.5h0M313.9 130.6h0M319.9 124.9h0M309.8 112.6h0M280.3 131.1h0M297.9 134.9h0M276.8 114.8h0M286.1 137.9h0M302.5 122.7h0M307.4 124.1h0M300.5 125.6h0M274.0 134.2h0M299.2 148.9h0M298.0 119.6h0M299.2 118.2h0M295.7 121.9h0M301.8 116.2h0M294.6 121.5h0M280.2 125.0h0M307.8 133.3h0M301.5 124.5h0M312.1 122.8h0M276.5 118.1h0M315.1 123.0h0M304.0 114.3h0M323.7 144.0h0M296.6 118.8h0M300.7 123.2h0M289.9 129.6h0M291.2 128.2h0M311.9 119.0h0M305.1 124.3h0M274.7 128.6h0M278.7 136.5h0M296.6 127.5h0M313.1 117.0h0M283.3 140.6h0M308.5 130.1h0M280.8 119.3h0M289.3 129.6h0M288.1 123.7h0M297.9 139.7h0M286.9 126.9h0M310.3 113.1h0M278.9 120.9h0M320.2 120.3h0M299.3 136.6h0M283.3 121.3h0M278.0 117.9h0M313.8 119.9h0M279.1 131.9h0M301.1 125.0h0M316.2 112.5h0M295.5 138.8h0M309.4 135.1h0M271.8 122.6h0M325.1 140.8h0M319.9 133.8h0M298.3 133.9h0M317.6 115.3h0M314.8 133.8h0M288.0 142.1h0M318.5 134.8h0M288.9 128.4h0M296.3 142.9h0M285.2 117.9h0M323.2 128.8h0M285.4 123.4h0M290.2 124.1h0M305.5 135.4h0M291.8 121.3h0M275.4 125.4h0M283.4 123.1h0M299.5 133.3h0M297.9 150.6h0M302.7 130.9h0M305.9 124.4h0M313.6 127.1h0M273.7 119.9h0M301.4 138.5h0M300.9 120.5h0M276.6 132.7h0M298.7 115.5h0M317.3 134.7h0M275.6 126.5h0M310.2 134.7h0M274.0 130.4h0M308.7 129.5h0M294.9 123.0h0M312.9 121.3h0M305.3 116.9h0M296.3 136.9h0M287.9 125.0h0M271.8 112.7h0M307.2 137.5h0M285.6 123.4h0M302.7 120.7h0M298.3 121.2h0M307.5 119.9h0M288.7 111.1h0M294.6 135.7h0M274.5 116.4h0M283.6 130.1h0M291.7 121.9h0M280.3 122.5h0M290.9 116.8h0M321.6 130.3h0M294.2 128.5h0M287.7 124.9h0M317.0 130.0h0M292.2 126.2h0M277.5 121.8h0M289.9 122.7h0M320.7 125.5h0M317.3 125.2h0M287.6 124.0h0M316.3 139.7h0M299.8 138.4h0M288.4 131.9h0M281.2 135.3h0M287.2 131.9h0M276.1 140.1h0M325.4 122.5h0M298.2 115.2h0M309.6 124.4h0M317.4 125.2h0M293.0 116.6h0M308.1 123.9h0M313.7 124.1h0M295.8 119.5h0M287.8 125.0h0M300.5 112.8h0M316.7 118.4h0M273.2 130.7h0M286.2 125.1h0M325.9 125.1h0M320.3 117.1h0M290.3 132.1h0M277.5 120.6h0M284.3 118.4h0M291.3 126.7h0M281.1 137.4h0M305.5 134.6h0M304.8 125.6h0M307.7 141.6h0M308.6 135.3h0M288.5 139.6h0M284.8 128.6h0M310.7 115.6h0M291.0 111.6h0M298.1 120.1h0M285.1 121.6h0M289.8 125.0h0M292.4 136.8h0M320.4 122.8h0M303.2 115.7h0M307.6 130.9h0M287.2 113.5h0M306.0 129.6h0M277.7 129.1h0M319.1 115.0h0M287.2 113.9h0M303.2 116.9h0M326.3 131.0h0M293.6 120.9h0M314.6 120.9h0M290.4 126.1h0M315.4 139.6h0M291.1 112.5h0M281.3 123.2h0M308.4 129.1h0M298.9 119.7h0M280.9 131.1h0M318.8 126.9h0M307.2 135.1h0M297.8 120.6h0M323.0 118.6h0M292.1 128.4h0M290.1 115.2h0M316.2 124.7h0M285.3 119.0h0M307.5 133.2h0M300.8 136.7h0M297.1 141.1h0M313.0 113.3h0M295.8 128.2h0M297.1 114.9h0M305.5 124.2h0M271.9 111.9h0M290.8 134.3h0M296.8 126.8h0M313.7 122.6h0M297.7 124.2h0M313.0 118.2h0M304.1 117.6h0M299.0 136.1h0M284.1 129.8h0M298.8 127.2h0M306.5 125.7h0M306.0 143.2h0M285.9 114.0h0M310.3 128.8h0M309.9 119.3h0M289.4 118.9h0M283.9 115.4h0M292.2 123.3h0M298.6 133.1h0M282.4 124.0h0M282.9 133.3h0M282.2 121.3h0M284.4 135.7h0M277.3 113.4h0M291.1 121.3h0M282.1 136.3h0M294.3 111.6h0M286.7 119.9h0M282.5 120.7h0M291.0 131.1h0M289.9 136.3h0M326.1 132.8h0M293.3 144.4h0M299.1 136.9h0M288.6 112.5h0M320.0 116.0h0M280.2 126.3h0M282.1 131.7h0M298.9 122.8h0M288.3 139.6h0M320.6 136.3h0M275.8 141.6h0M299.4 142.1h0M306.5 118.1h0M317.7 120.4h0M325.1 112.0h0M308.3 123.8h0M274.4 128.7h0M291.0 122.0h0M286.6 123.4h0M283.8 145.5h0M290.8 127.0h0M292.2 137.7h0M307.1 135.0h0M272.0 126.5h0M295.1 131.4h0M286.5 126.4h0M281.2 121.3h0M303.4 119.9h0M283.5 123.5h0M302.9 129.1h0M277.8 120.6h0M278.1 114.8h0M309.2 122.0h0M311.7 140.5h0M318.0 132.2h0M281.0 149.1h0M310.1 133.7h0M303.3 128.7h0M305.4 131.8h0M297.1 132.7h0M294.9 124.1h0M320.6 121.1h0M306.4 131.1h0M323.9 142.0h0M275.7 115.3h0M307.6 123.7h0M284.2 133.5h0M281.6 117.4h0M297.0 133.7h0M293.9 121.5h0M300.4 121.2h0M305.2 136.1h0M299.1 129.7h0M285.4 138.4h0M304.2 120.4h0M295.3 116.9h0M289.5 128.4h0M308.2 120.0h0M278.4 132.2h0M271.5 115.8h0M301.0 128.7h0M299.3 114.8h0M291.5 144.1h0M287.5 121.0h0M276.7 118.7h0M316.7 128.7h0M288.1 121.3h0M310.2 119.2h0M283.2 121.8h0M283.0 132.6h0M296.3 135.2h0M287.6 149.9h0M305.7 122.8h0M291.9 146.9h0M307.0 122.9h0M320.8 127.4h0M309.1 132.8h0M321.4 131.0h0M303.2 128.2h0M299.8 130.7h0M286.6 127.8h0M299.5 128.9h0M308.7 129.4h0M290.9 123.8h0M278.5 120.5h0M294.7 128.8h0M293.7 130.8h0M297.9 120.8h0M281.4 127.2h0M299.0 128.0h0M289.8 137.3h0M299.2 133.4h0M291.3 129.5h0M293.2 136.6h0M286.2 130.4h0M315.8 119.1h0M277.1 118.4h0M310.5 120.9h0M309.2 115.5h0M291.2 138.0h0M287.3 126.8h0M292.3 129.5h0M289.6 114.6h0M290.2 121.7h0M278.7 123.4h0M279.7 120.0h0M301.2 127.2h0M292.0 129.1h0M324.6 128.5h0M297.9 124.1h0M301.6 131.4h0M311.9 129.7h0M285.8 123.8h0M283.1 138.3h0M292.1 116.4h0M299.0 126.4h0M290.2 112.0h0M292.6 126.7h0M289.2 126.5h0M289.0 141.4h0M314.4 112.7h0M306.0 122.7h0M295.7 110.9h0M288.8 123.4h0M298.2 121.4h0M293.4 113.6h0M280.7 127.8h0M286.3 131.9h0M274.7 127.4h0M302.9 130.0h0M281.9 115.4h0M276.4 125.8h0M290.8 136.8h0M290.0 137.9h0M291.0 134.9h0M311.8 127.7h0M274.5 129.0h0M297.8 121.8h0M291.4 131.7h0M321.7 118.2h0M315.4 120.3h0M290.2 121.4h0M294.8 117.3h0M285.4 122.6h0M280.0 124.2h0M312.0 116.6h0M298.4 117.3h0M276.2 124.7h0M290.5 134.6h0M306.6 125.7h0M284.5 138.2h0M273.6 117.3h0M307.0 128.8h0M305.3 122.6h0M307.0 136.3h0M311.0 114.6h0M279.5 128.4h0M305.2 124.6h0M293.4 121.1h0M296.7 118.8h0M304.6 121.6h0M323.3 126.5h0M290.6 124.3h0M320.8 128.4h0M298.1 115.8h0M298.5 115.3h0M272.1 129.1h0M287.8 111.6h0M313.7 136.7h0M281.4 115.2h0M310.0 123.6h0M281.3 111.1h0M283.2 126.4h0M291.1 129.7h0M303.7 113.6h0M308.8 125.0h0M321.4 123.4h0M289.3 123.5h0M315.2 129.8h0M314.3 134.8h0M300.6 147.5h0M293.8 122.5h0M313.5 113.4h0M300.5 134.5h0M272.1 135.8h0M273.9 112.4h0M321.0 132.1h0M306.4 117.6h0M306.2 117.5h0M304.7 117.3h0M274.7 120.3h0M302.2 127.9h0M286.5 133.6h0M305.3 123.1h0M294.8 120.2h0M304.1 126.8h0M318.1 115.4h0M274.9 123.4h0M291.4 121.7h0M323.2 128.2h0M315.9 130.5h0M300.0 128.5h0M313.5 129.1h0M306.4 124.0h0M283.4 128.1h0M289.1 130.3h0M317.4 139.5h0M302.2 114.3h0M289.3 113.2h0M302.6 124.8h0M319.1 129.5h0M296.8 121.1h0M289.1 116.4h0M298.7 132.5h0M319.6 123.0h0M291.7 127.9h0M313.9 125.8h0M290.5 126.7h0M302.5 144.8h0M296.6 115.6h0M320.8 115.4h0M286.5 111.1h0M294.2 137.7h0M312.0 125.1h0M300.3 129.4h0M294.1 114.3h0M284.9 140.9h0M280.8 113.4h0M305.9 121.4h0M290.8 126.2h0M312.3 126.8h0M325.2 133.0h0M286.9 120.4h0M308.9 118.0h0M313.1 126.4h0M294.7 140.6h0M280.9 141.9h0M290.5 145.8h0M316.1 119.6h0M326.2 128.9h0M302.7 120.8h0M296.0 120.6h0M291.2 132.5h0M310.5 136.9h0M317.0 124.0h0M309.5 122.2h0M306.6 130.9h0M303.3 116.9h0M277.2 141.5h0M283.7 118.7h0M303.5 121.0h0M304.2 138.2h0M307.1 111.0h0M309.4 139.3h0M297.7 129.5h0M292.1 134.4h0M288.5 124.9h0M285.9 117.7h0M316.4 124.2h0M277.2 115.9h0M307.3 128.4h0M292.8 130.7h0M296.7 129.5h0M280.5 141.3h0M311.9 115.3h0M305.5 119.2h0M278.3 115.8h0M295.7 137.1h0M301.9 114.0h0M310.5 116.5h0M296.2 125.9h0M278.7 150.8h0M297.4 119.4h0M292.7 121.6h0M316.8 127.0h0M304.6 124.1h0M308.6 114.7h0M278.3 119.1h0M290.5 119.0h0M299.2 136.5h0M295.4 131.4h0M321.3 134.1h0M299.4 125.3h0M310.3 124.1h0M292.2 128.9h0M304.5 129.9h0M310.5 150.1h0M283.9 123.5h0M301.4 117.9h0M325.5 126.8h0M305.3 117.4h0M319.2 122.2h0M283.6 122.8h0M316.0 117.0h0M293.4 133.4h0M292.4 133.5h0M317.6 119.9h0M277.4 113.2h0M318.4 130.2h0M298.4 121.0h0M314.9 120.1h0M301.4 124.7h0M294.1 136.5h0M288.9 140.0h0M284.4 133.7h0M272.0 134.2h0M280.8 122.4h0M309.7 117.2h0M306.0 124.8h0M318.9 133.6h0M301.2 122.9h0M282.0 138.5h0M293.1 112.5h0M282.4 120.4h0M301.1 133.7h0M288.9 130.6h0M302.6 124.5h0M283.7 131.6h0M295.4 122.3h0M295.0 122.5h0M302.0 135.4h0M298.1 118.5h0M294.9 123.2h0M305.1 132.1h0M324.3 133.4h0M275.8 127.6h0M287.4 138.2h0M307.2 116.7h0M280.8 139.0h0M284.3 130.1h0M274.2 124.6h0M288.1 119.5h0M301.0 121.1h0M289.2 128.7h0M322.8 128.7h0M312.4 126.7h0M287.0 126.6h0M310.5 128.9h0M285.3 112.9h0M284.2 121.9h0M272.7 143.4h0M283.1 125.9h0M288.7 125.9h0M296.1 124.3h0M303.2 119.5h0M310.4 126.8h0M295.8 124.8h0M314.3 124.3h0M322.7 125.9h0M300.7 124.7h0M301.6 129.2h0M286.0 132.4h0M298.5 116.9h0M283.7 116.7h0M300.9 118.0h0M323.5 120.5h0M281.5 115.8h0M294.9 123.3h0M312.2 117.6h0M302.1 133.9h0M300.5 134.6h0M303.1 124.7h0M293.3 113.1h0M290.9 126.2h0M297.2 115.9h0M313.3 130.8h0M289.8 113.2h0M275.0 135.1h0M297.8 140.5h0M304.3 119.3h0M311.3 118.2h0M291.8 129.8h0M299.1 127.4h0M300.1 134.7h0M295.8 127.9h0M283.4 119.8h0M300.8 124.7h0M310.1 122.3h0M301.7 120.7h0M307.3 113.1h0M290.7 122.4h0M283.8 121.9h0M301.1 148.0h0M296.4 131.6h0M310.3 115.4h0M304.5 120.7h0M311.5 119.0h0M314.5 115.9h0M288.5 132.9h0M313.6 133.1h0M296.3 133.8h0M282.4 132.5h0M303.1 123.2h0M284.2 135.0h0M272.6 121.3h0M289.0 116.6h0M286.1 127.4h0M293.2 120.5h0M306.7 116.5h0M271.3 134.1h0M289.5 139.5h0M301.3 129.4h0M297.4 111.3h0M310.0 142.2h0M307.3 124.4h0M302.8 135.8h0M287.5 137.1h0M300.6 126.7h0M303.8 127.7h0M280.8 139.8h0M288.2 122.0h0M305.9 123.7h0M294.7 121.0h0M306.8 118.3h0M282.9 127.7h0M320.7 130.2h0M284.9 111.7h0M310.4 129.6h0M295.5 130.8h0M306.4 129.6h0M285.4 119.4h0M279.6 144.0h0M302.4 128.8h0M309.8 122.3h0M310.6 122.6h0M309.1 130.1h0M280.9 117.2h0M282.5 128.4h0M312.7 121.2h0M314.5 133.4h0M286.5 131.2h0M320.7 120.0h0M301.3 130.8h0M305.2 124.2h0M296.3 116.8h0M294.2 116.3h0M303.8 140.4h0M297.3 116.6h0M312.4 127.2h0M283.1 122.6h0M299.3 113.8h0M301.4 137.3h0M314.3 136.9h0M309.2 123.9h0M307.0 136.8h0M297.3 129.9h0M286.1 124.9h0M288.5 114.3h0M303.4 146.5h0M300.0 117.5h0M299.4 133.1h0M306.6 130.4h0M317.6 119.3h0M281.5 119.5h0M289.4 133.6h0M309.4 125.0h0M281.7 126.3h0M289.8 121.2h0M310.3 141.7h0M313.2 142.3h0M299.5 116.2h0M280.3 113.4h0M298.7 135.1h0M291.8 112.0h0M288.3 123.4h0M316.4 126.1h0M326.8 146.7h0M275.0 118.9h0M305.3 127.2h0M301.8 123.1h0M282.5 115.1h0M294.8 129.8h0M288.5 138.2h0M300.3 134.1h0M281.8 127.0h0M300.9 146.0h0M302.2 121.2h0M314.6 126.0h0M297.0 126.3h0M313.4 140.9h0M272.8 125.9h0M288.9 125.1h0M288.8 115.8h0M314.2 127.4h0M284.6 139.4h0M292.7 127.2h0M293.9 126.5h0M277.1 120.0h0M293.7 124.1h0M289.5 135.3h0M292.8 116.3h0M320.2 123.7h0M315.5 130.4h0M292.2 134.7h0M272.1 112.7h0M289.6 122.9h0M274.6 148.5h0M318.1 130.9h0M300.5 138.1h0M298.6 137.2h0M311.8 146.0h0M314.9 119.3h0M307.3 136.1h0M308.1 146.8h0M301.8 120.7h0M311.9 136.3h0M296.7 130.1h0M299.2 127.5h0M303.1 120.9h0M309.4 128.5h0M326.4 127.9h0M298.9 112.7h0M288.3 122.2h0M297.0 123.9h0M325.7 120.1h0M293.0 120.4h0M313.9 121.2h0M272.7 139.6h0M274.4 131.9h0M297.2 118.2h0M309.8 124.1h0M287.1 134.5h0M297.6 125.6h0M282.2 111.1h0M289.0 127.7h0M289.8 127.9h0M292.5 122.4h0M296.1 128.3h0M293.5 120.3h0M313.5 136.3h0M316.4 132.0h0M304.6 126.1h0M309.7 118.2h0M294.6 127.9h0M294.4 112.4h0M295.3 120.6h0M285.9 130.9h0M315.1 125.6h0M277.3 123.0h0M293.7 114.2h0M286.5 126.1h0M286.8 129.1h0M274.6 131.2h0M284.9 125.9h0M297.1 119.6h0M300.1 131.0h0M292.6 124.0h0M277.3 124.2h0M299.6 118.7h0M297.0 121.0h0M279.3 123.8h0M283.4 133.2h0M283.3 138.4h0M296.4 124.3h0M284.2 128.8h0M316.1 119.3h0M323.5 126.9h0M289.1 127.2h0M287.2 125.2h0M294.0 131.1h0M307.4 113.2h0M282.4 129.6h0M293.7 131.2h0M303.0 116.9h0M293.0 123.4h0M291.4 121.9h0M284.2 125.0h0M301.0 112.3h0M311.6 119.2h0M293.8 119.6h0M303.5 123.8h0M287.2 117.0h0M304.2 128.1h0M289.3 128.4h0M286.7 126.8h0M318.3 128.3h0M275.5 133.2h0M291.9 132.6h0M317.0 126.9h0M299.7 123.4h0M300.0 114.4h0M317.8 132.3h0M313.2 123.7h0M311.1 134.0h0M283.8 116.7h0M311.7 129.3h0M306.2 125.0h0M282.8 125.9h0M271.6 127.2h0M282.0 116.0h0M287.8 130.1h0M291.1 114.1h0M299.2 129.4h0M319.1 112.2h0M322.2 122.1h0M313.9 129.7h0M311.1 115.7h0M285.4 149.2h0M325.4 128.3h0M305.4 125.4h0M274.0 136.4h0M302.9 140.5h0M303.3 149.2h0M290.3 134.2h0M321.5 150.6h0M325.1 149.3h0M302.0 134.9h0M322.9 150.2h0M291.7 136.2h0M274.9 140.3h0M284.7 139.2h0M291.0 147.4h0M294.6 136.0h0M304.7 141.7h0M276.1 141.4h0M288.1 137.6h0M321.4 151.0h0M298.9 149.1h0M295.2 148.6h0M300.0 138.5h0M289.4 149.2h0M319.7 149.7h0M322.8 137.4h0M273.6 145.3h0M304.3 139.0h0M285.5 146.1h0M314.6 135.6h0M290.0 138.8h0M287.4 146.7h0M273.0 139.0h0M315.6 134.3h0M295.8 150.5h0M325.6 145.7h0M315.0 144.2h0M294.5 133.6h0M298.7 133.1h0M277.0 142.3h0M321.3 140.1h0M300.2 135.4h0M305.8 149.4h0M326.1 134.0h0M285.1 141.4h0M298.1 149.5h0M311.6 143.7h0M281.6 145.1h0M299.5 145.3h0M272.0 139.9h0M289.9 140.3h0M299.9 147.2h0M301.0 136.7h0M298.6 143.3h0M274.7 143.5h0M302.9 144.6h0M309.0 146.6h0M276.7 138.7h0M286.9 144.4h0M320.9 139.6h0M315.1 133.3h0M285.9 142.7h0M321.3 146.2h0M321.1 150.3h0M286.8 149.9h0M280.8 143.4h0M283.2 135.0h0M289.7 145.6h0M310.1 135.9h0M291.2 150.4h0M304.7 147.7h0M327.0 135.1h0M274.8 147.8h0M316.8 138.7h0M316.5 145.5h0M290.4 145.4h0M315.3 142.2h0M301.6 136.6h0M276.1 134.1h0M315.7 150.8h0M316.6 148.6h0M297.7 134.9h0M322.3 142.8h0M304.3 146.0h0M284.8 149.8h0M303.0 144.0h0M290.9 143.3h0M324.3 136.0h0M284.0 145.6h0M311.0 141.9h0M313.5 142.6h0M283.3 138.5h0M289.2 139.6h0M280.4 149.3h0M290.8 136.5h0M278.5 141.6h0M275.8 141.0h0M279.8 141.6h0M279.2 137.4h0M324.7 133.8h0M299.9 147.8h0M314.0 135.6h0M288.9 143.2h0M312.2 149.5h0M301.6 135.5h0M273.9 143.3h0M320.1 137.6h0M310.2 146.5h0M272.1 136.5h0M299.0 137.1h0M277.8 144.7h0M280.2 144.1h0M326.7 133.6h0M285.6 134.8h0M298.2 147.1h0M313.7 138.7h0M289.8 142.8h0M301.7 134.4h0M322.1 147.5h0M312.6 134.5h0M302.5 135.5h0M323.1 136.3h0M277.5 142.3h0M299.1 141.0h0M312.1 143.1h0M295.2 148.8h0M283.5 142.5h0M275.8 147.2h0M283.1 143.2h0M310.6 134.5h0M276.9 142.1h0M305.4 136.5h0M290.7 150.0h0M307.6 136.1h0M305.7 137.8h0M273.8 133.2h0M316.1 150.3h0M285.0 146.2h0M314.1 135.9h0M324.8 149.0h0M274.6 137.3h0M312.0 140.0h0M279.2 133.6h0M321.1 149.9h0M296.6 146.3h0M308.9 150.9h0M288.3 141.6h0M305.4 149.9h0M322.4 147.1h0M301.2 139.1h0M325.9 146.3h0M325.1 138.1h0M297.6 141.2h0M295.2 148.9h0M298.9 146.2h0M300.0 149.3h0M317.7 138.4h0M326.9 148.4h0M315.9 145.3h0M296.1 135.5h0M277.5 139.4h0M306.5 148.7h0M292.9 145.6h0M304.8 149.2h0M322.5 133.2h0M312.5 138.2h0M323.8 134.2h0M292.5 133.7h0M305.8 133.9h0M276.6 143.5h0M280.4 133.2h0M320.3 148.1h0M299.5 148.3h0M304.3 148.7h0M277.8 133.7h0M309.4 138.4h0M303.4 146.4h0M300.1 138.3h0M324.2 139.9h0M296.7 142.3h0M274.0 142.8h0M305.8 136.0h0M310.6 141.1h0M324.0 139.8h0M276.7 149.6h0M287.5 150.2h0M308.4 139.3h0M299.6 147.4h0M320.2 135.5h0M288.2 134.7h0M300.4 138.0h0M287.4 144.8h0M325.4 136.7h0M300.9 140.7h0M303.3 138.9h0M282.0 138.3h0M322.4 141.9h0M324.4 133.3h0M282.4 149.6h0M278.1 143.5h0M281.7 135.4h0M298.2 148.7h0M302.9 133.3h0M283.7 150.9h0M315.2 142.4h0M289.8 138.7h0M274.0 137.1h0M318.6 139.6h0M318.9 150.2h0M309.4 138.2h0M296.0 135.2h0M284.7 139.3h0M274.1 148.4h0M299.5 139.4h0M306.4 141.2h0M289.5 139.9h0M296.4 138.5h0M292.2 141.4h0M319.3 147.5h0M319.5 141.4h0M324.4 134.1h0M318.5 145.1h0M273.5 148.2h0M290.0 143.9h0M275.0 144.7h0M308.3 139.4h0M290.4 147.3h0M322.2 133.0h0M288.4 142.5h0M289.4 138.9h0M303.1 148.3h0M316.2 140.0h0M320.0 150.6h0M280.0 136.3h0M325.6 134.7h0M286.0 150.9h0M316.9 136.6h0M294.4 150.9h0M285.9 147.0h0M285.9 140.6h0M323.6 144.9h0M295.5 150.3h0M321.3 150.0h0M342.5 129.1h0M343.7 136.3h0M344.4 136.2h0M340.9 113.2h0M354.1 132.7h0M347.0 117.7h0M347.3 129.4h0M347.4 131.2h0M350.2 144.8h0M343.2 125.9h0M348.6 114.5h0M341.5 126.1h0M334.5 150.3h0M343.7 127.7h0M339.1 135.7h0M342.7 117.3h0M346.7 146.2h0M337.6 129.6h0M355.9 127.9h0M341.5 147.0h0M346.2 139.8h0M353.2 136.8h0M346.6 150.4h0M337.5 117.9h0M343.9 123.5h0M336.9 137.6h0M344.0 134.4h0M343.1 129.8h0M337.4 148.8h0M350.2 115.8h0M342.8 133.8h0M342.9 129.4h0M348.7 135.0h0M340.1 128.0h0M344.5 127.2h0M345.2 113.8h0M345.3 134.4h0M346.9 134.7h0M342.2 131.5h0M349.8 130.8h0M346.1 130.7h0M347.7 116.3h0M344.7 139.0h0M340.5 136.0h0M342.7 125.5h0M339.4 120.3h0M350.9 114.5h0M345.7 115.5h0M355.1 137.5h0M341.0 117.9h0M343.6 133.6h0M353.3 145.5h0M340.1 132.5h0M349.6 122.4h0M342.6 139.8h0M338.1 130.4h0M344.6 126.9h0M345.1 112.7h0M349.1 125.2h0M354.8 151.1h0M342.7 150.6h0M352.1 121.4h0M343.7 142.8h0M341.4 126.3h0M332.5 115.0h0M339.2 122.4h0M341.4 132.8h0M346.3 126.1h0M338.2 132.6h0M348.1 129.5h0M351.9 125.2h0M349.2 132.9h0M351.6 147.3h0M339.2 110.7h0M350.1 133.4h0M346.7 125.3h0M341.3 142.8h0M347.4 124.3h0M345.2 133.1h0M338.5 123.3h0M347.5 131.5h0M338.1 133.3h0M354.9 136.6h0M338.4 125.1h0M341.9 121.7h0M340.9 123.8h0M344.6 116.8h0M349.6 133.5h0M354.7 139.0h0M349.8 135.5h0M344.5 118.6h0M348.3 131.1h0M341.8 134.4h0M346.6 123.2h0M352.2 124.9h0M345.6 141.4h0M342.4 126.8h0M347.3 126.6h0M342.5 118.1h0M346.1 126.0h0M349.1 140.8h0M344.9 138.3h0M341.5 147.1h0M342.3 128.7h0M343.2 124.9h0M349.0 130.1h0M340.6 138.3h0M345.2 136.2h0M346.1 125.3h0M336.0 127.0h0M340.6 143.0h0M343.9 145.8h0M356.4 142.5h0M356.9 120.3h0M342.5 119.1h0M338.4 116.5h0M349.4 121.7h0M343.4 136.2h0M343.0 146.6h0M350.9 137.7h0M353.3 135.8h0M346.0 141.8h0M350.2 115.9h0M350.5 141.0h0M345.8 145.1h0M339.2 132.4h0M341.6 121.4h0M346.4 114.9h0M344.9 137.5h0M341.3 118.7h0M347.8 139.9h0M349.6 124.5h0M343.0 144.7h0M349.4 133.7h0M346.2 128.5h0M348.1 137.7h0M345.3 133.1h0M338.2 128.8h0M352.9 132.6h0M338.3 125.4h0M345.5 145.5h0M355.6 129.9h0M344.3 131.7h0M339.6 144.2h0M339.1 138.0h0M342.8 119.3h0M346.7 147.9h0M339.0 132.6h0M341.6 141.6h0M337.7 116.9h0M343.1 116.7h0M349.9 114.6h0M345.3 125.1h0M349.9 124.7h0M344.1 148.1h0M348.2 143.6h0M352.1 135.6h0M346.6 112.6h0M336.5 126.0h0M346.5 142.1h0M341.2 126.9h0M355.3 118.6h0M344.1 129.2h0M341.6 146.1h0M337.1 127.2h0M336.7 122.9h0M336.7 130.4h0M346.8 122.6h0M347.2 128.2h0M343.1 131.3h0M351.1 117.9h0M349.3 133.3h0M344.0 122.6h0M346.7 138.8h0M340.4 138.1h0M345.2 139.1h0M346.4 128.2h0M346.1 137.1h0M337.8 130.4h0M333.0 132.5h0M342.6 130.6h0M349.9 140.1h0M352.1 140.2h0M344.0 121.9h0M357.8 123.2h0M343.2 134.8h0M341.0 131.9h0M346.1 124.7h0M339.9 130.6h0M347.1 119.9h0M345.7 131.4h0M340.6 134.7h0M338.2 139.9h0M341.5 141.1h0M345.5 130.9h0M338.4 138.3h0M347.2 132.4h0M345.2 137.5h0M347.3 134.5h0M349.3 128.7h0M353.0 114.3h0M336.9 136.4h0M344.9 114.4h0M339.0 122.7h0M351.3 137.2h0M336.8 116.1h0M345.7 117.3h0M342.0 124.2h0M345.3 136.4h0M341.5 124.8h0M346.3 147.5h0M347.1 126.5h0M349.7 128.9h0M338.2 137.2h0M353.1 118.5h0M348.8 117.4h0M344.6 129.1h0M343.3 129.1h0M348.4 125.0h0M343.9 127.1h0M346.4 123.5h0M348.9 133.5h0M342.1 116.8h0M343.7 141.0h0M348.2 130.4h0M355.0 146.7h0M347.6 145.0h0M343.8 126.4h0M345.2 125.0h0M351.7 136.2h0M352.8 125.5h0M352.4 131.8h0M347.7 134.5h0M338.8 139.9h0M342.8 137.0h0M344.8 119.9h0M343.5 133.3h0M343.6 148.2h0M351.0 131.3h0M343.2 145.5h0M345.2 142.6h0M348.8 139.9h0M344.2 128.5h0M347.3 135.8h0M344.7 130.4h0M346.2 141.6h0M346.8 127.0h0M350.4 137.9h0M342.4 129.3h0M333.5 128.9h0M339.6 131.5h0M341.5 143.3h0M351.4 126.4h0M340.6 143.9h0M338.4 126.5h0M343.2 132.8h0M345.3 120.5h0M349.4 134.2h0M346.7 146.9h0M354.4 132.9h0M343.0 127.3h0M344.5 118.8h0M341.6 124.8h0M347.6 138.1h0M332.8 113.2h0M342.0 118.8h0M344.9 111.6h0M343.9 132.3h0M347.0 125.6h0M347.1 138.2h0M343.3 119.1h0M342.5 133.3h0M346.4 112.3h0M337.6 113.1h0M354.0 134.7h0M345.9 117.6h0M353.0 134.3h0M344.8 132.9h0M346.4 116.6h0M343.0 127.9h0M342.9 122.3h0M345.9 125.9h0M346.3 138.1h0M340.8 128.1h0M340.8 138.8h0M348.6 141.0h0M350.3 131.4h0M340.1 122.1h0M351.0 131.5h0M349.0 124.0h0M343.9 150.5h0M349.9 113.4h0M341.6 131.6h0M350.2 140.4h0M349.3 143.1h0M348.5 139.2h0M340.7 117.3h0M342.5 143.6h0M351.7 118.7h0M343.6 131.0h0M347.9 133.7h0M352.4 132.9h0M343.9 127.5h0M350.4 127.5h0M347.6 125.8h0M343.6 121.7h0M349.0 126.2h0M340.4 137.9h0M342.8 130.9h0M341.2 146.3h0M346.5 127.7h0M351.3 130.2h0M350.8 121.3h0M352.2 123.2h0M342.5 130.4h0M344.2 131.3h0M345.8 128.5h0M347.2 125.5h0M351.6 137.4h0M339.4 124.5h0M343.4 140.2h0M335.4 141.9h0M335.3 123.5h0M340.8 126.5h0M348.9 139.9h0M344.5 128.0h0M340.2 142.5h0M337.2 123.1h0M348.4 149.5h0M343.5 134.8h0M342.0 132.4h0M334.5 137.0h0M342.4 134.7h0M344.4 119.9h0M337.3 119.7h0M344.8 137.8h0M350.6 140.4h0M355.2 140.7h0M353.9 138.6h0M346.6 111.9h0M349.8 128.7h0M343.1 116.0h0M351.3 130.1h0M342.9 121.8h0M344.6 134.8h0M348.0 131.3h0M346.1 130.8h0M342.9 142.3h0M344.3 124.0h0M353.6 120.2h0M342.8 131.4h0M344.1 129.2h0M349.8 140.8h0M338.4 150.0h0M339.2 119.2h0M348.4 119.5h0M339.0 138.9h0M347.5 134.2h0M352.0 141.1h0M342.7 125.2h0M347.1 125.7h0M346.3 139.4h0M346.3 115.2h0M353.2 129.5h0M346.7 112.8h0M344.8 116.6h0M352.9 125.1h0M338.1 128.8h0M340.4 130.8h0M340.3 112.0h0M344.1 127.0h0M341.0 137.3h0M349.2 129.1h0M344.6 134.0h0M349.6 132.0h0M339.4 136.9h0M356.8 136.9h0M346.6 124.2h0M337.4 135.5h0M347.9 134.9h0M345.8 143.7h0M344.3 132.0h0M348.9 136.1h0M348.5 135.0h0M346.5 117.8h0M343.4 140.8h0M344.3 125.5h0M342.2 132.1h0M341.0 111.9h0M354.2 127.5h0M345.3 136.6h0M354.4 122.7h0M344.2 126.6h0M349.7 140.0h0M352.9 125.5h0M339.0 123.4h0M335.5 133.8h0M334.8 134.6h0M339.8 134.6h0M352.3 128.9h0M344.3 130.5h0M341.9 133.8h0M343.7 131.8h0M340.9 135.7h0M346.6 121.0h0M344.6 115.4h0M337.9 118.4h0M347.0 125.9h0M344.7 133.0h0M343.6 128.2h0M340.9 136.5h0M343.7 149.2h0M339.3 129.1h0M346.9 125.0h0M355.5 132.8h0M347.0 112.4h0M347.0 117.4h0M347.7 134.0h0M344.3 124.2h0M340.9 123.4h0M352.6 121.6h0M343.4 134.4h0M338.2 125.7h0M350.6 132.7h0M347.7 137.7h0M348.7 136.1h0M333.1 127.9h0M352.0 117.9h0M349.6 145.4h0M344.4 127.2h0M339.9 136.8h0M346.1 135.9h0M344.6 130.5h0M341.9 141.4h0M344.2 143.2h0M349.4 122.3h0M339.4 141.0h0M346.9 126.3h0M347.8 126.4h0M348.6 124.0h0M342.6 137.3h0M346.8 114.9h0M347.5 137.5h0M336.7 120.0h0M339.3 119.7h0M341.5 150.1h0M339.9 120.1h0M343.7 144.0h0M342.9 140.1h0M350.0 125.7h0M346.9 140.5h0M346.1 147.1h0M346.9 146.8h0M340.0 132.6h0M333.0 115.1h0M342.1 125.8h0M343.8 135.5h0M337.7 112.0h0M348.7 133.3h0M349.6 138.9h0M346.5 124.6h0M347.4 120.2h0M338.4 126.6h0M356.0 119.9h0M351.6 128.2h0M353.5 124.8h0M339.0 123.2h0M343.9 136.0h0M341.3 132.2h0M356.6 130.3h0M341.1 129.9h0M343.2 132.9h0M340.9 126.9h0M348.5 130.1h0M335.3 142.1h0M346.7 150.3h0M340.7 133.8h0M333.9 131.0h0M333.2 134.8h0M337.6 145.6h0M334.2 133.7h0M331.5 131.2h0M338.8 118.4h0M330.8 111.3h0M332.5 125.7h0M335.5 126.2h0M339.8 133.1h0M338.8 120.1h0M332.5 132.0h0M330.0 138.6h0M333.2 138.9h0M335.1 143.8h0M332.0 147.6h0M339.8 127.0h0M335.8 111.2h0M335.6 127.4h0M337.8 139.9h0M337.0 149.5h0M330.2 124.3h0M336.1 146.5h0M333.2 141.4h0M338.1 130.1h0M337.0 140.2h0M336.6 143.9h0M330.6 143.4h0M330.5 134.0h0M333.6 131.5h0M338.4 122.2h0M335.0 140.4h0M335.4 132.7h0M336.1 149.0h0M330.8 127.9h0M338.1 112.5h0M337.8 124.9h0M331.8 140.7h0M336.9 139.6h0M337.5 140.2h0M355.7 39.6h0M346.3 40.7h0M340.8 37.1h0M337.3 47.6h0M344.3 44.1h0M352.8 38.8h0M340.7 38.4h0M346.0 36.1h0M349.6 39.0h0M339.2 42.7h0M352.4 36.5h0M342.7 39.3h0M347.0 43.0h0M343.1 36.4h0M340.2 43.4h0M354.9 40.7h0M338.9 49.7h0M350.7 37.1h0M336.2 36.4h0M361.7 44.8h0M337.8 37.0h0M347.3 35.7h0M342.4 42.2h0M342.3 43.8h0M340.7 44.5h0M339.8 37.7h0M335.0 41.2h0M347.9 40.0h0M352.5 42.4h0M342.7 41.3h0M336.6 45.7h0M345.8 45.8h0M336.3 46.9h0M352.1 40.5h0M341.7 46.3h0M337.9 39.1h0M350.6 39.6h0M338.9 35.4h0M340.8 44.9h0M360.4 36.1h0M336.4 42.4h0M342.8 38.3h0M342.9 45.2h0M348.5 37.0h0M341.2 43.5h0M354.2 41.9h0M331.9 39.2h0M349.5 42.5h0M346.2 37.7h0M332.1 38.1h0M344.8 37.3h0M338.6 41.5h0M341.8 40.6h0M350.3 37.1h0M349.8 35.5h0M349.1 41.5h0M338.5 56.8h0M348.3 91.7h0M336.3 90.4h0M336.5 36.2h0M350.5 41.7h0M345.8 94.0h0M336.8 95.1h0M341.6 96.5h0M348.6 69.8h0M345.7 66.0h0M337.5 78.3h0M345.8 40.1h0M343.7 53.0h0M342.3 79.6h0M340.4 60.4h0M336.5 87.2h0M348.7 107.5h0M343.4 63.6h0M341.8 80.2h0M345.3 40.8h0M343.3 102.4h0M341.0 79.7h0M351.6 43.6h0M351.2 59.4h0M344.2 57.5h0M340.6 67.6h0M346.5 76.4h0M337.5 87.8h0M343.3 40.9h0M342.0 103.1h0M347.3 101.8h0M340.8 43.9h0M336.9 50.1h0M350.3 37.9h0M347.0 37.6h0M336.1 104.8h0M348.2 99.1h0M340.3 45.1h0M349.1 90.7h0M340.1 86.2h0M345.9 38.2h0M351.6 46.8h0M346.2 57.5h0M343.8 93.0h0M338.1 55.3h0M342.8 58.6h0M346.5 97.2h0M349.2 81.2h0M344.6 83.3h0M340.6 86.3h0M338.8 102.8h0M348.3 89.1h0M343.5 78.6h0M343.3 83.3h0M337.3 72.0h0M342.6 99.1h0M337.3 98.2h0M351.2 104.9h0M340.5 57.0h0M338.5 93.0h0M347.4 51.6h0M347.2 53.2h0M348.5 39.5h0M350.1 65.6h0M350.2 72.7h0M338.0 91.2h0M347.5 36.9h0M338.3 45.2h0M342.5 75.1h0M345.4 102.0h0M343.6 74.5h0M347.1 104.9h0M350.7 73.8h0M342.1 42.8h0M338.6 49.5h0M343.4 79.0h0M337.7 73.1h0M350.0 99.5h0M349.8 95.7h0M343.6 71.3h0M318.7 59.3h0M321.8 36.3h0M325.8 53.9h0M324.0 41.3h0M318.6 50.0h0M319.9 48.9h0M324.3 44.8h0M325.4 57.0h0M290.0 54.0h0M462.0 43.8h0M447.7 45.1h0M453.3 52.1h0M465.8 49.3h0M467.4 43.9h0M468.4 47.6h0M464.2 50.4h0M475.0 33.9h0M456.4 35.2h0M450.4 48.1h0M452.5 42.7h0M455.6 49.8h0M472.2 44.7h0M454.7 40.5h0M458.5 34.2h0M450.7 45.1h0M461.8 45.0h0M462.5 39.6h0M459.1 37.9h0M463.9 45.4h0M456.8 44.9h0M467.7 44.3h0M474.6 51.2h0M460.8 42.8h0M451.0 37.6h0M461.5 44.7h0M462.7 54.0h0M463.1 46.3h0M458.2 37.5h0M456.5 43.4h0M465.4 48.1h0M452.3 43.3h0M465.7 35.5h0M458.2 35.3h0M454.8 50.9h0M462.8 56.9h0M452.2 49.4h0M458.8 34.5h0M461.5 45.3h0M458.0 51.2h0M457.6 48.4h0M460.0 40.8h0M462.9 50.3h0M470.9 51.1h0M447.2 36.1h0M458.0 51.1h0M445.7 44.8h0M451.1 48.7h0M467.8 42.4h0M470.3 48.4h0M458.9 52.6h0M476.1 43.5h0M462.0 46.0h0M466.3 41.6h0M458.4 51.1h0M459.2 51.9h0M462.2 54.2h0M471.3 37.2h0M465.3 42.6h0M455.6 49.2h0M468.1 47.2h0M468.4 53.8h0M462.9 47.7h0M463.8 53.0h0M453.6 43.7h0M451.1 40.7h0M462.8 42.0h0M454.5 42.7h0M468.7 56.5h0M461.1 39.7h0M461.7 40.4h0M462.7 48.2h0M474.7 39.6h0M459.2 39.1h0M468.3 38.4h0M470.0 54.8h0M447.4 50.6h0M477.4 44.8h0M459.8 56.2h0M458.6 43.5h0M453.4 48.0h0M470.2 39.5h0M466.5 47.2h0M472.0 43.6h0M454.5 45.5h0M463.7 42.5h0M453.2 48.0h0M448.3 37.3h0M459.4 36.1h0M464.0 34.5h0M458.8 46.7h0M470.4 39.1h0M462.3 51.3h0M454.2 46.4h0M468.8 50.8h0M459.8 46.3h0M454.9 47.4h0M463.5 41.1h0M478.3 48.0h0M454.0 44.4h0M463.9 37.9h0M453.4 48.6h0M459.7 43.8h0M468.1 42.6h0M449.0 37.5h0M459.1 43.0h0M457.3 38.9h0M447.0 42.7h0M463.4 45.8h0M464.9 61.8h0M451.4 40.5h0M465.5 43.6h0M484.2 43.6h0M459.4 44.2h0M458.5 40.1h0M468.5 46.2h0M462.7 42.6h0M445.9 41.4h0M443.2 40.4h0M462.9 42.6h0M460.8 53.6h0M464.4 50.1h0M457.8 42.2h0M449.7 53.0h0M468.7 43.7h0M463.7 45.6h0M470.5 47.2h0M459.5 37.8h0M458.4 51.3h0M454.8 42.7h0M464.9 53.8h0M442.5 43.3h0M456.4 49.0h0M457.0 37.7h0M449.8 56.0h0M448.7 42.2h0M469.3 44.1h0M444.8 44.2h0M459.9 52.1h0M453.9 34.9h0M457.1 37.4h0M461.6 48.0h0M459.5 43.8h0M450.8 35.7h0M462.4 52.5h0M466.2 58.6h0M459.7 45.6h0M463.9 49.1h0M470.0 43.7h0M467.2 42.5h0M465.7 52.0h0M470.6 40.3h0M455.8 50.0h0M466.7 47.0h0M455.7 48.4h0M461.1 41.9h0M454.0 46.9h0M454.3 51.9h0M446.4 38.0h0M474.2 35.6h0M455.4 41.5h0M461.4 52.4h0M456.7 40.9h0M469.9 43.9h0M466.0 44.3h0M456.1 40.3h0M452.5 39.2h0M461.3 43.7h0M466.0 44.7h0M463.1 38.8h0M447.6 50.1h0M473.7 42.3h0M466.6 38.7h0M453.1 46.4h0M466.6 47.5h0M468.5 44.5h0M458.9 44.6h0M453.3 41.8h0M447.3 37.0h0M466.0 40.7h0M442.6 37.1h0M466.0 43.6h0M459.3 47.5h0M468.8 42.2h0M461.8 56.0h0M464.6 40.7h0M453.6 41.2h0M464.8 41.4h0M464.9 45.1h0M448.0 41.1h0M444.8 43.1h0M454.1 49.5h0M446.0 45.7h0M452.5 41.0h0M447.0 55.1h0M458.2 44.5h0M459.2 38.4h0M457.9 41.5h0M463.9 48.5h0M460.5 51.1h0M457.5 36.3h0M447.0 49.1h0M457.3 46.9h0M465.5 38.5h0M469.9 48.4h0M472.5 48.3h0M451.2 47.5h0M461.0 35.4h0M466.7 42.5h0M463.1 53.9h0M470.0 41.5h0M465.6 50.2h0M461.2 50.5h0M464.4 41.3h0M470.7 42.6h0M456.4 41.7h0M446.3 50.4h0M457.8 48.5h0M462.6 46.3h0M457.8 38.3h0M462.2 48.7h0M459.6 49.9h0M461.2 36.3h0M455.8 43.5h0M453.8 42.6h0M467.4 44.0h0M468.0 46.7h0M456.0 44.5h0M467.0 40.6h0M455.0 51.4h0M466.4 47.9h0M456.0 42.9h0M463.0 46.5h0M466.7 37.4h0M466.8 38.0h0M452.7 41.1h0M455.9 50.3h0M469.2 56.8h0M454.8 44.9h0M466.2 55.4h0M467.5 39.6h0M459.3 44.9h0M454.8 37.8h0M468.8 38.8h0M468.1 37.5h0M455.1 41.7h0M466.5 35.3h0M460.0 50.8h0M466.2 52.9h0M459.0 34.9h0M460.2 47.2h0M452.1 42.1h0M459.8 57.3h0M455.0 39.2h0M458.6 40.2h0M460.4 40.9h0M450.6 39.8h0M445.4 54.2h0M470.6 43.3h0M461.7 48.2h0M462.5 38.6h0M453.3 48.9h0M458.0 46.6h0M457.0 49.3h0M458.9 45.5h0M467.0 52.0h0M456.4 34.2h0M463.0 38.7h0M452.5 53.4h0M459.2 37.5h0M450.2 46.4h0M462.6 46.4h0M451.3 39.9h0M459.9 41.6h0M460.6 42.0h0M459.6 45.1h0M465.0 51.8h0M470.9 34.8h0M461.9 51.2h0M464.8 52.0h0M460.1 57.4h0M464.1 34.1h0M465.6 42.1h0M468.3 39.7h0M466.5 36.2h0M457.9 43.4h0M468.7 39.1h0M462.5 50.8h0M446.3 53.4h0M459.3 45.3h0M474.9 43.7h0M465.6 51.6h0M471.2 51.4h0M455.4 46.3h0M449.1 36.6h0M457.7 42.1h0M455.7 39.4h0M473.0 36.0h0M464.1 36.4h0M462.5 38.9h0M468.9 51.5h0M457.9 42.9h0M462.6 34.6h0M464.9 62.1h0M456.6 33.9h0M455.6 44.0h0M457.6 54.6h0M464.8 40.5h0M461.8 41.3h0M454.1 53.3h0M458.7 40.5h0M470.9 42.3h0M465.3 37.1h0M457.1 49.5h0M470.2 42.1h0M456.4 50.3h0M459.0 40.5h0M458.3 42.6h0M456.1 50.6h0M472.6 38.5h0M455.0 43.2h0M454.2 44.6h0M461.2 43.9h0M454.4 45.8h0M450.3 41.6h0M458.9 44.3h0M466.3 42.8h0M452.4 46.5h0M458.9 48.7h0M472.5 53.2h0M459.8 38.0h0M461.7 42.8h0M454.3 34.7h0M468.7 38.0h0M467.8 50.5h0M452.9 46.4h0M459.4 35.1h0M455.2 44.8h0M467.2 39.5h0M458.4 50.3h0M456.9 39.8h0M448.4 46.6h0M454.6 38.0h0M456.5 39.4h0M482.0 40.5h0M465.8 36.1h0M466.5 46.1h0M457.1 57.6h0M452.8 37.3h0M454.6 43.5h0M465.9 43.4h0M454.1 38.0h0M472.3 41.2h0M473.1 43.3h0M457.2 41.6h0M463.7 48.8h0M457.2 47.0h0M450.2 33.9h0M447.9 41.1h0M454.9 48.2h0M457.3 41.3h0M457.6 35.0h0M450.5 55.6h0M464.3 35.1h0M450.7 46.1h0M456.4 40.4h0M465.8 37.4h0M450.2 46.6h0M452.6 44.8h0M445.6 41.6h0M473.7 35.2h0M459.4 43.2h0M460.9 43.0h0M465.5 39.8h0M452.8 45.1h0M465.5 41.6h0M467.3 43.9h0M450.5 41.6h0M465.1 50.2h0M458.6 47.8h0M469.9 45.7h0M470.8 47.9h0M452.7 36.3h0M453.7 54.4h0M468.8 38.4h0M459.7 56.6h0M453.7 44.0h0M457.3 49.2h0M445.7 46.0h0M461.4 50.9h0M463.2 46.3h0M452.8 45.7h0M456.1 55.0h0M462.4 44.2h0M461.1 44.4h0M457.0 48.0h0M459.9 38.5h0M466.7 48.6h0M468.5 41.5h0M467.1 53.3h0M464.9 46.5h0M459.7 34.5h0M452.3 43.6h0M467.9 47.2h0M456.0 45.3h0M459.2 39.6h0M459.7 49.2h0M451.4 41.5h0M459.7 37.8h0M453.0 46.8h0M476.2 44.5h0M456.1 53.7h0M457.6 52.9h0M475.3 64.1h0M467.5 42.1h0M455.2 41.7h0M451.9 38.4h0M462.7 44.9h0M461.5 43.1h0M448.9 47.5h0M459.1 68.7h0M459.7 54.0h0M463.3 68.5h0M457.9 67.9h0M461.1 58.3h0M460.1 56.0h0M465.1 58.5h0M459.3 67.6h0M465.7 46.9h0M468.7 67.1h0M453.6 63.5h0M468.7 63.0h0M465.3 70.8h0M456.2 65.2h0M466.9 55.8h0M459.5 57.7h0M456.7 60.6h0M449.5 57.1h0M451.3 54.4h0M456.5 70.6h0M454.1 69.3h0M457.2 55.9h0M451.5 63.5h0M458.7 68.6h0M456.3 45.4h0M461.5 73.1h0M459.2 63.3h0M461.3 64.4h0M470.7 61.4h0M461.4 69.5h0M461.5 48.4h0M460.8 59.6h0M454.6 69.8h0M456.1 65.6h0M455.9 67.1h0M465.1 55.4h0M455.5 69.8h0M455.0 70.8h0M460.8 54.9h0M456.5 73.0h0M462.9 63.5h0M460.1 71.2h0M456.3 65.1h0M461.1 73.1h0M457.4 60.8h0M460.3 60.6h0M457.9 66.8h0M456.9 60.1h0M460.2 63.3h0M457.4 61.6h0M453.6 56.3h0M455.9 53.5h0M458.0 61.6h0M458.4 59.4h0M456.5 69.7h0M461.4 51.9h0M460.0 55.6h0M461.9 56.2h0M460.4 56.4h0M458.2 65.3h0M462.1 51.2h0M456.6 55.7h0M451.5 64.3h0M458.1 59.9h0M455.1 41.2h0M457.4 64.7h0M454.2 61.2h0M448.7 60.2h0M459.3 54.7h0M454.1 53.7h0M456.6 70.8h0M459.5 57.3h0M456.8 68.6h0M456.0 55.1h0M462.5 62.2h0M464.9 60.3h0M457.7 65.7h0M459.9 62.6h0M454.8 56.9h0M455.6 58.2h0M464.8 55.0h0M461.1 65.8h0M452.1 70.4h0M460.0 65.2h0M459.9 70.3h0M460.8 57.0h0M456.2 55.3h0M455.5 55.3h0M460.0 70.0h0M458.1 70.5h0M464.1 67.7h0M451.7 41.5h0M463.8 66.2h0M452.7 56.3h0M460.0 62.1h0M453.2 61.8h0M452.4 60.2h0M461.8 64.4h0M456.4 67.3h0M467.7 59.9h0M459.6 50.7h0M462.5 49.2h0M458.0 69.5h0M461.7 35.9h0M455.4 42.7h0M457.7 50.4h0M469.0 71.7h0M454.5 59.7h0M459.3 70.0h0M465.2 67.5h0M453.3 36.7h0M452.1 52.8h0M462.4 51.4h0M464.8 68.5h0M459.3 68.8h0M455.8 70.6h0M459.4 57.4h0M455.5 45.3h0M457.5 66.4h0M457.2 58.4h0M452.9 72.2h0M458.9 62.0h0M455.3 60.0h0M460.4 65.5h0M456.4 57.8h0M461.9 74.3h0M457.1 66.3h0M462.3 65.0h0M454.9 62.3h0M459.4 53.1h0M459.2 62.0h0M460.4 55.2h0M464.4 59.8h0M454.5 52.4h0M463.8 52.6h0M460.5 65.9h0M456.4 68.1h0M463.7 61.5h0M459.0 67.5h0M459.4 72.8h0M462.4 62.8h0M460.0 58.9h0M462.0 56.2h0M458.9 51.9h0M469.8 64.5h0M459.3 65.9h0M451.5 73.9h0M451.6 67.2h0M457.3 68.2h0M461.9 64.2h0M463.6 59.6h0M460.1 59.6h0M456.0 53.3h0M455.2 58.1h0M455.9 65.3h0M450.0 63.4h0M455.7 53.9h0M460.1 63.7h0M460.3 72.0h0M452.7 71.1h0M465.3 66.3h0M450.3 64.2h0M465.9 68.8h0M447.4 56.5h0M447.5 61.6h0M446.5 47.9h0M448.1 45.1h0M446.3 35.1h0M444.1 43.5h0M448.5 40.8h0M447.8 42.6h0M446.4 58.7h0M447.5 70.1h0M443.4 47.6h0M446.6 68.2h0M447.2 73.2h0M445.8 67.0h0M445.2 74.6h0M443.8 70.9h0M444.1 57.8h0M448.4 64.9h0M448.6 66.8h0M447.4 74.0h0M447.3 66.7h0M443.2 72.3h0M448.5 51.4h0M443.5 53.3h0M445.1 43.2h0M447.2 59.5h0M446.7 73.7h0M444.2 70.6h0M446.9 45.4h0M448.9 58.7h0M465.6 86.6h0M465.4 87.0h0M459.1 80.3h0M463.5 85.2h0M451.4 85.4h0M464.7 96.5h0M473.8 82.3h0M470.5 79.3h0M482.6 89.9h0M454.6 88.4h0M451.6 80.7h0M457.8 82.8h0M465.5 80.6h0M466.1 88.6h0M470.7 89.5h0M469.5 91.4h0M475.6 91.5h0M474.7 80.4h0M459.3 93.3h0M455.6 90.0h0M473.5 92.8h0M455.6 87.6h0M460.7 89.5h0M474.7 86.4h0M472.9 93.2h0M463.7 84.6h0M456.1 80.9h0M457.4 85.6h0M472.4 83.3h0M454.6 86.2h0M459.7 92.4h0M462.3 93.1h0M460.2 81.3h0M462.2 82.2h0M471.9 85.2h0M458.2 96.3h0M458.6 84.3h0M458.4 90.0h0M464.8 86.7h0M474.6 83.7h0M470.0 90.4h0M465.4 84.2h0M460.6 91.7h0M452.1 90.9h0M467.8 88.5h0M467.8 84.3h0M479.5 86.8h0M471.0 85.6h0M458.6 91.6h0M451.7 86.4h0M453.2 79.0h0M472.7 86.6h0M487.2 91.5h0M459.8 88.2h0M459.1 87.6h0M460.8 87.4h0M457.2 90.5h0M449.4 78.5h0M444.1 83.4h0M463.4 89.2h0M470.6 79.3h0M445.3 89.4h0M481.2 89.5h0M460.7 91.4h0M479.8 91.2h0M464.4 85.1h0M456.2 84.5h0M449.2 88.2h0M473.2 85.2h0M470.5 89.7h0M460.8 86.3h0M478.1 83.0h0M454.7 84.6h0M454.0 89.2h0M468.6 85.2h0M469.0 78.2h0M463.3 97.7h0M472.5 81.8h0M471.6 83.5h0M468.7 89.8h0M446.9 95.2h0M447.4 84.5h0M469.6 89.4h0M464.5 85.1h0M470.8 88.3h0M458.7 91.8h0M479.0 83.8h0M457.9 81.7h0M449.4 87.4h0M472.6 79.9h0M459.7 88.1h0M456.0 90.7h0M468.7 86.3h0M474.8 88.2h0M474.1 89.5h0M459.6 93.7h0M455.0 88.4h0M458.8 82.7h0M448.5 92.1h0M476.8 91.8h0M463.5 89.4h0M465.2 89.4h0M467.3 91.7h0M464.0 84.1h0M462.1 86.0h0M454.3 94.8h0M447.1 92.3h0M459.2 86.0h0M463.0 88.8h0M443.7 89.0h0M460.5 86.5h0M462.5 86.0h0M474.0 82.5h0M454.1 89.0h0M460.2 90.9h0M463.1 94.9h0M473.2 82.3h0M473.7 82.7h0M465.6 84.9h0M447.4 90.4h0M468.3 85.1h0M453.2 83.0h0M460.7 91.8h0M457.5 86.3h0M457.9 80.9h0M458.2 83.6h0M474.9 87.4h0M475.9 86.2h0M464.0 93.1h0M467.1 87.0h0M467.4 88.2h0M474.4 83.8h0M457.3 82.4h0M475.2 89.6h0M459.0 89.2h0M482.6 90.3h0M461.4 82.2h0M468.4 98.7h0M474.9 85.2h0M445.7 91.1h0M453.3 84.7h0M485.3 84.7h0M459.8 98.9h0M470.7 85.4h0M464.1 83.7h0M465.5 89.6h0M459.0 90.3h0M470.3 81.2h0M481.4 87.3h0M471.5 93.2h0M462.0 97.8h0M452.8 81.7h0M458.5 95.2h0M479.4 90.4h0M452.0 84.8h0M460.1 87.1h0M450.1 86.8h0M457.1 88.7h0M452.0 84.1h0M463.6 89.7h0M463.1 87.4h0M460.6 83.7h0M457.7 82.5h0M467.9 88.4h0M460.4 82.6h0M457.9 85.8h0M473.0 85.0h0M464.4 83.5h0M469.1 85.3h0M453.1 77.7h0M458.6 84.9h0M474.5 80.7h0M455.8 80.8h0M470.4 87.8h0M458.2 89.3h0M463.8 84.3h0M461.5 89.3h0M472.0 94.6h0M465.1 86.8h0M463.1 82.7h0M460.4 89.1h0M458.0 85.1h0M448.5 89.3h0M473.3 86.5h0M463.9 87.4h0M462.6 85.5h0M472.4 96.8h0M472.8 87.9h0M458.3 80.9h0M472.9 85.6h0M468.1 84.2h0M449.3 89.3h0M474.3 79.0h0M464.0 86.0h0M445.8 94.5h0M456.9 88.9h0M462.4 95.2h0M452.5 84.7h0M465.1 89.8h0M462.1 91.7h0M474.2 88.4h0M447.7 82.2h0M445.0 84.3h0M471.6 93.9h0M464.2 90.5h0M458.1 85.2h0M469.8 79.0h0M460.1 82.6h0M464.8 89.2h0M464.2 92.8h0M463.1 92.3h0M464.6 77.2h0M461.8 82.5h0M459.5 85.0h0M450.4 85.5h0M470.7 86.9h0M469.2 82.5h0M480.1 82.3h0M449.2 87.4h0M468.3 92.5h0M469.9 90.9h0M445.9 87.4h0M477.7 81.1h0M468.9 90.4h0M458.8 82.0h0M476.0 86.5h0M463.8 87.1h0M465.6 89.3h0M463.9 91.0h0M461.7 80.4h0M453.7 89.1h0M452.7 87.5h0M470.0 83.5h0M461.7 80.8h0M449.0 88.8h0M464.3 81.5h0M457.5 83.4h0M458.6 83.6h0M456.8 96.7h0M456.8 80.5h0M457.8 92.1h0M459.8 89.5h0M458.5 84.6h0M477.2 87.7h0M456.0 89.7h0M447.4 79.7h0M458.9 84.6h0M463.0 80.9h0M466.5 85.6h0M459.4 88.0h0M458.3 91.2h0M452.8 87.9h0M451.7 84.2h0M466.6 80.6h0M455.9 84.2h0M446.9 84.0h0M471.9 90.7h0M451.1 83.0h0M485.3 83.1h0M465.0 84.2h0M458.7 79.5h0M450.7 85.7h0M454.6 89.5h0M456.2 88.2h0M467.1 81.0h0M474.4 85.5h0M487.4 83.9h0M472.5 89.7h0M446.0 79.3h0M446.4 90.2h0M461.9 90.7h0M450.3 89.9h0M461.5 89.2h0M468.3 87.0h0M476.0 80.1h0M457.9 91.1h0M450.9 89.8h0M462.2 87.8h0M468.9 81.0h0M470.0 89.7h0M449.9 81.6h0M444.9 87.8h0M474.9 97.9h0M476.8 84.3h0M444.7 91.3h0M469.8 86.7h0M447.3 81.0h0M459.2 93.3h0M477.7 82.1h0M443.2 85.9h0M470.2 83.0h0M462.9 90.6h0M444.1 94.8h0M476.7 86.8h0M464.7 89.0h0M454.2 89.9h0M462.6 83.0h0M460.7 85.2h0M456.7 89.7h0M470.0 90.8h0M457.0 89.5h0M458.9 94.2h0M450.4 91.2h0M456.1 78.6h0M469.4 80.5h0M452.5 86.2h0M466.1 85.9h0M465.9 87.8h0M444.4 92.1h0M476.7 83.8h0M469.0 85.2h0M453.0 85.2h0M468.7 91.1h0M466.7 87.6h0M454.9 90.9h0M481.6 88.1h0M480.0 87.1h0M459.2 90.6h0M463.0 85.5h0M456.1 87.1h0M461.4 79.2h0M466.8 94.3h0M465.5 88.6h0M467.3 90.6h0M469.8 85.0h0M449.9 88.6h0M466.3 84.1h0M459.0 88.7h0M478.2 83.8h0M452.1 86.5h0M453.5 84.3h0M452.0 91.9h0M466.4 87.3h0M478.4 101.0h0M468.0 90.5h0M451.9 89.2h0M455.5 79.8h0M466.0 83.9h0M476.9 85.4h0M459.0 82.7h0M460.2 86.2h0M468.5 83.1h0M454.4 81.8h0M454.8 84.7h0M460.3 83.5h0M471.2 83.3h0M464.4 85.9h0M465.7 86.9h0M457.5 86.5h0M456.5 85.9h0M473.7 90.3h0M475.8 82.8h0M474.2 88.5h0M468.5 85.3h0M479.9 82.6h0M464.4 80.5h0M458.9 88.3h0M464.4 87.8h0M475.4 81.9h0M444.0 91.1h0M446.4 85.1h0M485.8 89.8h0M460.5 90.8h0M453.2 89.9h0M457.8 83.4h0M451.8 83.9h0M464.5 94.7h0M471.7 90.7h0M460.6 94.2h0M460.9 93.0h0M449.3 89.3h0M451.0 85.1h0M460.0 78.4h0M465.9 86.9h0M444.3 86.1h0M460.7 79.5h0M455.1 91.2h0M457.6 85.7h0M460.7 85.6h0M450.7 85.9h0M458.7 80.6h0M446.4 87.5h0M457.2 83.7h0M456.2 87.5h0M472.4 84.6h0M452.2 88.5h0M473.2 88.1h0M453.1 90.8h0M457.3 81.3h0M459.9 95.6h0M461.5 83.5h0M469.5 83.0h0M473.6 89.7h0M448.4 84.7h0M458.1 83.0h0M465.5 85.5h0M479.3 87.7h0M471.5 90.9h0M466.4 90.2h0M454.8 91.0h0M471.9 91.3h0M456.2 84.1h0M473.7 86.2h0M487.9 88.8h0M450.1 89.4h0M464.4 78.1h0M488.8 81.3h0M453.4 85.0h0M453.7 91.9h0M459.2 80.2h0M469.7 88.0h0M447.4 90.7h0M448.2 82.5h0M476.9 84.3h0M462.4 82.8h0M458.8 77.5h0M458.8 83.0h0M471.3 84.6h0M453.3 84.4h0M443.7 81.0h0M464.5 85.1h0M482.6 80.3h0M465.4 94.4h0M455.3 80.7h0M472.3 94.8h0M454.0 90.2h0M443.2 81.3h0M449.6 83.0h0M449.6 81.4h0M448.1 85.5h0M447.7 78.1h0M447.3 86.2h0M445.1 89.0h0M444.1 82.7h0M443.6 89.0h0M443.8 93.3h0M449.9 81.8h0M449.4 78.2h0M447.8 90.9h0M448.6 88.5h0M444.3 91.9h0M448.4 83.9h0M445.7 83.3h0M448.0 79.5h0M448.5 86.4h0M446.1 85.5h0M445.7 84.1h0M446.3 79.9h0M444.9 87.3h0M446.2 78.7h0M446.4 85.8h0M445.3 79.0h0M446.2 93.0h0M444.5 78.8h0M444.3 85.4h0M447.1 85.5h0M419.1 85.7h0M436.3 83.2h0M421.7 90.6h0M422.6 100.4h0M433.4 89.5h0M417.5 89.3h0M405.0 93.6h0M411.5 86.9h0M414.1 90.0h0M407.0 94.0h0M421.6 94.9h0M411.0 88.6h0M425.5 88.7h0M405.0 87.1h0M429.2 92.0h0M413.2 93.4h0M417.1 91.5h0M415.5 96.2h0M425.2 87.6h0M415.8 92.7h0M418.5 104.7h0M422.9 96.6h0M416.1 95.7h0M427.5 99.0h0M409.8 93.9h0M420.1 87.8h0M414.0 90.8h0M424.7 93.2h0M434.4 95.7h0M413.2 94.3h0M417.8 89.1h0M420.2 86.3h0M418.7 90.7h0M417.8 89.6h0M432.1 89.8h0M423.9 93.4h0M427.1 89.7h0M405.9 96.4h0M426.1 96.2h0M429.7 93.2h0M409.2 95.5h0M402.0 91.5h0M422.3 99.7h0M413.5 92.0h0M405.1 92.4h0M410.9 93.1h0M410.4 95.2h0M416.1 89.7h0M422.0 95.6h0M414.7 92.1h0M424.1 95.5h0M415.6 102.5h0M412.8 86.8h0M411.4 94.1h0M401.7 102.2h0M425.0 88.4h0M420.3 86.9h0M416.7 91.9h0M430.5 84.1h0M412.6 83.9h0M412.7 91.5h0M417.0 98.0h0M409.0 90.4h0M429.7 93.2h0M408.5 93.1h0M407.4 88.8h0M412.3 85.7h0M432.6 91.1h0M418.9 91.8h0M416.0 89.1h0M420.6 90.9h0M409.6 97.4h0M430.1 95.1h0M421.4 91.5h0M418.0 96.5h0M417.2 99.4h0M429.4 94.2h0M418.9 89.0h0M413.1 89.9h0M413.9 88.7h0M420.2 94.6h0M415.6 100.8h0M419.2 92.7h0M418.6 90.2h0M423.5 88.7h0M416.6 102.5h0M419.4 87.9h0M407.2 98.5h0M400.7 100.9h0M428.5 90.8h0M419.2 90.8h0M408.8 95.1h0M411.0 95.9h0M419.8 90.1h0M417.6 93.2h0M415.5 91.9h0M427.6 89.5h0M418.3 97.9h0M420.4 91.1h0M407.0 91.7h0M399.9 90.9h0M416.8 99.3h0M422.4 98.0h0M421.0 94.2h0M403.1 90.3h0M414.9 92.6h0M406.2 85.7h0M418.5 91.7h0M417.0 91.9h0M414.9 87.5h0M424.5 94.9h0M416.7 101.2h0M410.7 96.9h0M416.4 93.1h0M424.5 93.0h0M416.8 87.3h0M419.4 94.9h0M413.2 87.4h0M425.4 93.7h0M427.0 92.7h0M439.2 87.3h0M423.2 93.7h0M419.1 92.0h0M421.8 97.0h0M417.8 88.2h0M425.4 97.7h0M406.8 94.2h0M430.1 95.9h0M412.6 94.4h0M420.0 87.9h0M414.6 91.5h0M414.1 99.3h0M401.5 88.2h0M410.8 99.0h0M416.2 91.8h0M415.0 100.4h0M433.8 94.1h0M408.5 91.7h0M401.8 97.4h0M415.2 98.3h0M411.9 89.5h0M426.1 82.9h0M407.7 92.6h0M426.0 101.9h0M431.2 94.3h0M404.5 89.1h0M421.4 93.1h0M410.0 92.6h0M418.2 103.6h0M414.2 95.7h0M419.5 96.6h0M411.0 100.0h0M428.6 95.4h0M407.6 88.0h0M415.2 92.5h0M409.3 92.5h0M403.4 92.2h0M405.3 94.3h0M413.2 86.2h0M413.1 92.1h0M428.2 96.2h0M413.3 96.8h0M416.4 96.8h0M413.2 94.3h0M414.1 97.5h0M432.0 100.5h0M429.1 92.3h0M430.7 91.7h0M416.7 88.9h0M425.0 85.4h0M416.2 96.3h0M407.1 95.3h0M407.5 91.5h0M419.9 99.6h0M434.9 88.4h0M402.4 89.6h0M418.8 92.5h0M405.6 88.9h0M418.7 93.2h0M434.4 87.5h0M411.9 109.3h0M406.2 98.1h0M412.4 93.6h0M427.5 90.4h0M414.7 93.1h0M417.2 101.0h0M429.3 90.0h0M427.9 85.9h0M410.9 89.6h0M411.4 93.7h0M419.2 88.8h0M420.2 89.9h0M421.4 94.3h0M407.1 88.7h0M425.3 92.6h0M419.3 91.4h0M430.3 95.1h0M410.8 94.0h0M407.4 91.0h0M413.7 88.2h0M409.4 97.9h0M409.1 91.9h0M406.2 98.8h0M408.6 96.4h0M422.3 95.5h0M412.5 82.7h0M409.1 91.9h0M404.3 87.5h0M419.6 92.9h0M425.9 95.0h0M428.0 94.2h0M415.6 93.8h0M424.4 97.4h0M422.5 90.7h0M407.8 97.6h0M426.0 88.2h0M417.2 88.4h0M417.6 102.9h0M413.8 91.0h0M416.4 90.8h0M420.2 85.6h0M423.4 89.4h0M417.2 104.6h0M427.5 93.9h0M415.6 95.3h0M424.9 108.6h0M434.0 99.8h0M409.9 99.8h0M415.5 93.8h0M413.8 91.3h0M421.9 93.9h0M423.4 90.6h0M409.3 91.0h0M414.6 94.7h0M432.9 93.6h0M414.7 104.7h0M432.8 97.2h0M425.5 84.7h0M413.8 92.9h0M417.0 83.9h0M419.4 101.5h0M429.0 94.3h0M421.6 93.0h0M425.2 86.2h0M437.2 96.6h0M421.5 99.8h0M408.6 92.6h0M404.1 97.5h0M421.1 103.7h0M423.6 91.1h0M414.0 92.7h0M412.5 91.5h0M418.2 90.2h0M409.8 91.9h0M403.8 82.3h0M416.5 88.3h0M404.0 92.3h0M417.1 98.9h0M412.0 92.9h0M415.2 90.0h0M405.3 83.8h0M400.9 87.8h0M408.9 90.5h0M400.6 94.2h0M420.0 87.1h0M410.6 90.8h0M422.2 98.5h0M422.0 96.2h0M427.8 96.1h0M418.7 95.5h0M425.3 93.7h0M425.7 90.4h0M407.2 92.8h0M421.7 102.6h0M415.2 88.1h0M401.3 88.7h0M413.9 91.0h0M419.8 93.1h0M411.6 104.7h0M411.9 91.7h0M405.9 89.9h0M419.2 84.8h0M414.0 89.3h0M417.4 95.7h0M415.9 97.4h0M412.2 94.5h0M408.6 85.2h0M407.8 91.5h0M421.2 101.6h0M420.4 95.9h0M409.3 100.9h0M411.2 92.3h0M433.6 97.3h0M435.8 90.1h0M426.5 85.7h0M426.1 90.1h0M437.2 98.9h0M401.9 92.1h0M412.7 95.6h0M433.8 85.8h0M419.1 100.0h0M411.2 91.7h0M414.0 102.8h0M430.6 86.3h0M434.3 107.2h0M418.0 97.4h0M428.7 100.2h0M418.3 96.6h0M420.8 81.1h0M431.9 97.2h0M412.1 88.3h0M403.5 96.2h0M425.2 96.1h0M433.0 93.0h0M408.4 95.4h0M440.0 105.2h0M421.8 109.2h0M411.0 90.6h0M417.4 110.4h0M422.6 88.1h0M426.7 79.9h0M424.6 87.5h0M413.3 97.0h0M420.6 91.0h0M422.1 89.4h0M437.0 97.5h0M425.4 105.5h0M423.5 85.7h0M429.3 90.5h0M413.9 92.9h0M435.3 87.6h0M426.1 92.8h0M418.0 95.9h0M424.3 97.8h0M404.1 92.8h0M428.2 97.7h0M423.0 87.4h0M417.7 99.3h0M413.5 102.0h0M426.6 107.0h0M403.4 94.7h0M403.6 86.4h0M426.1 86.9h0M422.2 98.5h0M437.3 79.7h0M420.9 86.0h0M422.4 92.5h0M438.9 107.4h0M417.1 102.0h0M425.5 96.7h0M405.0 110.7h0M420.8 86.8h0M406.2 106.4h0M425.2 102.1h0M423.3 84.4h0M419.6 88.9h0M409.3 96.1h0M413.5 97.4h0M423.6 91.1h0M411.5 92.9h0M434.0 103.0h0M435.9 88.4h0M411.6 96.6h0M421.5 99.9h0M426.8 84.0h0M424.6 106.3h0M420.7 94.4h0M422.6 83.0h0M430.1 98.1h0M431.8 90.8h0M413.6 86.9h0M420.2 94.7h0M428.6 87.6h0M413.2 86.1h0M416.0 101.4h0M432.2 95.1h0M434.9 98.2h0M416.7 99.9h0M407.2 89.4h0M424.3 95.0h0M414.3 92.4h0M409.4 88.9h0M433.1 104.1h0M404.0 100.6h0M413.3 84.1h0M415.5 95.7h0M434.4 103.2h0M423.6 104.3h0M429.0 113.6h0M419.5 92.8h0M428.0 93.2h0M411.0 91.4h0M425.1 113.8h0M419.5 91.2h0M404.2 91.1h0M415.1 95.8h0M428.3 91.7h0M428.8 89.0h0M415.2 97.3h0M417.1 100.2h0M431.4 90.1h0M414.8 85.8h0M420.0 95.1h0M429.3 97.3h0M429.2 83.5h0M415.1 94.3h0M430.9 93.8h0M424.7 87.2h0M435.3 95.4h0M406.4 92.6h0M418.9 96.0h0M437.3 85.4h0M420.7 86.2h0M421.1 103.2h0M420.3 101.1h0M404.3 93.6h0M413.5 78.6h0M418.3 84.9h0M435.6 87.8h0M435.6 93.0h0M434.2 99.6h0M437.7 87.9h0M406.7 96.1h0M422.7 103.1h0M421.7 96.3h0M436.3 97.3h0M420.5 95.6h0M435.6 104.7h0M439.8 98.4h0M410.5 101.5h0M418.5 88.7h0M420.7 89.3h0M407.1 95.5h0M411.2 101.6h0M425.8 85.2h0M427.1 97.9h0M408.4 100.9h0M417.3 92.6h0M430.3 78.3h0M415.7 100.2h0M426.4 105.8h0M428.6 95.4h0M435.5 93.7h0M405.0 103.0h0M434.6 98.8h0M434.0 81.6h0M427.2 84.6h0M415.8 88.7h0M434.5 88.6h0M433.2 100.6h0M426.1 98.0h0M436.1 96.6h0M430.5 98.7h0M402.7 109.4h0M428.3 94.3h0M429.4 87.7h0M420.1 85.8h0M420.5 103.1h0M406.8 87.0h0M428.2 89.8h0M435.5 95.1h0M427.5 102.9h0M430.1 94.0h0M431.5 101.5h0M421.5 88.2h0M411.4 83.9h0M426.4 103.3h0M428.6 93.2h0M409.3 98.4h0M421.3 105.9h0M422.3 94.9h0M423.5 84.7h0M423.7 96.8h0M429.2 88.9h0M414.2 92.8h0M419.7 101.2h0M431.2 104.9h0M430.4 105.0h0M428.6 102.5h0M436.6 102.9h0M429.4 119.1h0M436.6 102.4h0M421.5 108.7h0M428.0 115.5h0M423.2 110.8h0M425.0 103.0h0M436.1 116.9h0M430.4 109.1h0M423.7 119.1h0M420.0 114.8h0M421.9 111.2h0M427.2 104.6h0M424.8 108.5h0M423.2 102.2h0M435.6 101.8h0M426.9 99.3h0M417.8 103.6h0M431.3 112.7h0M419.3 100.6h0M425.6 113.8h0M427.3 98.9h0M425.6 96.1h0M428.2 97.9h0M419.9 94.4h0M420.7 102.8h0M431.9 104.0h0M424.4 103.3h0M426.7 104.2h0M417.9 105.2h0M430.2 95.8h0M412.9 112.3h0M425.1 101.1h0M415.6 105.0h0M433.4 102.6h0M427.3 122.2h0M430.8 106.0h0M418.2 115.1h0M432.9 104.7h0M431.6 110.7h0M437.3 113.1h0M426.9 112.1h0M424.7 99.8h0M423.9 103.9h0M434.4 107.5h0M429.8 101.5h0M431.3 103.1h0M415.8 111.1h0M427.7 116.5h0M437.7 106.8h0M417.0 92.2h0M426.4 97.8h0M435.3 110.4h0M418.0 93.8h0M436.4 114.3h0M433.2 117.2h0M429.7 102.0h0M427.6 107.2h0M422.0 106.1h0M406.9 99.1h0M424.5 91.5h0M427.4 102.4h0M432.5 105.5h0M412.5 99.1h0M423.6 113.5h0M411.7 105.6h0M434.5 110.8h0M419.1 105.8h0M428.8 114.1h0M422.9 105.1h0M424.9 99.0h0M421.9 111.7h0M423.0 103.2h0M420.9 101.2h0M411.0 68.5h0M428.7 68.5h0M412.0 62.7h0M440.0 40.0h0M441.0 55.0h0M51.9 273.7h0M59.1 276.8h0M54.8 292.3h0M50.3 276.8h0M49.2 279.5h0M49.0 285.0h0M51.1 284.1h0M57.4 276.0h0M54.9 290.6h0M58.6 271.1h0M56.5 300.0h0M49.3 277.6h0M59.1 278.4h0M58.1 271.6h0M60.6 282.9h0M49.5 293.9h0M53.9 274.8h0M48.2 279.9h0M60.0 300.1h0M53.6 294.6h0M67.5 281.2h0M52.2 275.2h0M59.4 278.8h0M62.2 286.8h0M59.5 289.9h0M55.6 289.6h0M48.4 283.0h0M56.6 283.0h0M63.0 288.3h0M48.2 284.6h0M53.7 298.2h0M54.0 294.9h0M64.9 275.8h0M60.4 284.7h0M62.1 299.0h0M58.5 274.0h0M53.8 284.8h0M58.2 277.0h0M61.5 295.5h0M57.5 269.9h0M66.0 279.3h0M60.5 273.1h0M55.2 290.2h0M56.5 271.6h0M54.7 282.4h0M66.8 291.2h0M47.8 284.0h0M66.2 281.6h0M58.8 277.7h0M50.7 293.2h0M59.5 295.4h0M60.3 279.3h0M64.2 285.7h0M58.1 278.8h0M62.7 291.6h0M55.3 275.2h0M59.4 287.2h0M58.1 294.4h0M55.7 284.0h0M53.2 283.9h0M63.8 286.7h0M53.2 299.0h0M50.7 288.3h0M60.5 270.5h0M63.6 271.8h0M50.0 276.4h0M60.8 299.5h0M60.0 269.9h0M56.1 291.9h0M48.2 288.7h0M57.1 289.1h0M54.9 287.8h0M49.0 281.2h0M51.8 277.2h0M66.5 284.1h0M54.1 296.4h0M53.1 276.0h0M49.7 276.8h0M48.0 282.6h0M67.9 285.8h0M54.2 292.7h0M52.1 275.7h0M56.6 279.0h0M47.7 284.9h0M50.4 279.7h0M62.1 292.2h0M58.1 294.1h0M57.2 279.7h0M62.5 298.7h0M48.9 283.2h0M60.8 291.6h0M47.5 289.1h0M61.9 281.6h0M53.7 292.8h0M57.7 276.1h0M58.9 271.4h0M54.9 293.6h0M52.0 276.3h0M58.2 281.6h0M61.7 290.1h0M55.3 278.1h0M60.7 277.5h0M50.2 295.6h0M60.2 273.3h0M59.4 295.6h0M53.3 299.5h0M57.8 284.1h0M51.3 271.3h0M57.8 298.6h0M57.9 285.5h0M58.3 296.8h0M61.9 285.4h0M64.6 289.0h0M57.6 287.8h0M62.8 273.8h0M57.6 293.1h0M65.5 289.0h0M64.0 288.1h0M64.2 290.8h0M67.6 281.1h0M66.7 284.1h0M59.6 293.7h0M56.8 282.3h0M55.3 278.1h0M61.7 272.5h0M59.2 274.3h0M51.1 287.5h0M57.5 272.3h0M50.1 292.7h0M60.6 290.7h0M53.8 287.5h0M53.9 281.6h0M53.4 273.3h0M57.3 274.9h0M57.8 288.2h0M64.7 290.5h0M55.6 287.7h0M55.2 294.6h0M66.1 286.7h0M51.9 283.7h0M57.4 290.4h0M50.2 295.3h0M55.3 283.5h0M52.3 295.8h0M57.9 277.7h0M47.8 283.0h0M65.1 276.8h0M56.5 299.3h0M63.1 294.9h0M65.9 293.4h0M64.5 274.8h0M59.8 290.9h0M51.5 297.2h0M53.9 288.3h0M66.1 287.5h0M53.9 270.2h0M60.2 298.6h0M53.7 289.3h0M52.8 291.6h0M58.1 293.8h0M51.3 284.2h0M50.2 287.0h0M54.4 282.7h0M61.9 292.2h0M53.2 289.5h0M58.0 299.9h0M49.7 278.8h0M57.6 291.4h0M51.5 282.9h0M63.2 274.2h0M57.4 283.4h0M57.7 271.2h0M51.9 275.4h0M58.9 285.2h0M66.0 276.1h0M60.6 291.1h0M59.5 293.5h0M52.7 274.0h0M57.3 287.0h0M52.0 297.1h0M52.2 297.3h0M62.3 287.6h0M59.9 270.3h0M61.6 269.9h0M58.0 268.5h0M52.4 282.3h0M52.3 279.6h0M56.7 281.0h0M59.1 287.8h0M56.6 292.1h0M67.9 285.8h0M58.3 289.5h0M64.7 295.7h0M56.5 270.1h0M55.9 272.7h0M49.9 287.7h0M59.4 295.6h0M56.2 269.1h0M63.3 283.5h0M54.4 297.7h0M52.6 288.2h0M62.5 288.7h0M60.3 293.6h0M66.4 286.2h0M58.0 284.5h0M56.5 289.6h0M66.9 284.4h0M64.4 295.1h0M50.7 296.6h0M55.0 284.0h0M57.1 281.6h0M65.3 275.4h0M57.8 283.2h0M53.0 270.5h0M62.9 292.9h0M48.4 284.3h0M57.8 290.5h0M61.7 272.6h0M67.9 285.4h0M62.7 291.0h0M56.3 283.6h0M61.1 270.5h0M60.1 292.4h0M51.0 296.2h0M61.4 278.9h0M58.4 292.5h0M64.6 295.5h0M53.1 285.8h0M50.7 272.5h0M59.9 269.2h0M52.8 298.6h0M52.3 282.7h0M54.1 293.5h0M47.5 282.1h0M56.4 299.0h0M63.0 273.7h0M55.9 284.6h0M50.1 288.4h0M62.4 270.6h0M59.5 292.9h0M65.5 295.1h0M61.9 271.5h0M61.0 289.1h0M54.7 274.1h0M54.7 271.1h0M60.7 285.3h0M53.8 273.4h0M66.3 282.9h0M65.4 295.1h0M57.8 276.1h0M59.3 300.5h0M50.9 284.7h0M56.5 277.5h0M52.4 286.2h0M62.1 288.6h0M64.0 273.8h0M60.0 299.3h0M51.0 278.5h0M57.7 273.8h0M65.0 275.7h0M62.0 271.9h0M56.7 281.4h0M58.8 277.3h0M58.1 286.7h0M49.4 281.5h0M64.8 281.2h0M60.2 270.4h0M54.6 299.1h0M56.9 276.8h0M63.2 282.6h0M55.8 275.8h0M52.6 272.2h0M57.8 281.8h0M57.4 280.5h0M59.6 277.9h0M50.7 285.3h0M59.0 282.7h0M55.1 273.5h0M49.9 294.1h0M64.3 291.6h0M57.1 288.3h0M54.6 280.0h0M61.2 296.6h0M53.3 273.4h0M57.3 290.4h0M48.1 277.5h0M61.1 289.6h0M50.1 290.1h0M59.8 277.6h0M47.6 286.1h0M58.0 284.0h0M53.4 286.5h0M59.0 289.3h0M49.7 284.0h0M64.1 272.4h0M62.9 285.9h0M58.2 295.0h0M53.5 286.2h0M54.8 283.6h0M49.3 285.6h0M61.7 272.1h0M61.6 288.7h0M60.2 281.7h0M50.0 294.2h0M63.3 290.9h0M61.5 272.5h0M65.7 290.7h0M66.0 280.8h0M60.3 269.3h0M53.7 284.5h0M50.5 294.7h0M48.3 284.7h0M59.9 287.3h0M53.0 286.2h0M50.7 291.6h0M61.7 281.0h0M52.7 278.7h0M57.6 282.7h0M50.6 282.8h0M56.4 280.6h0M59.3 289.9h0M57.2 275.1h0M65.1 273.6h0M63.6 278.3h0M61.5 272.7h0M65.4 282.6h0M58.6 285.6h0M48.2 284.0h0M58.2 271.1h0M60.1 283.8h0M64.1 275.6h0M58.7 279.8h0M52.0 272.5h0M56.2 272.6h0M51.5 293.9h0M62.9 297.8h0M63.7 282.2h0M61.3 299.7h0M64.6 279.7h0M64.9 293.6h0M60.3 296.2h0M51.7 289.6h0M63.2 285.0h0M64.0 290.7h0M52.2 289.8h0M62.5 289.1h0M56.5 292.4h0M62.8 298.4h0M64.2 284.1h0M53.6 285.5h0M65.5 277.7h0M51.1 297.4h0M59.8 290.2h0M58.5 296.9h0M52.6 293.8h0M61.7 281.5h0M65.5 291.2h0M64.8 286.0h0M53.9 282.0h0M55.2 276.1h0M53.8 281.7h0M50.3 272.6h0M57.7 282.2h0M63.7 284.4h0M53.5 287.6h0M61.9 288.7h0M55.2 274.1h0M54.6 271.9h0M63.7 275.8h0M55.9 300.6h0M53.5 296.0h0M58.5 289.7h0M52.1 290.3h0M55.0 288.5h0M63.7 276.8h0M52.1 272.9h0M64.6 273.1h0M60.5 293.2h0M57.9 276.9h0M52.7 275.8h0M58.4 269.4h0M65.3 293.4h0M55.3 298.5h0M65.7 286.5h0M47.8 286.6h0M53.6 294.2h0M59.0 294.0h0M51.8 276.3h0M51.9 279.8h0M58.2 283.2h0M67.3 289.3h0M60.2 277.4h0M59.7 300.5h0M52.7 279.2h0M55.1 280.1h0M66.6 282.9h0M54.6 270.5h0M66.6 284.8h0M53.9 286.3h0M57.2 284.8h0M62.4 273.5h0M55.8 290.9h0M47.2 282.9h0M56.5 298.1h0M59.7 297.0h0M61.9 270.7h0M57.8 269.7h0M50.8 293.1h0M61.6 292.6h0M67.2 289.9h0M62.4 288.2h0M55.8 279.4h0M53.4 273.7h0M58.9 276.2h0M63.4 279.3h0M58.3 287.1h0M62.4 284.8h0M55.6 274.1h0M51.9 292.9h0M60.8 288.6h0M65.0 280.0h0M54.9 299.9h0M54.5 276.4h0M56.9 289.4h0M49.2 277.6h0M58.1 293.7h0M61.2 288.5h0M49.4 289.7h0M64.7 280.9h0M49.5 274.7h0M53.0 273.7h0M62.2 281.4h0M52.9 297.7h0M50.1 288.7h0M59.5 270.7h0M59.9 270.5h0M58.6 287.3h0M63.1 280.9h0M60.5 290.0h0M57.5 298.6h0M58.3 275.9h0M57.0 291.7h0M56.9 282.3h0M53.6 277.2h0M54.7 279.5h0M61.6 287.4h0M52.5 296.1h0M60.7 289.9h0M63.6 287.5h0M62.5 293.8h0M48.5 290.4h0M64.7 276.5h0M55.0 296.5h0M57.5 284.1h0M59.2 274.7h0M55.0 296.2h0M52.0 296.4h0M66.1 276.8h0M49.6 283.6h0M52.7 287.2h0M61.9 273.6h0M66.7 283.3h0M50.1 289.6h0M57.6 277.5h0M53.0 288.1h0M63.0 272.8h0M51.0 280.9h0M56.0 283.8h0M48.6 293.3h0M60.0 275.6h0M52.4 298.5h0M62.3 277.1h0M49.3 293.3h0M49.6 273.9h0M61.6 286.8h0M61.7 271.1h0M61.7 279.9h0M53.7 271.1h0M52.0 288.3h0M52.5 291.2h0M61.2 295.4h0M58.6 293.5h0M58.6 273.2h0M51.9 280.2h0M58.9 295.1h0M64.5 281.0h0M64.3 278.1h0M59.3 290.6h0M61.7 291.9h0M61.8 276.3h0M64.9 292.5h0M64.6 277.2h0M55.3 279.2h0M64.7 285.3h0M60.3 296.6h0M54.7 285.2h0M57.3 278.3h0M57.7 287.4h0M48.7 287.0h0M54.4 274.6h0M50.5 267.1h0M51.8 266.5h0M60.2 293.2h0M57.3 287.8h0M55.0 279.2h0M61.2 273.7h0M44.1 291.1h0M51.2 302.7h0M54.5 269.7h0M60.3 273.0h0M49.6 295.2h0M62.3 298.2h0M69.3 298.2h0M62.4 281.0h0M51.5 297.0h0M64.7 280.6h0M49.1 287.9h0M67.7 296.3h0M50.2 271.1h0M58.8 279.5h0M54.1 298.8h0M60.9 295.4h0M51.1 283.3h0M65.0 290.3h0M66.0 294.5h0M59.5 279.9h0M51.6 273.0h0M52.2 279.1h0M57.4 279.3h0M58.7 293.4h0M53.7 286.0h0M65.6 274.4h0M54.4 293.2h0M59.5 290.5h0M54.4 283.0h0M61.9 278.7h0M68.3 287.8h0M56.8 266.2h0M68.2 298.2h0M61.8 296.3h0M67.9 282.9h0M49.3 293.3h0M47.0 282.1h0M43.0 273.7h0M57.2 274.1h0M57.2 268.9h0M56.6 299.3h0M53.1 281.4h0M48.9 279.2h0M44.1 281.9h0M64.0 301.3h0M57.6 283.0h0M44.1 293.0h0M69.0 290.9h0M66.6 282.6h0M48.3 283.6h0M52.3 289.5h0M56.1 273.9h0M55.2 282.0h0M55.2 300.4h0M45.5 279.2h0M61.3 301.8h0M47.5 286.5h0M55.8 281.8h0M45.8 282.7h0M61.2 292.8h0M52.4 282.6h0M58.0 276.5h0M48.2 286.3h0M63.5 299.3h0M61.1 284.0h0M58.6 269.6h0M53.1 267.1h0M55.3 274.6h0M58.4 276.8h0M61.4 269.9h0M66.1 299.8h0M55.8 273.1h0M59.3 273.1h0M58.6 282.3h0M66.4 291.2h0M48.6 284.2h0M52.7 297.6h0M64.8 283.2h0M58.3 274.0h0M48.7 286.5h0M60.2 276.1h0M68.6 288.8h0M68.9 267.9h0M54.3 288.8h0M61.7 287.4h0M51.3 281.0h0M47.2 290.5h0M50.5 285.8h0M63.9 300.4h0M65.4 285.9h0M41.5 282.6h0M49.6 294.1h0M44.4 282.5h0M40.1 280.5h0M53.6 282.3h0M59.9 282.3h0M63.4 286.8h0M51.5 272.5h0M65.3 291.3h0M53.8 269.3h0M51.7 279.1h0M60.2 286.1h0M62.3 292.5h0M51.7 274.2h0M54.0 275.8h0M60.7 296.2h0M60.1 275.4h0M65.6 302.5h0M64.9 293.3h0M51.1 290.5h0M60.8 279.7h0M57.6 280.0h0M55.6 288.0h0M55.2 294.9h0M44.4 295.7h0M67.5 279.4h0M43.0 281.3h0M58.8 285.4h0M63.5 275.9h0M63.6 272.3h0M50.4 281.2h0M51.9 282.7h0M52.2 288.7h0M60.2 276.2h0M50.3 281.0h0M51.3 270.1h0M50.1 285.9h0M67.1 288.7h0M51.1 272.3h0M62.3 291.9h0M55.4 284.7h0M65.4 286.2h0M65.2 293.5h0M59.1 301.7h0M54.1 292.6h0M50.0 296.7h0M45.3 272.2h0M59.4 303.0h0M62.1 270.2h0M57.3 288.2h0M53.3 293.7h0M62.1 282.7h0M53.8 274.3h0M57.4 288.9h0M58.3 286.3h0M56.1 283.0h0M56.6 277.1h0M53.0 302.4h0M64.7 297.6h0M56.0 289.9h0M58.5 280.6h0M50.4 294.1h0M61.0 271.9h0M50.9 284.3h0M53.7 268.6h0M60.0 274.0h0M57.6 274.0h0M62.4 295.3h0M60.8 285.8h0M63.5 283.8h0M49.8 302.1h0M68.4 275.9h0M54.9 294.7h0M52.2 269.8h0M63.6 278.4h0M56.6 280.6h0M60.7 277.4h0M56.8 282.3h0M50.4 290.4h0M48.6 285.1h0M55.3 286.4h0M60.6 301.6h0M55.1 272.0h0M56.7 277.2h0M49.2 285.7h0M53.0 293.8h0M63.5 293.1h0M51.7 274.0h0M52.2 275.5h0M52.7 290.8h0M59.3 282.4h0M61.3 291.6h0M61.0 297.4h0M67.3 280.7h0M48.9 280.4h0M50.8 291.9h0M55.5 275.3h0M58.2 290.3h0M65.9 286.2h0M55.1 278.2h0M50.0 278.8h0M59.4 288.1h0M54.5 296.9h0M49.2 289.0h0M53.2 294.9h0M60.1 290.3h0M61.2 294.5h0M50.2 275.3h0M53.2 297.2h0M42.4 293.7h0M54.7 288.3h0M51.5 287.5h0M62.3 269.5h0M64.6 280.6h0M57.9 269.6h0M59.5 286.2h0M55.2 286.5h0M60.3 302.1h0M49.4 296.0h0M55.3 276.1h0M60.8 287.3h0M56.6 291.4h0M46.3 284.6h0M51.5 283.3h0M58.2 282.8h0M59.4 274.0h0M57.0 283.2h0M48.9 285.7h0M47.2 302.6h0M62.2 289.9h0M66.5 266.7h0M58.8 281.6h0M64.8 272.6h0M60.5 294.7h0M58.0 285.8h0M48.2 277.4h0M59.0 281.2h0M61.5 274.2h0M56.7 275.8h0M45.8 285.5h0M56.0 286.4h0M53.5 298.3h0M48.3 282.7h0M67.1 293.0h0M50.5 279.8h0M57.4 278.7h0M60.6 271.2h0M60.1 301.4h0M56.9 280.4h0M63.3 270.7h0M54.9 282.8h0M57.5 287.6h0M64.5 285.8h0M67.7 286.7h0M58.0 273.7h0M54.5 279.4h0M66.1 281.2h0M56.7 288.4h0M56.5 291.6h0M52.9 276.7h0M55.1 293.9h0M57.5 278.6h0M59.6 281.8h0M67.7 287.3h0M53.6 281.5h0M68.2 277.8h0M59.2 300.7h0M62.1 293.7h0M49.7 286.0h0M66.9 291.3h0M44.4 296.1h0M62.8 285.8h0M62.0 274.5h0M67.6 297.8h0M62.5 293.7h0M48.5 282.5h0M57.0 291.3h0M48.1 285.3h0M65.5 275.1h0M68.5 289.5h0M53.4 275.4h0M68.1 279.2h0M51.8 283.0h0M64.6 296.5h0M67.2 285.0h0M54.8 284.9h0M45.5 299.8h0M47.3 275.2h0M46.3 297.1h0M52.5 286.0h0M51.4 272.3h0M52.2 286.9h0M53.6 279.6h0M57.5 278.4h0M56.5 272.7h0M46.3 270.8h0M49.3 291.4h0M46.1 271.1h0M64.7 274.7h0M54.2 281.5h0M53.7 288.8h0M57.7 295.1h0M55.0 286.9h0M50.9 295.5h0M47.9 270.0h0M51.8 277.4h0M45.3 266.4h0M49.9 285.3h0M67.9 276.8h0M50.3 284.8h0M62.6 297.3h0M62.0 277.2h0M58.9 300.4h0M53.6 285.3h0M55.9 292.2h0M65.0 283.5h0M61.4 287.9h0M58.2 270.4h0M58.4 292.7h0M53.0 268.0h0M63.9 300.3h0M55.3 294.4h0M47.4 296.8h0M54.9 295.8h0M48.8 287.0h0M45.7 289.4h0M52.9 291.7h0M59.7 291.8h0M54.4 277.6h0M55.2 288.1h0M51.3 289.4h0M57.0 284.2h0M66.4 293.4h0M44.3 272.7h0M58.5 275.0h0M50.9 287.1h0M65.6 278.9h0M61.5 289.2h0M52.1 293.3h0M43.6 282.1h0M53.1 300.8h0M53.7 271.1h0M60.0 270.9h0M59.9 285.8h0M58.6 285.2h0M60.0 293.0h0M49.1 289.2h0M46.6 280.9h0M48.7 296.5h0M59.6 279.5h0M54.9 273.7h0M61.5 275.3h0M60.9 296.7h0M42.9 301.8h0M63.1 297.3h0M50.6 267.5h0M54.5 280.7h0M57.7 271.9h0M59.9 286.3h0M43.4 291.5h0M52.6 267.3h0M49.9 281.0h0M66.6 299.7h0M50.2 292.9h0M57.1 291.6h0M56.9 278.2h0M47.5 289.0h0M50.9 276.1h0M68.5 278.3h0M61.8 286.4h0M55.2 287.1h0M48.5 275.0h0M45.5 272.5h0M48.2 277.5h0M57.3 266.8h0M58.9 283.2h0M53.1 280.3h0M62.2 267.2h0M57.2 281.0h0M59.6 288.9h0M62.7 270.4h0M47.1 275.0h0M42.1 290.6h0M54.6 274.6h0M57.3 297.5h0M51.4 284.9h0M66.4 300.5h0M62.8 281.0h0M59.9 284.1h0M51.2 272.9h0M58.3 267.7h0M49.3 273.9h0M62.9 274.7h0M53.4 274.6h0M57.5 292.1h0M58.5 272.9h0M68.2 284.0h0M50.7 290.7h0M60.8 289.1h0M54.5 266.6h0M64.3 287.7h0M52.1 285.3h0M67.8 284.9h0M43.6 278.3h0M64.3 294.2h0M52.7 286.2h0M52.4 288.6h0M58.1 291.3h0M57.5 282.6h0M57.1 288.7h0M54.3 293.3h0M51.2 288.5h0M59.9 289.8h0M60.4 279.6h0M65.8 271.7h0M64.2 276.1h0M55.4 293.4h0M54.5 284.2h0M58.2 274.9h0M52.1 280.9h0M61.6 281.1h0M47.5 281.6h0M68.4 284.6h0M59.8 283.7h0M56.1 275.4h0M56.8 284.9h0M50.0 293.0h0M58.0 298.7h0M57.4 292.5h0M47.9 288.9h0M55.7 280.8h0M49.0 294.6h0M58.4 293.9h0M64.6 274.9h0M44.0 284.2h0M54.8 272.0h0M55.3 279.5h0M51.0 283.9h0M52.9 283.9h0M65.3 291.3h0M59.6 297.0h0M57.5 285.3h0M57.0 267.4h0M57.1 271.3h0M67.9 286.9h0M51.5 293.3h0M57.3 275.1h0M64.5 290.9h0M61.4 296.7h0M47.0 273.7h0M54.7 285.0h0M50.2 278.4h0M61.6 269.9h0M64.3 288.0h0M59.2 278.0h0M50.0 274.3h0M74.7 284.6h0M73.4 279.8h0M83.4 299.7h0M71.2 297.4h0M88.3 274.4h0M75.6 295.0h0M96.2 291.6h0M83.8 289.6h0M77.2 280.1h0M75.4 283.2h0M78.8 286.0h0M78.6 294.2h0M73.5 292.1h0M83.4 294.4h0M81.4 299.0h0M79.1 299.0h0M75.3 290.0h0M84.1 283.3h0M84.0 284.2h0M84.5 287.7h0M72.6 285.0h0M86.7 277.1h0M85.3 289.4h0M88.7 285.3h0M75.6 280.4h0M78.0 293.2h0M90.0 288.7h0M78.2 293.8h0M73.4 294.8h0M79.4 286.1h0M74.7 292.6h0M85.9 295.5h0M79.0 302.6h0M84.9 291.0h0M77.3 286.8h0M78.0 289.9h0M83.2 278.5h0M88.3 272.0h0M79.4 289.8h0M94.0 293.3h0M74.3 284.8h0M82.8 290.6h0M83.9 281.0h0M81.5 284.0h0M80.1 284.9h0M77.0 277.7h0M83.2 290.3h0M93.3 302.6h0M80.0 284.9h0M84.3 289.6h0M78.6 281.3h0M102.1 285.0h0M85.5 285.2h0M75.0 279.4h0M98.2 274.9h0M89.8 286.3h0M91.3 287.0h0M88.4 283.3h0M79.7 294.0h0M74.7 271.8h0M86.0 287.0h0M78.3 288.5h0M82.0 277.4h0M80.0 291.7h0M80.6 276.2h0M90.9 286.2h0M84.4 299.1h0M82.2 284.5h0M95.6 286.0h0M77.7 283.9h0M86.4 295.5h0M77.7 279.8h0M84.3 289.4h0M80.4 281.6h0M71.7 291.4h0M80.9 272.7h0M88.4 285.5h0M73.9 291.4h0M90.1 290.4h0M100.0 281.9h0M75.2 288.2h0M84.3 293.6h0M81.3 277.1h0M75.8 295.2h0M82.0 284.6h0M88.9 278.7h0M86.6 272.9h0M82.3 281.0h0M87.9 291.9h0M82.1 285.7h0M94.1 298.9h0M81.5 278.2h0M73.7 282.8h0M73.5 294.7h0M79.1 271.8h0M74.5 298.6h0M87.6 288.2h0M76.0 278.9h0M92.0 292.5h0M85.5 274.7h0M86.6 298.7h0M77.6 270.5h0M73.9 283.8h0M71.8 287.6h0M80.0 289.3h0M78.7 285.8h0M86.4 298.5h0M95.0 287.1h0M75.9 269.6h0M78.5 275.4h0M83.6 289.1h0M90.1 273.3h0M75.6 273.1h0M82.5 277.9h0M77.6 288.7h0M86.9 293.8h0M73.0 295.7h0M80.7 288.5h0M89.9 287.3h0M96.4 282.8h0M75.4 273.6h0M93.9 287.3h0M77.9 281.9h0M92.4 287.5h0M89.5 289.0h0M91.7 287.0h0M99.0 289.6h0M82.2 282.4h0M99.4 286.2h0M87.7 272.6h0M81.1 270.1h0M81.4 288.3h0M72.8 286.9h0M89.3 279.6h0M82.3 286.9h0M90.0 302.1h0M92.2 285.3h0M89.4 281.3h0M88.5 276.7h0M76.3 289.4h0M86.5 286.9h0M91.8 289.9h0M81.9 284.8h0M80.2 286.0h0M77.1 280.7h0M78.7 282.3h0M90.9 279.1h0M81.7 269.8h0M79.9 286.0h0M73.6 280.1h0M82.2 274.7h0M77.4 284.2h0M83.3 288.4h0M75.6 295.7h0M89.0 288.3h0M79.5 282.9h0M97.8 299.4h0M82.5 280.7h0M89.6 284.2h0M86.4 300.5h0M78.0 288.7h0M82.1 295.8h0M80.5 284.6h0M86.8 289.1h0M82.5 272.6h0M90.0 291.4h0M83.4 280.4h0M72.9 284.4h0M78.0 281.9h0M78.7 275.4h0M86.7 283.9h0M82.8 289.2h0M78.3 277.9h0M71.8 281.8h0M87.3 294.6h0M90.3 292.9h0M84.7 281.3h0M78.7 282.7h0M80.9 276.8h0M84.5 291.7h0M74.0 225.0h0M74.0 242.5h0M72.7 260.0h0M50.0 262.0h0M55.0 260.0h0M186.5 291.1h0M177.4 286.8h0M179.4 285.5h0M182.3 271.7h0M191.6 273.3h0M185.8 292.9h0M179.6 289.8h0M176.1 286.2h0M184.2 282.0h0M179.6 288.0h0M186.1 268.5h0M179.3 266.0h0M181.9 266.2h0M191.1 285.1h0M180.1 269.9h0M179.7 283.6h0M178.6 290.5h0M176.5 289.8h0M172.4 283.8h0M191.1 273.2h0M178.7 284.1h0M178.6 286.1h0M182.9 272.6h0M178.7 293.5h0M186.9 294.5h0M191.2 274.7h0M174.7 283.3h0M188.6 270.6h0M179.2 267.6h0M189.1 274.6h0M180.8 287.7h0M172.1 278.9h0M178.4 293.3h0M172.6 286.3h0M183.1 272.6h0M178.5 296.1h0M183.6 287.3h0M180.0 272.0h0M171.9 286.1h0M181.0 279.7h0M181.2 292.0h0M175.1 292.1h0M182.0 276.7h0M179.6 290.1h0M183.0 277.9h0M176.4 279.8h0M183.9 277.6h0M179.8 281.5h0M181.6 287.6h0M177.3 276.5h0M176.7 267.3h0M188.2 276.7h0M176.5 269.3h0M184.9 294.2h0M181.1 268.5h0M187.2 276.2h0M187.8 290.7h0M188.8 290.8h0M176.7 292.4h0M178.2 282.7h0M182.2 272.8h0M182.3 272.2h0M179.5 288.3h0M177.9 280.9h0M183.4 267.5h0M185.5 280.5h0M186.9 267.8h0M176.7 270.3h0M177.7 293.0h0M188.6 272.8h0M177.9 273.2h0M185.8 295.7h0M178.2 290.2h0M178.5 275.6h0M178.2 270.7h0M189.8 290.7h0M190.8 275.3h0M182.7 266.4h0M176.6 288.6h0M189.7 273.7h0M189.1 287.9h0M189.8 271.2h0M182.9 295.6h0M190.9 274.8h0M176.1 278.0h0M187.1 294.0h0M177.6 284.5h0M181.3 293.8h0M176.3 285.1h0M185.3 290.8h0M188.2 290.4h0M173.7 282.7h0M176.0 279.9h0M177.6 284.3h0M186.2 289.4h0M183.6 269.0h0M177.5 293.4h0M184.5 295.7h0M180.5 285.0h0M191.0 288.0h0M182.6 296.4h0M175.3 275.2h0M188.0 281.5h0M186.5 292.7h0M180.6 291.3h0M177.0 268.6h0M180.9 288.9h0M189.0 290.5h0M190.9 279.0h0M188.2 288.2h0M173.5 277.1h0M174.4 291.6h0M182.2 275.6h0M185.1 278.5h0M174.7 274.2h0M190.1 275.0h0M190.8 273.3h0M179.4 294.5h0M176.0 291.8h0M186.7 266.6h0M185.6 280.2h0M186.5 278.6h0M179.0 265.8h0M179.5 284.7h0M183.5 266.6h0M179.0 283.8h0M187.8 290.1h0M183.6 294.4h0M183.6 276.7h0M187.1 278.2h0M190.3 278.6h0M181.5 287.3h0M181.7 275.8h0M188.1 293.7h0M171.8 286.8h0M190.2 274.0h0M181.4 284.5h0M192.5 285.0h0M181.1 287.3h0M176.9 275.9h0M176.8 289.6h0M186.7 293.1h0M175.4 269.4h0M177.9 269.0h0M183.0 282.9h0M178.3 295.6h0M184.7 287.5h0M186.9 278.2h0M172.4 279.6h0M183.1 283.2h0M181.9 282.9h0M173.4 281.3h0M177.4 281.9h0M180.6 287.9h0M183.8 271.3h0M174.5 283.8h0M183.4 284.8h0M188.6 291.7h0M181.4 272.1h0M177.8 295.1h0M182.0 279.2h0M182.2 278.0h0M184.5 276.7h0M176.5 271.1h0M178.3 290.0h0M181.4 268.2h0M186.1 290.5h0M173.9 280.5h0M189.1 272.8h0M179.1 294.5h0M174.0 275.7h0M182.5 287.8h0M188.9 273.1h0M173.0 281.1h0M173.4 273.4h0M182.5 270.0h0M188.1 294.0h0M175.0 289.2h0M188.7 275.4h0M176.8 284.8h0M177.4 287.8h0M178.5 269.3h0M184.8 280.9h0M187.8 279.9h0M184.0 270.0h0M188.9 288.0h0M177.9 275.7h0M189.5 272.6h0M177.2 285.1h0M183.7 290.9h0M173.5 287.4h0M189.5 274.1h0M175.2 270.6h0M175.1 288.6h0M181.9 289.1h0M171.2 283.7h0M173.0 281.1h0M189.8 291.1h0M181.3 285.1h0M178.5 275.1h0M188.0 273.0h0M188.4 271.1h0M180.5 273.8h0M175.2 283.4h0M188.4 293.9h0M190.6 288.3h0M172.4 275.1h0M185.3 289.3h0M174.8 291.4h0M181.8 277.9h0M175.8 280.8h0M182.0 282.6h0M183.0 280.4h0M188.7 284.8h0M175.5 281.3h0M182.8 275.5h0M172.4 282.0h0M181.0 271.7h0M189.6 273.1h0M185.3 272.0h0M190.4 274.0h0M178.4 286.1h0M189.9 276.6h0M182.5 295.2h0M184.9 281.9h0M189.8 279.8h0M189.3 277.1h0M190.5 276.3h0M177.4 270.8h0M188.5 268.7h0M183.6 270.9h0M182.5 287.4h0M171.9 276.2h0M176.6 291.1h0M186.7 273.5h0M185.1 267.3h0M172.2 287.0h0M181.8 276.3h0M176.5 283.6h0M191.3 273.2h0M173.3 285.0h0M187.4 271.1h0M191.2 274.5h0M178.6 288.1h0M187.3 269.1h0M182.2 269.6h0M187.7 270.4h0M191.8 288.0h0M178.1 290.8h0M172.6 276.6h0M186.6 274.9h0M179.9 290.6h0M185.9 289.6h0M178.8 280.5h0M185.3 272.5h0M176.5 290.8h0M175.9 276.1h0M184.5 274.1h0M189.8 280.3h0M183.8 296.4h0M184.3 270.5h0M180.6 284.8h0M187.3 275.6h0M184.3 266.9h0M177.8 272.0h0M180.8 294.3h0M172.3 274.2h0M174.0 274.1h0M189.4 288.8h0M184.1 290.5h0M172.1 285.5h0M180.6 296.0h0M172.9 288.9h0M181.6 285.7h0M174.3 285.7h0M178.1 290.1h0M192.3 278.2h0M183.5 270.8h0M187.9 283.4h0M174.4 277.6h0M172.7 274.2h0M177.2 279.8h0M178.5 288.3h0M177.4 289.8h0M184.2 274.0h0M176.9 268.7h0M176.4 286.9h0M191.2 284.3h0M191.4 272.7h0M184.6 284.3h0M177.0 272.9h0M186.3 294.6h0M184.6 286.2h0M173.2 281.1h0M173.8 286.8h0M182.8 282.1h0M176.9 281.2h0M186.6 293.0h0M191.5 286.9h0M185.3 273.5h0M179.6 282.2h0M189.5 276.4h0M178.7 290.0h0M186.5 272.4h0M183.5 283.8h0M180.7 295.0h0M177.4 285.4h0M182.6 278.0h0M180.9 296.7h0M186.0 270.9h0M181.7 266.1h0M190.7 281.5h0M171.9 280.8h0M182.6 284.1h0M183.1 288.5h0M183.6 294.5h0M175.1 291.8h0M177.9 275.8h0M182.3 285.5h0M183.1 296.8h0M176.7 275.2h0M179.0 291.8h0M172.9 277.2h0M180.4 267.9h0M176.1 286.0h0M183.1 277.0h0M180.7 285.6h0M188.5 274.1h0M173.5 278.9h0M189.9 274.3h0M185.1 278.2h0M186.7 271.4h0M177.2 280.0h0M182.0 279.3h0M189.9 274.1h0M179.1 269.7h0M175.1 284.9h0M177.8 276.8h0M184.5 295.7h0M185.0 278.2h0M190.7 275.5h0M182.4 295.3h0M179.3 280.8h0M179.5 268.3h0M181.9 278.0h0M188.5 271.0h0M183.4 282.0h0M174.7 279.8h0M187.6 284.5h0M189.4 280.0h0M190.8 289.9h0M178.4 292.4h0M177.7 278.1h0M175.8 279.4h0M171.5 282.6h0M186.3 283.0h0M182.6 271.0h0M173.1 277.8h0M176.4 277.8h0M175.8 271.7h0M178.5 274.7h0M173.1 287.1h0M173.2 278.1h0M178.4 268.9h0M186.8 272.0h0M177.2 277.1h0M177.1 280.4h0M174.2 273.9h0M184.0 279.2h0M173.3 284.5h0M185.6 285.2h0M180.3 282.1h0M178.2 293.6h0M181.1 287.9h0M186.2 279.0h0M174.5 277.5h0M186.8 276.8h0M174.2 279.1h0M186.8 295.3h0M187.9 270.7h0M176.4 286.3h0M177.1 275.6h0M189.9 289.4h0M182.8 272.1h0M179.1 273.9h0M183.5 271.5h0M190.6 277.1h0M182.0 295.4h0M186.0 287.4h0M181.2 265.8h0M180.8 296.5h0M179.6 283.3h0M180.4 296.1h0M187.9 281.7h0M176.0 271.3h0M177.1 294.1h0M178.0 289.9h0M190.5 286.1h0M181.7 290.9h0M191.5 286.1h0M186.5 291.5h0M171.8 276.4h0M187.8 280.0h0M182.1 273.6h0M188.8 289.3h0M172.4 274.1h0M180.1 279.2h0M188.2 290.3h0M188.8 269.6h0M175.4 275.2h0M188.2 268.0h0M175.4 275.9h0M175.7 270.3h0M185.2 278.6h0M187.0 293.6h0M183.6 295.4h0M173.3 272.1h0M185.6 290.4h0M172.4 280.3h0M183.2 290.8h0M180.3 269.2h0M189.0 287.1h0M175.2 280.7h0M173.6 282.6h0M189.7 291.3h0M179.4 274.4h0M192.0 287.5h0M182.8 286.4h0M183.4 289.7h0M174.7 280.9h0M175.1 290.3h0M175.3 270.0h0M175.5 279.8h0M176.5 276.9h0M190.9 275.7h0M184.1 288.4h0M187.7 273.7h0M178.8 296.1h0M187.0 284.2h0M172.0 275.8h0M178.7 269.3h0M181.1 286.7h0M173.6 283.1h0M173.1 286.1h0M183.0 293.5h0M183.2 286.6h0M189.9 284.8h0M184.0 292.2h0M186.3 271.8h0M183.1 295.5h0M187.6 267.8h0M185.1 293.2h0M179.2 279.3h0M186.8 271.5h0M179.9 284.0h0M184.2 272.1h0M182.2 284.6h0M189.6 279.4h0M189.2 279.5h0M185.1 280.5h0M187.2 269.8h0M182.5 284.0h0M173.4 281.0h0M190.6 288.6h0M181.6 275.2h0M177.7 273.7h0M188.8 276.7h0M178.8 293.0h0M185.4 286.6h0M183.8 277.4h0M179.2 294.5h0M181.1 290.3h0M174.7 292.6h0M184.3 266.0h0M176.9 288.1h0M174.0 288.9h0M180.5 285.8h0M186.8 290.2h0M185.8 295.8h0M180.9 282.3h0M175.4 277.4h0M182.5 267.2h0M186.9 275.7h0M184.4 293.3h0M189.1 276.3h0M188.6 268.3h0M187.5 268.8h0M177.4 275.7h0M184.0 291.6h0M180.5 295.9h0M182.5 273.0h0M180.2 287.0h0M188.0 281.1h0M174.8 281.2h0M188.6 293.4h0M173.4 276.8h0M184.9 296.1h0M172.6 284.2h0M176.0 285.5h0M180.4 283.5h0M183.6 282.6h0M177.0 281.8h0M184.8 294.5h0M181.2 286.0h0M185.6 273.4h0M173.1 283.1h0M178.4 272.6h0M176.5 265.7h0M190.1 286.8h0M180.7 284.5h0M175.1 290.4h0M180.8 286.2h0M180.7 279.3h0M177.3 282.4h0M191.9 280.9h0M175.0 275.8h0M188.0 295.9h0M186.1 286.2h0M187.1 271.9h0M177.5 286.9h0M184.0 300.8h0M177.1 290.5h0M194.0 273.2h0M180.0 288.5h0M184.4 285.4h0M193.4 294.0h0M173.3 275.2h0M173.9 279.9h0M187.1 284.0h0M188.7 288.0h0M176.9 270.3h0M170.4 278.6h0M187.3 288.4h0M181.4 273.5h0M180.3 282.1h0M177.3 275.5h0M186.0 274.4h0M186.8 271.5h0M166.7 279.3h0M190.0 274.9h0M180.1 293.8h0M178.9 281.6h0M184.6 281.5h0M191.1 271.2h0M172.6 266.7h0M178.6 279.8h0M172.1 287.9h0M169.6 272.5h0M193.5 276.0h0M181.3 282.6h0M179.8 288.3h0M179.1 282.3h0M175.1 280.3h0M180.8 291.2h0M175.6 271.7h0M178.0 276.3h0M178.8 294.2h0M177.4 299.5h0M190.8 282.2h0M180.2 283.1h0M174.3 287.4h0M185.1 279.1h0M177.2 287.0h0M170.4 276.5h0M173.0 287.5h0M191.2 273.1h0M176.5 287.5h0M182.3 275.4h0M175.8 292.2h0M166.6 268.5h0M181.0 285.1h0M174.1 272.7h0M190.2 283.6h0M171.3 285.4h0M178.9 293.1h0M188.4 273.1h0M175.2 281.7h0M177.2 287.2h0M178.9 298.8h0M172.7 268.2h0M176.7 276.8h0M176.8 275.8h0M173.8 286.1h0M180.5 278.8h0M169.4 287.1h0M192.1 280.3h0M181.1 293.1h0M180.5 290.1h0M177.6 274.4h0M192.5 268.6h0M186.8 294.0h0M182.4 282.4h0M189.1 272.2h0M180.2 285.2h0M182.3 266.3h0M183.0 277.7h0M191.9 301.5h0M169.3 284.8h0M177.5 298.4h0M193.1 286.9h0M182.5 298.9h0M166.8 280.1h0M173.3 286.6h0M181.7 285.3h0M185.1 302.5h0M193.0 283.1h0M179.1 294.8h0M184.3 292.0h0M159.9 293.3h0M181.7 285.8h0M167.2 293.3h0M184.1 272.6h0M174.1 281.5h0M181.6 277.4h0M183.6 294.5h0M182.2 281.5h0M178.1 282.1h0M176.4 280.7h0M178.0 273.9h0M186.5 278.4h0M174.2 276.9h0M172.8 280.9h0M179.4 273.7h0M188.6 284.2h0M187.8 283.2h0M185.9 267.6h0M178.6 291.4h0M176.8 285.5h0M169.2 300.9h0M185.8 274.0h0M184.2 280.9h0M184.1 277.9h0M180.6 292.1h0M187.4 283.7h0M186.0 283.3h0M183.6 272.8h0M179.5 295.7h0M182.1 286.4h0M193.8 293.0h0M194.8 272.0h0M185.3 282.9h0M168.2 285.2h0M183.2 283.7h0M184.9 282.6h0M194.9 278.7h0M181.9 266.4h0M179.7 287.5h0M184.9 288.5h0M182.4 284.5h0M177.3 297.6h0M173.1 280.3h0M170.5 291.6h0M178.7 281.7h0M170.4 297.3h0M176.3 292.8h0M181.5 282.2h0M180.0 275.5h0M185.4 288.8h0M179.5 273.7h0M177.5 269.7h0M173.3 289.6h0M176.8 279.5h0M188.2 284.6h0M183.8 281.1h0M182.2 277.9h0M192.1 281.0h0M176.3 278.9h0M183.4 276.5h0M194.0 286.2h0M186.4 283.7h0M172.9 277.9h0M185.7 283.8h0M177.1 269.3h0M174.5 287.3h0M163.8 299.2h0M160.9 274.6h0M192.7 279.8h0M177.7 285.6h0M175.0 283.7h0M176.3 277.1h0M177.4 295.5h0M191.4 294.7h0M172.3 271.3h0M173.3 279.8h0M187.9 296.4h0M169.4 290.7h0M177.3 277.9h0M188.4 266.4h0M188.6 301.6h0M190.8 274.2h0M183.8 287.2h0M173.2 297.2h0M180.5 292.6h0M180.1 277.5h0M177.7 288.3h0M185.4 294.1h0M168.3 266.0h0M187.5 280.3h0M191.4 287.9h0M179.6 284.5h0M178.2 273.5h0M183.0 277.7h0M180.5 280.3h0M170.6 280.8h0M183.8 273.2h0M186.8 276.7h0M190.7 297.9h0M183.3 273.3h0M180.5 300.6h0M179.5 286.5h0M181.6 278.7h0M184.0 295.6h0M195.3 269.8h0M178.7 279.4h0M190.0 277.1h0M175.6 277.3h0M181.7 287.7h0M184.9 271.9h0M181.2 273.3h0M191.5 272.6h0M178.6 293.0h0M185.9 298.5h0M182.5 289.2h0M175.1 281.1h0M193.7 286.4h0M181.1 272.8h0M189.0 301.1h0M184.5 297.1h0M185.3 274.7h0M187.1 276.9h0M183.5 294.6h0M182.6 283.6h0M171.2 276.7h0M181.4 268.2h0M187.8 289.6h0M183.0 275.5h0M172.5 273.7h0M182.5 278.6h0M168.9 282.1h0M173.9 269.9h0M178.9 281.4h0M185.2 267.1h0M181.1 287.8h0M185.6 274.7h0M174.5 280.9h0M180.5 286.9h0M167.2 277.0h0M180.8 284.6h0M179.0 276.4h0M177.8 273.2h0M179.5 288.1h0M182.6 283.6h0M176.8 301.4h0M169.2 286.6h0M183.6 289.4h0M177.0 286.7h0M173.4 280.0h0M190.6 282.0h0M193.3 288.5h0M174.5 283.9h0M174.0 283.5h0M190.7 270.6h0M173.6 287.7h0M177.9 298.4h0M174.0 269.2h0M183.1 266.5h0M175.8 276.0h0M170.9 279.7h0M179.7 278.4h0M184.3 273.2h0M170.5 285.6h0M172.9 287.6h0M194.0 285.7h0M177.8 277.8h0M191.7 269.5h0M173.4 295.5h0M187.1 287.0h0M178.8 275.8h0M177.0 275.6h0M175.9 283.6h0M168.7 301.0h0M169.2 275.2h0M181.4 281.2h0M179.2 277.6h0M186.6 274.4h0M185.3 277.3h0M190.2 291.7h0M188.8 303.0h0M180.4 277.8h0M181.7 269.7h0M183.0 278.4h0M184.6 276.8h0M169.0 282.2h0M172.3 284.0h0M166.5 283.7h0M185.8 275.1h0M188.5 290.1h0M179.5 296.5h0M181.2 283.9h0M183.7 280.6h0M167.1 286.9h0M181.6 270.6h0M183.1 296.4h0M185.3 284.4h0M174.7 284.0h0M173.4 291.6h0M195.0 273.9h0M183.0 276.1h0M194.1 277.5h0M179.5 286.3h0M191.4 277.9h0M180.2 270.1h0M178.8 299.8h0M189.5 269.3h0M186.4 269.4h0M179.1 292.9h0M178.2 280.1h0M185.3 291.7h0M186.9 293.7h0M165.4 269.4h0M169.9 277.5h0M182.2 271.5h0M179.2 275.0h0M177.1 285.3h0M186.1 276.2h0M181.1 282.9h0M181.9 271.8h0M175.0 295.4h0M170.8 273.0h0M191.3 278.8h0M171.6 288.2h0M190.2 271.3h0M173.8 273.1h0M170.6 283.4h0M174.4 284.7h0M184.8 271.5h0M190.5 276.6h0M193.3 289.5h0M191.1 282.7h0M189.4 267.2h0M195.3 290.9h0M171.5 285.8h0M189.2 271.8h0M191.1 267.7h0M175.1 280.0h0M181.6 287.2h0M181.9 284.4h0M182.6 277.6h0M181.8 291.7h0M191.4 287.3h0M186.0 300.8h0M176.3 276.9h0M187.4 280.3h0M186.3 278.1h0M188.4 290.8h0M187.2 276.0h0M188.8 287.0h0M185.9 277.4h0M192.1 274.7h0M186.9 288.5h0M185.8 293.7h0M190.7 284.5h0M188.2 271.4h0M180.4 288.2h0M176.7 275.9h0M185.9 277.3h0M175.6 288.4h0M180.8 270.8h0M192.4 286.3h0M176.4 285.7h0M189.6 281.4h0M183.0 281.0h0M182.4 283.0h0M176.3 277.9h0M191.4 269.8h0M176.0 273.0h0M187.4 298.8h0M176.8 287.2h0M172.3 269.3h0M194.1 274.0h0M194.8 270.8h0M180.2 280.0h0M186.9 273.4h0M173.3 273.0h0M170.4 279.0h0M207.1 284.1h0M213.6 289.3h0M212.3 280.0h0M209.3 279.7h0M210.8 289.5h0M204.0 273.0h0M199.9 292.2h0M200.8 288.2h0M207.3 269.9h0M215.6 290.9h0M211.5 274.4h0M199.8 278.6h0M197.3 291.6h0M213.0 282.8h0M204.2 290.9h0M208.2 274.9h0M214.8 289.7h0M208.6 277.7h0M207.1 289.7h0M208.5 271.8h0M209.9 279.8h0M201.9 291.6h0M206.4 295.8h0M206.9 278.0h0M209.5 270.6h0M209.8 299.3h0M198.3 280.2h0M206.5 292.5h0M205.1 287.9h0M212.3 274.5h0M213.0 298.3h0M201.3 293.1h0M205.9 275.1h0M212.8 285.4h0M199.0 290.1h0M212.7 283.4h0M205.2 277.4h0M199.1 289.0h0M199.3 278.8h0M205.0 296.4h0M202.7 294.5h0M204.4 295.5h0M204.0 298.7h0M197.4 285.0h0M215.4 286.5h0M203.1 296.4h0M202.6 277.2h0M202.3 297.8h0M201.4 296.1h0M215.2 287.8h0M208.5 277.5h0M208.2 295.1h0M203.2 280.6h0M217.0 280.6h0M204.5 292.0h0M201.6 298.5h0M200.2 282.7h0M202.7 269.6h0M199.6 283.8h0M202.9 273.6h0M199.0 287.2h0M213.6 292.2h0M215.0 284.2h0M210.4 272.9h0M207.5 296.3h0M201.4 295.0h0M211.2 272.1h0M198.5 281.1h0M200.8 274.0h0M208.1 293.2h0M209.4 298.1h0M202.2 296.8h0M216.5 290.7h0M212.8 286.4h0M212.3 292.9h0M212.1 290.7h0M213.6 272.7h0M202.2 279.1h0M197.4 291.9h0M212.3 298.5h0M205.2 290.7h0M198.8 279.2h0M211.8 287.8h0M216.2 287.6h0M212.1 277.2h0M212.1 275.8h0M205.2 278.9h0M205.0 270.8h0M211.0 278.8h0M199.4 283.1h0M201.5 291.9h0M200.2 285.6h0M206.3 286.1h0M211.3 293.0h0M204.9 292.2h0M201.6 290.8h0M215.0 278.0h0M206.4 299.6h0M205.7 290.5h0M213.3 287.2h0M208.3 292.5h0M214.5 290.3h0M199.7 283.4h0M216.5 279.9h0M207.2 269.9h0M202.2 277.9h0M199.5 288.3h0M197.3 287.9h0M203.9 295.4h0M211.4 280.1h0M210.5 280.7h0M211.7 280.4h0M208.1 284.7h0M199.9 272.0h0M198.1 282.1h0M207.5 298.6h0M200.9 290.3h0M212.7 298.4h0M198.1 287.0h0M208.7 296.5h0M212.6 293.0h0M200.5 283.1h0M210.0 284.0h0M213.7 284.0h0M197.2 279.7h0M210.2 284.9h0M209.3 299.8h0M202.8 280.2h0M213.9 296.0h0M213.6 275.4h0M201.4 292.3h0M210.1 283.1h0M200.6 298.0h0M216.0 279.0h0M216.3 280.5h0M202.1 282.6h0M205.1 287.6h0M210.1 276.5h0M212.4 283.2h0M214.2 284.4h0M209.3 270.0h0M200.8 294.5h0M207.0 286.0h0M200.7 282.5h0M214.6 282.1h0M199.8 287.0h0M212.4 285.4h0M208.9 288.8h0M215.7 288.0h0M215.5 292.7h0M205.7 287.3h0M215.1 281.9h0M211.9 276.1h0M203.6 287.4h0M212.1 278.4h0M210.0 294.5h0M204.4 269.1h0M206.5 290.0h0M206.0 290.1h0M207.4 288.8h0M208.1 294.6h0M209.0 268.9h0M204.3 292.9h0M214.0 290.4h0M212.8 279.0h0M209.6 288.0h0M216.0 285.6h0M204.7 280.0h0M205.6 272.0h0M207.9 288.9h0M197.4 289.7h0M210.8 291.0h0M201.2 298.9h0M206.0 288.0h0M208.2 285.8h0M213.2 281.4h0M205.9 270.5h0M206.0 295.6h0M205.1 293.7h0M208.7 275.7h0M201.7 285.6h0M209.6 277.9h0M214.2 277.4h0M201.4 277.8h0M200.3 273.6h0M200.6 291.7h0M202.7 278.9h0M208.6 298.5h0M199.7 293.1h0M203.5 284.5h0M207.9 284.1h0M217.2 286.7h0M208.2 283.0h0M198.7 285.2h0M207.9 293.1h0M214.7 289.7h0M204.7 296.5h0M197.8 281.6h0M214.6 283.1h0M198.5 285.0h0M210.1 270.8h0M211.2 274.9h0M199.3 293.9h0M210.7 298.6h0M204.5 274.3h0M207.7 276.5h0M198.0 291.2h0M205.5 284.8h0M202.5 271.2h0M200.2 273.0h0M205.0 282.3h0M207.6 294.2h0M208.1 284.4h0M199.9 286.7h0M202.3 289.7h0M207.7 271.2h0M207.6 288.1h0M198.2 281.2h0M207.7 294.3h0M212.9 288.2h0M216.8 282.8h0M209.0 282.4h0M217.4 287.1h0M199.9 290.2h0M207.5 285.6h0M197.6 280.2h0M213.6 292.6h0M213.8 292.0h0M207.1 270.4h0M208.9 294.5h0M201.8 286.8h0M212.9 297.1h0M202.7 287.2h0M207.8 289.3h0M208.9 290.5h0M203.9 272.3h0M210.0 270.7h0M199.9 276.5h0M203.6 297.0h0M210.3 284.6h0M211.7 288.6h0M202.5 273.0h0M198.0 287.4h0M197.7 283.0h0M209.9 295.9h0M204.2 279.9h0M216.8 288.3h0M202.0 290.6h0M211.8 296.0h0M202.8 273.5h0M213.8 291.9h0M212.3 274.1h0M199.6 287.5h0M201.0 293.1h0M199.3 278.0h0M206.3 295.5h0M215.6 288.9h0M204.3 273.3h0M213.8 286.1h0M200.4 274.9h0M204.6 291.9h0M204.8 297.7h0M199.3 290.9h0M206.4 298.7h0M205.1 270.2h0M203.2 291.6h0M208.3 269.1h0M207.9 286.3h0M207.1 296.7h0M206.4 277.0h0M207.0 295.5h0M215.5 275.6h0M211.5 280.9h0M205.6 272.6h0M203.0 280.4h0M207.6 287.8h0M199.4 285.6h0M205.7 295.5h0M206.9 271.8h0M197.5 281.8h0M205.5 296.2h0M211.9 296.9h0M208.4 294.6h0M211.9 289.7h0M199.2 275.0h0M213.6 272.6h0M197.8 280.9h0M212.8 280.1h0M213.1 272.3h0M200.8 281.2h0M210.9 271.4h0M215.0 276.9h0M204.1 269.3h0M213.0 272.2h0M206.1 277.9h0M200.5 285.9h0M203.4 291.3h0M204.1 269.3h0M198.0 285.5h0M213.9 278.7h0M215.2 289.7h0M205.8 274.3h0M213.3 285.2h0M217.0 286.0h0M216.1 284.0h0M203.4 279.9h0M204.4 295.0h0M213.7 294.1h0M207.0 291.1h0M205.9 289.4h0M198.6 275.4h0M211.1 276.0h0M203.6 285.0h0M199.3 277.5h0M199.6 282.8h0M204.1 294.2h0M215.4 281.6h0M214.6 280.8h0M205.6 301.0h0M204.5 290.7h0M201.4 294.3h0M207.5 301.3h0M205.5 292.2h0M209.9 289.1h0M208.9 283.0h0M198.9 277.0h0M208.7 300.0h0M209.3 278.4h0M209.0 289.6h0M213.6 292.7h0M212.8 280.9h0M212.3 291.7h0M207.8 280.8h0M212.0 298.9h0M213.7 277.7h0M200.5 274.8h0M198.1 290.9h0M207.9 291.2h0M207.5 268.6h0M204.1 297.2h0M209.6 298.2h0M198.7 283.0h0M209.6 298.5h0M213.2 277.0h0M205.4 285.3h0M203.1 276.4h0M215.1 289.4h0M199.0 275.0h0M209.7 276.1h0M209.4 299.9h0M203.6 278.4h0M200.7 290.1h0M207.7 290.7h0M201.5 286.2h0M204.7 282.1h0M198.2 292.8h0M207.7 270.7h0M216.8 282.4h0M206.5 296.7h0M198.1 275.0h0M201.4 285.7h0M214.4 277.4h0M203.5 292.1h0M209.8 275.2h0M208.3 287.9h0M197.9 279.8h0M201.2 278.0h0M197.8 288.3h0M206.5 295.5h0M201.8 295.5h0M203.4 289.1h0M211.3 273.2h0M212.4 276.0h0M202.3 296.6h0M210.5 292.7h0M216.6 291.0h0M200.0 289.0h0M212.3 276.0h0M211.6 293.1h0M216.4 291.3h0M210.6 275.0h0M210.1 283.0h0M208.7 300.9h0M200.4 287.5h0M213.0 286.6h0M207.6 269.3h0M202.4 298.0h0M204.3 272.5h0M208.9 281.2h0M207.9 268.8h0M213.5 281.7h0M197.8 289.0h0M197.7 279.1h0M205.7 284.9h0M214.0 290.1h0M215.3 294.2h0M205.0 296.5h0M198.0 284.5h0M201.7 288.9h0M198.0 292.8h0M208.5 282.9h0M204.9 279.9h0M204.9 300.9h0M202.0 296.1h0M205.7 295.3h0M219.7 270.2h0M201.8 282.3h0M204.1 281.0h0M208.0 282.5h0M207.1 285.3h0M218.6 284.1h0M212.3 300.6h0M199.2 287.7h0M207.1 289.8h0M216.7 280.2h0M204.4 274.6h0M206.9 288.2h0M204.8 292.3h0M202.6 287.3h0M215.3 284.9h0M210.6 291.7h0M209.6 289.7h0M201.6 294.3h0M206.7 278.8h0M207.3 291.8h0M213.1 284.2h0M200.2 291.6h0M208.3 301.3h0M204.9 283.1h0M205.6 286.3h0M215.3 280.4h0M209.4 284.5h0M199.5 282.6h0M205.5 282.6h0M207.1 289.1h0M198.1 281.8h0M209.5 277.3h0M214.4 277.9h0M207.8 285.0h0M205.1 279.6h0M206.5 284.9h0M207.9 286.1h0M200.5 291.1h0M203.1 286.7h0M215.9 297.9h0M200.7 293.2h0M213.1 279.8h0M208.7 288.4h0M207.2 270.2h0M207.2 277.1h0M206.9 293.2h0M212.4 281.1h0M204.3 268.7h0M211.3 290.0h0M208.8 280.0h0M211.5 296.6h0M207.2 293.1h0M218.4 278.9h0M199.0 287.2h0M212.3 282.1h0M214.6 285.1h0M212.2 278.1h0M200.4 272.0h0M211.2 276.5h0M212.4 286.1h0M203.3 281.1h0M208.6 282.4h0M210.4 273.8h0M202.7 276.3h0M202.0 285.1h0M207.6 272.6h0M203.5 300.3h0M214.6 289.2h0M206.5 280.4h0M204.1 279.6h0M202.4 296.9h0M200.3 269.7h0M209.3 283.9h0M204.6 283.1h0M198.6 295.5h0M215.8 280.1h0M207.6 284.7h0M207.0 286.6h0M208.7 287.2h0M209.3 274.8h0M205.0 290.1h0M214.0 302.8h0M216.6 280.1h0M215.0 272.5h0M210.1 290.8h0M198.8 284.1h0M202.4 279.9h0M216.0 286.8h0M205.9 289.6h0M205.3 295.4h0M198.5 279.1h0M201.4 276.9h0M203.0 283.5h0M207.9 283.0h0M202.5 278.3h0M216.4 287.1h0M206.9 272.5h0M208.6 290.0h0M205.9 288.1h0M204.4 280.0h0M203.4 282.0h0M210.1 297.2h0M205.0 286.9h0M213.4 268.3h0M206.8 284.8h0M206.3 280.4h0M201.1 286.0h0M199.0 284.4h0M208.3 280.4h0M203.3 282.4h0M211.3 280.2h0M201.2 289.7h0M214.5 276.6h0M215.2 275.6h0M214.8 294.1h0M208.8 293.0h0M209.8 295.7h0M208.2 291.6h0M214.1 283.0h0M200.6 292.6h0M216.2 277.0h0M210.7 275.8h0M210.2 290.3h0M204.2 286.2h0M209.8 295.7h0M209.9 277.0h0M198.1 272.9h0M218.0 291.2h0M198.1 284.2h0M208.9 278.4h0M197.7 283.8h0M208.9 294.5h0M198.5 277.6h0M210.7 286.3h0M203.2 290.9h0M213.0 287.9h0M206.4 284.4h0M207.5 283.6h0M199.1 280.6h0M206.8 290.5h0M210.0 296.6h0M199.0 271.4h0M204.2 290.2h0M214.7 269.6h0M204.0 286.4h0M213.6 296.6h0M198.8 287.9h0M203.3 276.5h0M209.8 271.7h0M198.6 288.0h0M197.7 281.8h0M204.0 286.5h0M210.8 277.8h0M203.2 296.8h0M206.9 290.9h0M201.6 276.6h0M209.2 284.0h0M198.4 271.2h0M198.8 281.7h0M201.7 285.9h0M213.2 292.1h0M211.8 292.8h0M214.4 286.0h0M209.2 297.3h0M216.1 269.5h0M207.5 290.9h0M300.9 280.2h0M311.9 272.1h0M314.2 270.9h0M301.7 278.3h0M300.6 277.8h0M323.6 285.2h0M312.5 293.7h0M302.0 281.2h0M310.6 274.8h0M321.8 280.3h0M323.1 278.1h0M302.7 291.2h0M303.6 291.2h0M310.2 277.1h0M314.7 295.0h0M320.6 290.6h0M312.8 297.2h0M312.6 278.5h0M302.3 280.7h0M300.9 277.5h0M318.9 273.3h0M312.0 282.8h0M306.4 274.9h0M310.0 297.8h0M306.7 287.6h0M312.8 293.7h0M300.6 283.9h0M314.9 277.4h0M318.6 282.3h0M307.1 295.9h0M312.2 273.1h0M315.3 274.2h0M313.0 267.3h0M300.3 275.3h0M321.6 276.7h0M300.0 283.8h0M321.3 275.3h0M309.1 271.8h0M311.7 293.4h0M322.8 281.0h0M318.3 295.3h0M312.9 295.4h0M319.8 290.8h0M310.2 287.9h0M316.9 275.3h0M313.1 268.2h0M303.0 271.6h0M317.3 278.9h0M319.3 283.0h0M307.3 279.3h0M307.8 275.3h0M302.2 282.5h0M311.2 286.2h0M304.5 292.2h0M319.2 277.8h0M309.4 295.5h0M311.7 274.8h0M309.9 267.2h0M303.8 286.5h0M310.6 271.5h0M309.4 291.8h0M307.8 280.8h0M308.2 294.8h0M313.7 281.8h0M306.6 281.3h0M306.7 286.9h0M310.6 296.5h0M302.6 288.5h0M305.2 286.5h0M322.5 275.0h0M301.1 274.3h0M318.4 281.7h0M315.6 292.2h0M311.8 279.7h0M317.3 285.5h0M303.6 289.2h0M311.7 274.5h0M319.9 270.9h0M320.3 284.5h0M320.9 289.5h0M300.0 275.8h0M309.6 278.2h0M319.0 278.2h0M319.5 288.1h0M316.3 268.8h0M311.9 294.3h0M306.6 285.6h0M315.3 284.2h0M305.2 277.9h0M308.4 296.8h0M313.2 285.3h0M304.9 284.5h0M313.0 296.9h0M307.0 285.8h0M301.9 282.6h0M309.8 274.3h0M299.9 283.6h0M319.3 284.5h0M320.7 280.9h0M310.5 288.6h0M310.2 291.2h0M300.5 280.7h0M303.1 290.9h0M301.4 281.7h0M308.0 277.1h0M318.1 287.2h0M316.6 278.0h0M317.8 276.3h0M309.9 285.2h0M308.6 281.8h0M300.4 284.2h0M306.7 268.7h0M305.1 295.8h0M317.2 288.2h0M315.2 293.0h0M320.1 270.5h0M317.6 276.8h0M318.5 275.2h0M306.2 276.7h0M305.5 272.2h0M315.5 296.1h0M316.7 294.1h0M313.2 269.2h0M319.0 289.0h0M312.1 290.5h0M306.8 272.2h0M316.2 288.1h0M307.1 296.5h0M318.0 269.6h0M305.9 278.5h0M317.9 290.0h0M313.0 295.9h0M311.0 291.0h0M317.3 271.6h0M310.8 286.6h0M322.3 278.1h0M307.4 282.1h0M314.8 272.4h0M305.9 269.0h0M303.2 273.3h0M302.8 277.4h0M323.0 278.3h0M315.5 293.9h0M307.4 294.7h0M321.6 290.9h0M307.6 292.1h0M306.7 278.9h0M321.8 279.2h0M320.7 291.6h0M312.3 293.1h0M321.2 291.6h0M304.3 291.9h0M315.1 283.4h0M312.1 287.0h0M306.1 289.5h0M310.6 294.5h0M312.1 297.1h0M321.2 282.6h0M311.5 284.7h0M311.2 274.5h0M304.9 291.2h0M308.3 292.6h0M318.2 287.9h0M317.0 281.2h0M314.1 290.2h0M310.3 288.4h0M316.0 279.3h0M312.9 272.7h0M316.9 293.7h0M305.5 277.9h0M316.5 277.1h0M317.4 295.4h0M321.0 291.3h0M316.0 282.3h0M314.3 294.3h0M313.8 279.1h0M319.1 281.4h0M310.8 275.8h0M302.2 276.9h0M308.1 268.7h0M309.3 292.7h0M316.9 296.4h0M303.3 274.0h0M303.3 272.1h0M306.6 281.2h0M306.8 267.6h0M313.2 274.8h0M305.3 283.2h0M306.4 278.6h0M313.4 287.9h0M313.7 287.1h0M312.9 280.0h0M306.5 271.6h0M306.6 279.1h0M304.7 276.7h0M323.1 284.7h0M323.4 284.4h0M310.8 272.8h0M319.2 277.2h0M305.6 277.4h0M309.6 273.0h0M313.7 288.2h0M305.7 288.1h0M302.8 274.8h0M316.9 289.5h0M308.0 278.7h0M321.0 288.2h0M311.2 293.5h0M317.6 270.9h0M310.6 297.5h0M303.5 274.9h0M317.0 270.5h0M316.5 273.1h0M318.5 272.3h0M302.7 291.5h0M309.5 279.9h0M313.8 276.2h0M323.6 284.5h0M301.1 279.0h0M308.6 273.3h0M307.1 278.3h0M316.5 267.3h0M315.4 274.3h0M313.5 287.9h0M306.9 296.0h0M316.4 269.1h0M320.0 285.2h0M316.4 288.1h0M304.9 284.6h0M314.2 290.7h0M322.1 283.1h0M323.1 278.2h0M316.5 270.2h0M317.3 274.9h0M319.5 273.3h0M306.2 271.1h0M317.5 286.1h0M304.5 269.0h0M308.1 270.8h0M322.9 282.8h0M318.4 284.1h0M306.1 271.7h0M302.7 289.4h0M316.6 296.3h0M320.6 287.8h0M317.6 282.3h0M305.5 286.1h0M300.6 281.4h0M300.4 275.4h0M305.8 285.5h0M299.7 278.7h0M300.3 279.3h0M320.2 293.1h0M313.4 279.0h0M319.1 269.5h0M319.4 272.1h0M313.6 273.5h0M309.1 282.8h0M309.1 289.4h0M316.4 274.5h0M303.6 292.9h0M312.9 285.3h0M300.5 280.8h0M302.5 271.5h0M318.1 293.3h0M300.8 287.0h0M302.0 280.6h0M318.1 272.6h0M319.7 287.2h0M302.1 289.6h0M315.7 293.7h0M318.2 270.3h0M316.5 273.9h0M310.1 289.2h0M310.8 288.3h0M317.9 277.4h0M307.6 267.0h0M319.6 293.5h0M316.1 294.6h0M311.6 274.9h0M309.8 288.6h0M305.8 278.7h0M315.3 297.2h0M300.4 284.7h0M304.4 277.5h0M307.4 284.5h0M319.9 279.7h0M321.4 281.9h0M311.6 279.4h0M312.2 296.1h0M313.8 267.0h0M301.5 273.2h0M306.8 284.7h0M300.7 274.7h0M312.3 297.4h0M315.9 285.1h0M303.5 283.4h0M320.1 274.0h0M310.4 277.0h0M313.0 279.3h0M313.0 297.4h0M317.9 268.6h0M320.6 271.5h0M314.2 291.4h0M314.8 290.0h0M321.5 278.7h0M301.9 290.0h0M316.1 281.2h0M307.1 282.5h0M312.6 294.8h0M302.8 282.8h0M303.5 271.5h0M301.8 272.0h0M308.9 292.0h0M322.6 285.2h0M311.1 280.3h0M305.2 269.9h0M308.2 286.3h0M306.0 278.7h0M318.5 285.2h0M302.3 273.7h0M310.6 266.6h0M311.9 269.8h0M320.5 271.1h0M307.2 277.9h0M312.8 279.6h0M315.1 274.0h0M309.5 288.6h0M304.3 294.0h0M305.3 272.5h0M320.6 276.3h0M322.0 285.3h0M316.5 268.5h0M304.0 271.0h0M317.8 285.4h0M300.7 277.4h0M306.4 273.9h0M312.3 273.2h0M302.5 284.0h0M320.4 270.9h0M306.5 283.6h0M311.5 287.2h0M301.1 288.8h0M317.9 293.9h0M305.6 272.3h0M317.7 271.6h0M306.5 279.6h0M300.0 284.5h0M302.5 283.1h0M304.5 278.9h0M306.4 284.7h0M309.1 294.6h0M312.4 282.8h0M303.0 293.4h0M300.5 280.2h0M301.2 274.6h0M308.5 267.3h0M299.2 281.6h0M301.0 280.7h0M300.8 287.3h0M317.0 273.2h0M318.6 269.6h0M315.5 273.3h0M318.9 274.8h0M319.8 293.5h0M315.6 282.6h0M307.3 286.7h0M302.6 288.8h0M305.0 271.9h0M316.8 272.1h0M315.2 268.8h0M303.6 288.8h0M311.3 280.1h0M303.4 292.2h0M319.5 286.6h0M316.0 267.9h0M309.9 296.6h0M313.1 281.3h0M321.0 287.8h0M308.3 273.5h0M319.0 281.5h0M312.2 268.5h0M306.6 281.1h0M305.8 289.4h0M321.2 275.0h0M304.6 281.9h0M310.9 270.8h0M311.3 279.5h0M317.5 275.4h0M304.9 289.4h0M317.8 287.0h0M321.5 274.2h0M308.3 272.1h0M302.8 286.1h0M307.4 288.6h0M323.6 282.4h0M320.7 282.4h0M312.4 289.8h0M313.6 273.6h0M320.7 284.7h0M315.8 286.5h0M316.9 281.6h0M306.8 269.6h0M308.3 283.1h0M306.8 296.5h0M316.8 294.4h0M303.4 278.4h0M311.1 294.3h0M314.0 283.3h0M323.1 281.3h0M321.1 285.8h0M311.9 289.2h0M312.9 276.0h0M315.0 285.4h0M308.2 274.0h0M306.2 275.7h0M312.8 281.7h0M312.6 287.7h0M319.5 274.6h0M318.4 287.6h0M321.9 276.3h0M322.7 280.5h0M320.3 271.6h0M304.2 270.0h0M322.4 287.3h0M316.4 286.6h0M306.8 267.7h0M317.9 278.8h0M309.7 295.6h0M307.0 270.0h0M321.1 273.9h0M321.9 282.6h0M314.4 284.0h0M308.9 277.3h0M321.0 278.3h0M302.8 273.2h0M322.8 275.3h0M309.4 272.2h0M323.1 276.3h0M321.7 287.5h0M306.8 281.9h0M313.2 274.9h0M320.1 286.5h0M316.2 276.6h0M312.3 290.0h0M304.4 284.3h0M310.2 268.7h0M306.8 296.1h0M313.2 288.8h0M314.0 284.7h0M312.9 277.0h0M300.2 283.4h0M320.1 272.2h0M314.4 294.3h0M305.4 295.4h0M320.5 282.3h0M304.4 286.7h0M313.8 290.5h0M318.9 278.1h0M303.4 285.1h0M303.8 269.6h0M313.8 266.8h0M319.9 270.7h0M306.1 275.7h0M305.1 285.4h0M310.5 269.9h0M321.8 290.6h0M314.1 281.4h0M305.1 284.1h0M306.6 275.2h0M311.1 269.4h0M314.9 295.0h0M320.4 276.5h0M322.4 274.7h0M308.5 270.4h0M318.8 280.7h0M314.0 290.3h0M305.5 271.1h0M308.3 295.2h0M309.7 282.7h0M320.8 279.7h0M308.8 290.5h0M320.1 272.3h0M308.2 295.5h0M312.6 287.3h0M312.8 278.1h0M315.9 281.3h0M323.4 279.4h0M314.0 282.8h0M322.3 281.5h0M318.1 275.8h0M310.0 294.0h0M320.7 273.4h0M315.6 279.2h0M320.4 287.7h0M310.3 288.9h0M302.5 280.5h0M311.6 271.5h0M318.1 289.3h0M303.6 271.8h0M305.0 282.3h0M295.9 281.5h0M309.0 285.8h0M314.2 297.6h0M310.6 286.6h0M300.5 288.2h0M308.3 275.1h0M308.0 271.8h0M312.7 286.0h0M306.7 298.3h0M300.6 283.0h0M298.2 288.9h0M295.4 288.2h0M299.1 293.5h0M309.1 297.3h0M301.2 293.3h0M318.6 280.9h0M305.0 275.6h0M314.6 282.5h0M310.4 268.5h0M313.5 272.5h0M309.3 278.6h0M307.2 276.4h0M304.6 281.1h0M309.9 297.2h0M313.9 286.3h0M300.8 282.3h0M302.3 279.7h0M320.5 283.2h0M316.7 283.8h0M302.7 298.7h0M307.7 282.1h0M312.7 275.7h0M300.0 292.0h0M304.8 295.2h0M312.8 289.4h0M312.4 272.6h0M304.0 272.4h0M312.8 290.8h0M318.4 276.9h0M305.4 271.1h0M302.9 285.3h0M312.6 278.2h0M319.4 297.3h0M310.2 267.0h0M304.1 301.3h0M310.4 271.1h0M306.2 276.9h0M310.4 278.6h0M312.9 281.8h0M313.4 293.6h0M321.9 273.1h0M318.3 279.3h0M321.0 279.6h0M318.6 294.2h0M306.5 284.5h0M306.0 285.4h0M323.8 277.9h0M290.2 282.5h0M303.7 281.4h0M287.2 276.3h0M317.2 298.3h0M321.4 286.9h0M317.0 288.2h0M311.4 284.8h0M295.9 284.1h0M319.2 296.0h0M314.3 295.7h0M313.9 294.2h0M313.7 288.1h0M304.9 280.7h0M312.6 288.4h0M307.0 302.4h0M312.9 270.3h0M303.5 285.6h0M312.5 283.9h0M311.6 297.7h0M308.6 295.8h0M311.8 292.4h0M318.7 275.3h0M312.2 295.8h0M316.1 284.6h0M310.0 271.1h0M314.9 289.0h0M307.4 295.0h0M310.4 280.9h0M309.1 279.0h0M312.4 275.2h0M302.1 281.5h0M301.5 281.5h0M303.5 288.8h0M309.0 287.5h0M311.1 283.3h0M304.0 302.6h0M310.6 272.9h0M318.8 296.8h0M313.9 278.2h0M305.5 287.1h0M308.4 283.9h0M310.5 293.8h0M305.2 290.9h0M302.3 294.4h0M293.8 273.1h0M301.4 288.0h0M314.5 277.3h0M300.8 283.4h0M304.3 275.6h0M311.2 270.6h0M312.7 267.7h0M307.7 286.4h0M298.1 299.0h0M305.1 273.5h0M305.4 272.0h0M312.1 279.3h0M295.5 271.8h0M303.9 290.8h0M295.5 269.3h0M315.7 282.8h0M308.5 278.0h0M294.8 282.7h0M308.1 270.8h0M303.7 270.9h0M322.9 295.7h0M322.9 293.1h0M301.4 279.9h0M304.0 278.9h0M316.9 292.7h0M315.5 287.0h0M312.3 287.0h0M313.5 283.5h0M313.7 273.2h0M310.4 275.1h0M314.3 279.7h0M310.1 291.4h0M311.9 299.8h0M308.4 288.2h0M314.2 277.5h0M312.3 283.0h0M316.6 273.8h0M303.6 286.7h0M310.7 269.4h0M314.0 284.9h0M311.0 280.5h0M305.4 290.2h0M305.8 291.1h0M305.3 287.1h0M300.3 292.2h0M304.3 286.0h0M312.0 285.1h0M306.3 268.7h0M302.5 270.0h0M294.2 289.1h0M306.0 288.1h0M311.1 278.5h0M304.0 288.5h0M311.5 287.8h0M317.3 280.2h0M311.5 282.5h0M312.2 285.1h0M294.3 282.7h0M317.2 297.8h0M303.3 279.8h0M304.3 283.6h0M300.6 287.4h0M310.4 291.5h0M320.3 286.9h0M299.0 289.4h0M302.3 287.7h0M303.3 273.0h0M314.0 278.8h0M306.5 283.6h0M313.7 277.3h0M311.7 281.1h0M320.2 300.2h0M307.1 275.8h0M299.1 301.8h0M322.7 290.9h0M303.9 280.3h0M293.6 288.3h0M313.0 295.3h0M315.7 281.7h0M310.9 280.0h0M307.7 275.1h0M308.9 293.7h0M323.3 290.6h0M303.9 283.0h0M308.1 279.4h0M307.6 279.0h0M322.6 292.7h0M309.3 276.7h0M299.8 282.5h0M314.9 296.3h0M300.5 283.0h0M313.7 288.8h0M298.6 288.8h0M309.7 284.5h0M307.7 293.5h0M317.2 291.7h0M301.5 287.9h0M307.1 290.2h0M317.7 280.8h0M300.0 285.1h0M312.4 273.0h0M309.8 279.6h0M317.2 276.4h0M305.4 274.3h0M312.1 290.5h0M310.8 292.5h0M306.1 273.6h0M303.6 284.6h0M312.5 286.4h0M291.8 295.1h0M315.5 280.5h0M321.1 285.9h0M318.1 273.8h0M308.6 280.0h0M313.8 268.3h0M307.3 291.3h0M317.6 282.9h0M315.0 291.6h0M317.7 286.1h0M302.7 289.5h0M304.6 278.7h0M295.8 292.6h0M303.4 279.9h0M307.3 277.8h0M309.8 285.6h0M315.3 280.9h0M316.6 292.7h0M302.0 282.4h0M304.3 275.8h0M294.1 289.3h0M298.5 295.9h0M313.5 279.7h0M309.8 286.3h0M316.6 281.8h0M300.4 275.5h0M306.1 279.6h0M302.4 275.9h0M300.8 277.5h0M313.3 282.7h0M307.7 287.5h0M320.8 293.3h0M306.1 288.7h0M316.6 288.8h0M307.2 288.0h0M305.4 277.1h0M304.7 289.1h0M309.0 282.2h0M314.4 273.9h0M300.4 278.9h0M308.7 285.5h0M295.5 291.2h0M314.2 276.1h0M320.9 278.4h0M305.4 288.0h0M306.9 288.0h0M311.8 281.3h0M312.3 286.2h0M303.3 282.1h0M321.6 274.4h0M305.2 269.1h0M312.0 268.6h0M304.8 274.2h0M310.1 291.8h0M306.1 267.3h0M317.6 281.2h0M306.4 274.7h0M312.5 290.8h0M298.7 290.2h0M304.2 283.1h0M292.7 302.4h0M305.2 274.1h0M289.3 283.5h0M314.4 285.0h0M301.3 277.1h0M303.8 286.0h0M302.1 290.6h0M310.2 283.8h0M311.9 286.9h0M308.2 291.7h0M316.9 278.7h0M307.1 295.9h0M297.2 297.6h0M316.0 294.9h0M300.0 290.0h0M310.2 272.1h0M289.1 290.4h0M315.1 273.9h0M294.0 290.0h0M302.7 271.9h0M310.9 270.4h0M312.2 266.4h0M316.3 293.5h0M317.4 279.2h0M302.8 271.1h0M317.6 285.6h0M318.6 295.9h0M306.6 295.5h0M310.0 300.3h0M318.3 272.6h0M314.3 288.2h0M311.2 271.6h0M320.5 290.6h0M321.1 285.2h0M303.9 274.4h0M313.0 288.8h0M307.5 284.4h0M305.8 290.6h0M316.7 287.4h0M305.4 286.0h0M313.0 278.9h0M318.9 280.7h0M309.5 277.7h0M321.9 302.9h0M313.4 284.8h0M299.0 268.8h0M304.3 282.1h0M307.7 272.6h0M310.3 285.9h0M317.5 276.3h0M298.9 282.4h0M308.7 282.1h0M306.3 287.6h0M312.1 280.2h0M304.8 291.9h0M313.8 297.0h0M314.9 288.5h0M312.2 273.8h0M310.7 286.0h0M315.9 285.9h0M315.0 288.8h0M312.3 282.5h0M307.7 291.6h0M319.8 271.8h0M318.8 295.2h0M312.8 273.3h0M322.4 294.2h0M310.1 291.7h0M307.2 284.0h0M308.3 290.6h0M313.8 285.8h0M317.8 279.4h0M307.9 268.1h0M311.1 289.0h0M302.6 290.8h0M309.8 290.1h0M312.4 272.9h0M306.0 283.7h0M319.1 277.4h0M322.1 269.1h0M308.6 277.0h0M312.1 284.2h0M313.4 289.7h0M311.4 274.9h0M315.0 285.8h0M291.5 279.6h0M311.7 285.7h0M295.4 288.8h0M311.2 274.2h0M299.8 275.9h0M314.8 278.0h0M297.9 271.3h0M314.9 278.3h0M331.0 271.8h0M344.3 282.9h0M327.2 282.9h0M336.7 278.7h0M333.8 287.1h0M337.5 282.6h0M331.3 284.6h0M332.3 275.0h0M339.0 278.5h0M332.2 268.9h0M339.7 281.0h0M335.1 286.2h0M331.5 284.0h0M331.9 273.0h0M326.3 284.8h0M344.9 274.9h0M330.2 295.5h0M342.0 291.4h0M343.0 289.4h0M332.7 292.9h0M334.5 291.2h0M328.2 293.8h0M330.8 275.2h0M327.3 285.1h0M331.9 289.8h0M338.6 280.0h0M342.8 287.9h0M330.0 289.9h0M342.6 285.3h0M338.1 274.7h0M327.5 286.3h0M331.3 273.0h0M331.8 291.7h0M327.0 280.9h0M333.9 285.0h0M342.1 294.4h0M336.7 274.7h0M337.3 286.7h0M344.5 282.0h0M336.1 280.0h0M341.7 282.1h0M339.2 270.6h0M346.6 285.6h0M342.1 288.1h0M342.7 290.0h0M341.9 292.8h0M341.4 282.8h0M343.9 281.1h0M333.7 291.7h0M329.5 292.1h0M339.0 282.0h0M330.0 291.1h0M326.5 286.6h0M344.9 276.6h0M334.7 270.4h0M337.8 271.2h0M339.5 271.9h0M337.6 283.8h0M334.2 290.3h0M336.5 299.8h0M340.0 283.0h0M344.4 273.5h0M326.1 289.3h0M336.9 293.5h0M341.7 282.4h0M344.2 289.5h0M337.4 281.2h0M342.7 277.3h0M330.8 290.7h0M332.9 289.1h0M330.5 282.1h0M340.3 280.9h0M344.6 289.2h0M330.6 276.8h0M342.5 290.8h0M329.9 293.6h0M344.3 286.1h0M332.7 296.1h0M332.7 284.0h0M327.2 283.3h0M330.3 278.4h0M335.8 281.1h0M334.7 295.8h0M332.6 295.1h0M338.3 288.2h0M331.8 286.1h0M327.4 274.0h0M337.6 294.6h0M343.9 288.9h0M338.6 286.2h0M337.0 289.1h0M336.3 273.2h0M338.3 291.6h0M338.6 281.1h0M333.6 272.4h0M330.6 275.5h0M332.2 287.5h0M335.7 270.0h0M330.6 278.7h0M337.2 296.4h0M333.1 277.3h0M343.6 283.6h0M344.5 287.6h0M327.0 282.0h0M335.8 281.1h0M340.8 269.5h0M332.8 284.6h0M335.7 279.9h0M341.5 286.8h0M338.4 273.2h0M338.4 279.2h0M334.0 290.9h0M345.3 278.4h0M339.3 298.0h0M332.6 297.8h0M337.8 283.1h0M340.7 295.4h0M337.3 273.7h0M334.9 283.4h0M333.3 296.3h0M328.7 278.4h0M341.3 290.5h0M333.4 290.6h0M326.2 287.2h0M327.0 280.4h0M345.7 282.3h0M336.9 281.1h0M333.6 277.8h0M330.5 294.6h0M342.8 272.7h0M338.2 273.2h0M345.1 283.8h0M331.3 276.1h0M330.2 283.4h0M342.4 274.5h0M335.8 269.4h0M332.5 270.1h0M330.1 295.7h0M326.9 278.7h0M331.2 292.1h0M327.8 276.3h0M333.2 271.8h0M333.2 278.6h0M327.6 287.6h0M332.9 288.8h0M327.3 289.6h0M326.3 282.0h0M336.9 278.4h0M343.7 290.0h0M339.4 276.3h0M336.4 278.4h0M341.3 281.1h0M342.7 279.8h0M326.1 284.5h0M335.1 280.0h0M335.7 288.5h0M335.2 292.5h0M343.8 294.8h0M332.4 275.7h0M343.9 274.9h0M326.7 282.1h0M333.1 293.9h0M337.4 289.5h0M341.6 291.9h0M331.4 269.9h0M343.8 292.0h0M339.9 292.8h0M335.7 274.9h0M332.6 272.2h0M338.0 276.8h0M339.2 277.6h0M337.3 296.2h0M339.1 275.5h0M337.5 292.8h0M330.1 280.8h0M337.5 278.1h0M335.6 276.5h0M332.0 289.8h0M328.5 279.2h0M336.4 267.6h0M335.3 273.8h0M336.6 295.7h0M333.8 288.2h0M346.2 287.2h0M342.4 271.9h0M343.2 286.4h0M330.9 282.2h0M335.6 277.6h0M346.6 280.8h0M328.3 288.2h0M336.5 285.2h0M345.5 279.6h0M329.1 288.5h0M334.3 272.2h0M332.1 290.2h0M341.9 294.4h0M336.2 291.7h0M332.9 273.9h0M337.1 285.6h0M340.2 279.3h0M338.2 273.8h0M342.7 284.0h0M338.6 278.4h0M346.6 280.2h0M339.3 280.5h0M342.1 279.5h0M332.6 276.6h0M343.7 294.2h0M329.9 286.6h0M344.5 283.3h0M332.7 285.4h0M328.0 287.0h0M342.2 293.9h0M337.1 268.7h0M334.9 299.0h0M331.3 279.1h0M345.3 275.9h0M334.0 294.5h0M326.6 290.1h0M331.9 270.1h0M341.2 296.7h0M333.8 295.6h0M338.7 292.2h0M328.5 287.8h0M337.8 271.1h0M338.7 291.7h0M337.2 290.3h0M342.6 281.9h0M335.7 290.8h0M345.6 282.9h0M339.7 279.0h0M333.8 275.3h0M334.8 284.3h0M338.5 291.9h0M331.2 270.1h0M328.8 281.8h0M333.8 275.2h0M329.3 287.2h0M341.3 271.0h0M335.6 290.7h0M335.8 271.4h0M343.6 290.2h0M335.6 272.6h0M337.6 276.4h0M338.8 270.5h0M343.0 294.7h0M335.1 300.4h0M329.3 283.9h0M332.5 294.2h0M333.3 281.1h0M341.0 271.0h0M342.6 296.0h0M344.4 273.5h0M341.5 280.5h0M339.6 296.1h0M336.6 286.1h0M332.0 296.4h0M335.5 291.1h0M337.8 282.5h0M327.1 289.2h0M342.1 280.9h0M332.6 288.3h0M341.3 277.1h0M329.4 275.7h0M333.8 277.7h0M335.4 280.4h0M344.0 275.5h0M329.5 290.4h0M340.8 282.9h0M342.9 273.9h0M331.0 285.2h0M341.0 280.5h0M345.9 282.1h0M343.1 286.0h0M342.6 284.8h0M339.5 273.1h0M336.0 279.0h0M336.5 281.9h0M330.9 297.4h0M334.3 268.5h0M340.9 297.0h0M342.3 295.6h0M341.3 278.0h0M330.3 271.4h0M339.8 273.8h0M345.2 292.6h0M336.4 271.1h0M337.1 289.9h0M338.8 284.2h0M337.7 300.1h0M334.6 287.3h0M342.4 284.5h0M329.2 289.0h0M330.1 271.4h0M340.4 270.7h0M335.6 271.7h0M341.0 277.5h0M327.8 285.9h0M341.6 276.6h0M327.7 277.3h0M338.2 287.9h0M342.5 292.6h0M331.1 273.3h0M330.6 281.4h0M327.6 281.8h0M334.1 289.0h0M335.8 281.7h0M334.7 277.7h0M332.9 276.9h0M341.4 270.9h0M334.1 282.1h0M334.8 299.7h0M331.0 283.5h0M344.4 285.2h0M340.8 285.0h0M344.7 278.6h0M344.0 290.0h0M345.1 282.1h0M332.6 270.2h0M333.9 278.6h0M326.1 280.5h0M346.5 281.8h0M338.8 295.9h0M329.5 281.3h0M341.9 287.2h0M338.7 274.2h0M338.7 284.1h0M340.0 270.8h0M343.6 292.5h0M340.8 293.0h0M341.8 294.6h0M332.8 277.5h0M342.1 280.2h0M328.8 279.8h0M332.7 272.1h0M326.4 286.2h0M330.1 285.7h0M337.5 276.3h0M338.0 297.4h0M336.6 285.3h0M333.9 291.1h0M330.8 283.9h0M328.0 287.8h0M341.1 284.5h0M344.1 279.9h0M337.0 284.8h0M326.7 281.2h0M331.7 289.0h0M336.0 288.5h0M342.3 273.3h0M343.8 291.5h0M332.1 297.0h0M335.4 296.4h0M334.1 276.6h0M333.9 287.1h0M327.8 282.8h0M333.7 284.9h0M336.3 274.4h0M328.9 287.3h0M336.2 287.6h0M338.4 278.6h0M336.9 293.8h0M345.5 279.2h0M337.0 286.6h0M330.2 271.5h0M328.8 286.1h0M339.8 297.6h0M334.1 279.4h0M342.1 296.0h0M333.1 283.0h0M331.3 270.6h0M336.4 268.0h0M337.9 292.7h0M334.9 277.9h0M330.6 281.5h0M335.7 300.2h0M334.0 296.4h0M335.9 284.6h0M337.0 293.0h0M338.8 298.7h0M336.0 288.6h0M332.6 290.1h0M332.3 287.0h0M333.7 280.6h0M343.2 272.8h0M329.0 273.9h0M346.4 284.4h0M335.7 279.8h0M332.8 298.8h0M343.6 277.9h0M336.9 287.1h0M328.9 284.1h0M338.5 296.7h0M344.1 286.5h0M341.8 275.2h0M328.2 286.6h0M328.5 287.2h0M337.8 289.0h0M345.3 275.2h0M331.9 296.4h0M343.0 273.9h0M334.0 268.3h0M340.9 288.2h0M335.9 290.6h0M328.8 280.5h0M333.3 292.4h0M332.6 271.1h0M332.9 274.7h0M337.2 288.7h0M351.7 286.4h0M337.8 291.3h0M331.1 290.9h0M335.4 286.9h0M331.3 287.1h0M347.8 273.6h0M331.1 289.5h0M330.5 275.1h0M329.2 289.5h0M332.0 275.8h0M337.4 275.8h0M328.4 287.6h0M340.0 275.5h0M337.8 297.7h0M335.3 295.6h0M328.4 284.6h0M331.6 274.0h0M337.9 289.4h0M335.3 294.4h0M339.5 283.1h0M330.6 282.9h0M336.6 297.9h0M338.9 275.8h0M342.0 270.5h0M337.4 284.2h0M331.0 298.4h0M339.4 280.3h0M341.4 291.7h0M333.1 274.9h0M342.0 269.1h0M333.8 300.9h0M337.8 297.3h0M327.1 296.3h0M325.8 277.5h0M341.0 290.5h0M329.6 298.9h0M331.0 294.0h0M343.3 277.7h0M327.5 283.6h0M334.1 283.9h0M339.4 285.3h0M343.9 278.0h0M333.6 275.0h0M332.3 272.9h0M330.1 295.0h0M343.5 286.1h0M329.9 285.7h0M341.9 292.4h0M345.3 288.5h0M340.0 276.0h0M334.2 281.7h0M336.6 295.0h0M333.6 286.9h0M335.0 282.6h0M340.0 289.5h0M336.4 280.9h0M334.0 276.1h0M330.5 280.7h0M337.1 273.0h0M332.8 302.9h0M348.4 277.8h0M331.9 301.6h0M337.3 276.5h0M327.2 274.9h0M335.4 294.2h0M351.3 274.7h0M339.8 280.9h0M345.6 268.0h0M336.1 288.7h0M329.3 274.8h0M350.1 273.0h0M336.2 288.1h0M329.3 280.5h0M343.8 289.2h0M337.8 282.9h0M337.8 280.4h0M347.7 270.4h0M333.4 289.5h0M337.2 287.0h0M331.2 281.5h0M331.9 295.0h0M339.1 269.7h0M337.3 288.6h0M350.8 275.0h0M329.9 295.2h0M331.1 281.8h0M332.1 279.4h0M339.3 294.0h0M333.9 283.0h0M336.9 269.5h0M331.0 279.1h0M342.5 285.9h0M341.7 294.5h0M337.9 277.0h0M345.6 284.8h0M330.6 272.0h0M337.1 275.6h0M330.2 285.4h0M334.3 272.2h0M326.1 277.7h0M328.6 292.6h0M331.0 290.3h0M331.9 270.8h0M333.0 297.7h0M332.7 285.6h0M336.6 280.5h0M336.4 290.2h0M341.5 277.8h0M343.7 280.1h0M331.2 284.1h0M339.0 292.8h0M334.8 289.4h0M339.6 295.9h0M345.3 291.2h0M327.4 268.1h0M331.2 278.9h0M335.6 275.1h0M341.5 284.0h0M338.0 299.7h0M350.6 277.8h0M327.9 287.7h0M328.6 285.7h0M333.9 273.6h0M337.8 285.9h0M334.0 279.5h0M333.6 278.6h0M330.7 292.4h0M333.2 292.2h0M333.0 280.9h0M343.3 274.9h0M344.9 282.1h0M335.4 287.9h0M329.8 289.9h0M335.1 285.0h0M335.8 283.7h0M327.8 289.5h0M338.3 280.7h0M338.8 276.7h0M336.5 279.3h0M330.5 276.5h0M341.8 288.0h0M350.8 274.4h0M333.4 280.8h0M341.6 286.3h0M279.0 288.0h0M285.0 288.0h0M310.0 245.0h0M312.0 257.0h0M312.5 258.7h0M316.6 262.7h0M315.4 253.2h0M305.2 255.8h0M316.0 260.5h0M316.9 263.8h0M320.7 261.8h0M313.8 252.1h0M446.7 252.7h0M442.7 259.8h0M457.7 262.5h0M454.1 255.9h0M446.9 262.3h0M448.9 265.2h0M446.8 262.0h0M461.9 254.9h0M457.7 260.7h0M449.5 265.2h0M438.3 253.1h0M471.6 255.2h0M438.2 252.4h0M458.2 263.9h0M451.9 260.2h0M474.0 255.6h0M451.1 261.2h0M472.1 254.1h0M457.6 254.4h0M448.6 265.0h0M457.2 251.9h0M456.6 264.2h0M456.7 264.8h0M446.0 252.6h0M471.7 259.6h0M444.7 264.4h0M461.7 263.3h0M471.5 253.2h0M456.7 256.8h0M448.0 261.8h0M467.4 261.2h0M443.9 263.4h0M460.4 259.3h0M449.6 251.7h0M443.7 256.1h0M448.8 263.5h0M451.5 258.1h0M458.3 250.1h0M469.1 262.7h0M472.3 258.3h0M462.4 263.9h0M467.5 255.6h0M433.8 258.6h0M461.1 257.5h0M471.6 256.5h0M465.3 255.4h0M460.6 256.8h0M470.1 262.0h0M448.4 253.5h0M474.9 257.3h0M434.4 255.3h0M462.9 261.1h0M466.3 254.2h0M465.6 256.9h0M456.9 250.0h0M449.0 259.1h0M450.8 251.6h0M453.0 259.6h0M448.1 253.3h0M465.8 256.1h0M437.7 262.4h0M436.2 257.2h0M448.5 263.9h0M464.2 254.9h0M459.8 253.1h0M433.4 256.3h0M458.3 263.6h0M435.5 259.7h0M463.4 251.5h0M451.2 258.8h0M439.2 256.7h0M456.7 258.8h0M464.8 257.9h0M457.4 253.5h0M470.1 258.9h0M452.2 257.7h0M467.6 254.4h0M440.1 260.3h0M446.4 251.4h0M458.9 253.2h0M464.1 254.6h0M445.5 262.5h0M449.2 264.0h0M458.3 251.2h0M456.2 257.7h0M448.8 260.6h0M455.5 264.1h0M446.3 263.1h0M440.2 256.8h0M445.1 255.9h0M473.5 256.4h0M438.4 260.1h0M461.9 250.1h0M458.3 250.4h0M468.9 261.8h0M463.2 253.1h0M449.3 255.6h0M447.0 253.2h0M456.7 250.3h0M442.6 258.5h0M459.6 259.2h0M451.7 261.4h0M459.9 262.0h0M444.4 257.6h0M458.3 260.0h0M453.2 249.8h0M440.1 253.6h0M437.7 255.9h0M449.7 252.5h0M472.2 256.9h0M460.3 263.1h0M447.0 261.6h0M451.4 256.5h0M456.1 260.8h0M451.7 265.2h0M452.9 259.1h0M458.9 251.8h0M442.5 261.5h0M452.3 256.9h0M469.8 259.4h0M442.2 257.8h0M462.1 261.1h0M470.0 255.0h0M468.0 258.0h0M450.9 251.2h0M439.6 260.2h0M470.4 259.7h0M463.3 260.5h0M445.1 258.3h0M443.0 262.3h0M470.6 257.6h0M445.8 253.6h0M472.6 256.5h0M460.5 264.2h0M461.6 262.8h0M448.5 257.1h0M441.4 252.6h0M450.3 252.5h0M448.5 250.6h0M462.5 252.7h0M464.6 260.9h0M465.4 251.5h0M470.8 259.0h0M474.3 257.5h0M450.5 263.9h0M446.0 263.1h0M472.4 261.2h0M461.5 253.4h0M445.7 256.5h0M471.2 261.8h0M453.3 249.7h0M462.9 259.8h0M461.2 255.6h0M448.2 253.6h0M463.4 252.5h0M455.4 263.3h0M439.0 261.2h0M463.0 255.4h0M437.4 258.1h0M454.5 264.4h0M439.5 259.6h0M456.2 252.8h0M454.9 253.5h0M460.3 261.0h0M452.1 261.1h0M471.6 261.0h0M459.9 251.5h0M465.0 252.9h0M460.6 260.2h0M473.4 255.9h0M458.0 258.2h0M449.4 258.3h0M457.5 251.7h0M463.3 251.8h0M441.9 260.0h0M452.9 250.4h0M442.0 255.2h0M462.7 263.5h0M453.5 251.2h0M441.9 259.6h0M441.9 263.5h0M459.2 264.0h0M452.0 250.5h0M464.0 259.4h0M447.0 258.8h0M443.1 261.7h0M468.9 261.1h0M461.8 262.4h0M453.0 256.2h0M460.3 250.8h0M456.7 258.2h0M439.3 255.3h0M459.6 258.3h0M468.2 252.1h0M468.3 261.3h0M466.3 251.2h0M469.8 255.8h0M468.6 253.5h0M440.2 255.0h0M461.7 259.1h0M462.4 257.4h0M449.4 262.3h0M447.7 259.1h0M464.0 261.1h0M456.0 251.9h0M450.1 257.1h0M446.3 260.2h0M467.4 254.2h0M454.0 256.6h0M444.1 252.8h0M452.9 253.9h0M458.8 252.3h0M458.4 255.5h0M449.2 256.6h0M437.1 260.6h0M462.7 252.6h0M449.6 251.1h0M457.8 262.0h0M452.3 254.1h0M446.5 262.8h0M449.1 256.3h0M456.4 257.8h0M436.3 254.0h0M471.1 256.7h0M456.2 254.8h0M450.5 261.4h0M469.6 260.7h0M454.0 258.9h0M464.9 255.1h0M453.9 257.8h0M463.2 252.4h0M452.2 262.6h0M441.0 257.3h0M463.1 252.3h0M457.7 258.3h0M459.8 264.8h0M462.4 264.8h0M445.2 258.1h0M468.6 252.8h0M464.9 259.4h0M441.8 257.9h0M470.9 256.1h0M443.4 262.6h0M462.5 253.8h0M446.4 257.6h0M467.1 257.5h0M448.5 249.9h0M454.4 251.7h0M459.0 260.2h0M436.8 253.6h0M461.9 262.2h0M438.6 255.2h0M458.9 261.0h0M456.4 255.5h0M455.0 262.4h0M453.6 250.6h0M455.7 264.8h0M467.9 253.1h0M461.4 261.9h0M459.6 250.7h0M447.8 260.9h0M449.3 252.3h0M463.9 259.6h0M454.0 257.3h0M434.9 260.2h0M461.5 255.9h0M458.3 263.8h0M444.7 255.2h0M437.3 258.4h0M454.6 254.6h0M446.5 252.6h0M469.7 262.2h0M463.5 258.6h0M446.5 257.3h0M463.4 263.2h0M450.5 263.0h0M467.7 252.8h0M455.5 250.7h0M448.8 254.6h0M463.0 250.7h0M460.5 256.3h0M455.1 252.5h0M456.0 264.6h0M454.3 253.0h0M451.1 252.7h0M458.4 255.5h0M458.2 256.0h0M440.6 253.4h0M473.0 255.9h0M466.1 256.6h0M456.4 265.0h0M437.8 261.1h0M451.9 259.8h0M435.7 261.3h0M439.6 257.9h0M469.6 260.4h0M442.0 257.7h0M458.8 250.0h0M463.8 263.5h0M436.8 259.1h0M456.6 260.5h0M456.7 256.7h0M451.2 265.3h0M444.1 257.6h0M466.8 261.1h0M450.9 254.6h0M460.1 260.4h0M459.3 256.1h0M435.2 259.3h0M449.3 251.0h0M461.8 261.0h0M459.4 263.9h0M439.4 254.1h0M458.8 256.9h0M464.4 261.4h0M462.5 251.4h0M453.5 264.6h0M449.3 263.5h0M458.8 264.1h0M452.6 251.0h0M464.6 253.1h0M459.0 252.2h0M433.9 256.0h0M450.4 263.0h0M452.3 261.3h0M460.6 260.6h0M440.1 253.9h0M458.9 260.6h0M471.3 258.7h0M443.1 261.4h0M442.9 260.0h0M444.0 256.9h0M443.7 261.8h0M445.8 262.8h0M471.6 255.2h0M449.4 259.2h0M462.0 253.6h0M449.1 263.5h0M468.8 261.8h0M445.3 250.6h0M473.5 260.3h0M437.8 252.5h0M446.9 263.4h0M462.6 255.4h0M438.3 256.3h0M468.1 258.1h0M456.8 265.1h0M450.8 252.8h0M448.4 264.4h0M457.2 253.8h0M446.6 254.3h0M440.9 261.9h0M464.3 250.8h0M434.0 258.3h0M441.7 251.3h0M466.5 259.5h0M444.7 258.4h0M445.6 255.1h0M468.8 257.2h0M447.3 264.2h0M464.7 263.8h0M437.0 258.6h0M441.3 258.9h0M463.1 262.3h0M468.5 251.8h0M437.7 255.9h0M447.0 255.6h0M441.8 254.6h0M456.8 254.4h0M458.8 256.1h0M446.3 256.7h0M451.6 255.6h0M449.1 250.3h0M451.1 259.6h0M463.6 254.9h0M444.6 251.0h0M461.4 256.7h0M466.1 256.3h0M471.9 254.7h0M435.5 258.4h0M447.5 253.5h0M457.1 259.2h0M444.0 250.6h0M438.1 255.1h0M454.3 261.2h0M436.6 258.2h0M472.0 261.4h0M438.9 259.8h0M464.2 255.3h0M473.6 256.7h0M462.8 254.2h0M448.0 263.2h0M458.6 265.1h0M439.4 253.7h0M459.9 256.3h0M466.3 257.1h0M467.1 255.7h0M473.8 256.6h0M469.0 256.5h0M448.3 263.9h0M452.3 263.3h0M444.0 258.9h0M467.4 254.5h0M438.4 254.1h0M473.8 258.1h0M458.3 262.7h0M451.7 257.4h0M450.8 264.6h0M472.4 259.1h0M467.7 260.6h0M439.1 259.3h0M464.9 263.9h0M464.1 263.0h0M465.7 263.7h0M461.1 253.5h0M460.5 256.4h0M458.7 259.5h0M469.9 262.1h0M461.7 260.8h0M461.2 261.4h0M469.5 259.7h0M452.7 261.3h0M439.2 255.4h0M456.6 258.4h0M454.7 263.3h0M454.5 263.0h0M452.4 253.8h0M439.7 259.9h0M451.9 265.4h0M447.4 262.9h0M441.9 261.1h0M450.1 251.8h0M460.6 262.5h0M463.8 262.7h0M433.5 258.6h0M457.3 256.6h0M446.4 251.3h0M463.4 258.7h0M445.8 262.0h0M450.9 254.1h0M463.7 258.2h0M442.5 256.6h0M471.9 260.3h0M441.7 256.3h0M438.9 253.1h0M463.4 262.3h0M456.1 257.9h0M467.8 263.0h0M440.7 260.5h0M456.1 251.8h0M466.1 261.8h0M435.7 260.9h0M466.4 259.5h0M466.2 259.4h0M463.0 262.1h0M437.5 255.2h0M439.3 260.1h0M442.4 259.3h0M449.3 260.0h0M456.8 262.9h0M467.7 252.1h0M456.2 258.2h0M447.9 258.3h0M447.3 263.1h0M450.1 259.5h0M443.8 259.6h0M444.8 254.6h0M474.5 258.9h0M445.0 261.3h0M459.4 261.5h0M462.2 253.2h0M456.1 254.6h0M470.8 252.8h0M455.8 252.2h0M466.5 257.9h0M450.0 264.0h0M446.7 264.8h0M446.8 260.8h0M464.4 251.5h0M461.4 263.9h0M464.5 256.9h0M450.7 249.9h0M461.0 252.1h0M461.7 253.7h0M439.4 260.1h0M436.9 254.1h0M452.4 263.7h0M471.2 257.4h0M469.9 261.2h0M456.9 258.4h0M465.8 255.8h0M463.0 253.2h0M440.2 259.8h0M442.9 251.0h0M440.8 252.0h0M454.4 257.8h0M455.7 253.3h0M445.6 263.8h0M444.9 256.4h0M445.9 254.1h0M454.2 254.5h0M455.8 258.9h0M457.0 262.9h0M443.3 263.2h0M445.3 257.6h0M454.6 258.6h0M463.3 266.0h0M433.5 255.3h0M430.8 250.9h0M479.5 251.3h0M466.2 253.5h0M446.9 248.9h0M449.4 259.7h0M463.3 261.7h0M452.3 264.9h0M456.2 256.7h0M448.4 249.4h0M456.1 254.8h0M452.0 259.5h0M441.1 249.8h0M474.2 255.6h0M460.0 254.8h0M463.3 260.6h0M416.0 265.0h0M450.9 257.1h0M472.4 254.7h0M453.8 261.1h0M460.6 257.2h0M422.7 258.4h0M418.8 264.6h0M441.7 254.7h0M457.9 258.9h0M453.1 256.5h0M446.5 261.2h0M448.9 259.0h0M470.7 257.5h0M454.9 257.2h0M445.5 254.5h0M436.8 263.2h0M458.5 254.7h0M438.4 255.6h0M439.2 256.5h0M435.5 255.1h0M431.1 255.1h0M433.9 257.7h0M466.6 258.5h0M463.5 253.6h0M447.7 259.9h0M460.7 260.0h0M448.7 258.5h0M458.3 255.6h0M444.9 260.4h0M437.6 255.8h0M460.6 258.2h0M448.3 258.0h0M453.3 254.5h0M473.6 266.9h0M456.0 265.3h0M449.3 259.1h0M457.4 257.7h0M434.1 260.1h0M448.4 264.2h0M464.0 253.9h0M450.5 247.4h0M440.7 260.0h0M454.4 250.6h0M467.7 267.3h0M445.4 254.4h0M454.0 262.5h0M463.0 260.7h0M438.3 255.0h0M452.0 262.3h0M463.5 259.9h0M465.9 260.5h0M466.3 252.4h0M449.8 257.8h0M450.3 264.7h0M443.7 253.1h0M470.7 259.7h0M470.8 258.2h0M441.1 259.3h0M447.4 260.0h0M469.0 258.0h0M470.4 259.1h0M458.7 261.7h0M439.1 261.7h0M455.2 257.8h0M466.6 259.0h0M435.4 251.2h0M442.5 255.2h0M463.5 257.1h0M458.5 264.3h0M424.8 256.7h0M434.4 249.5h0M460.1 259.3h0M451.5 252.9h0M452.4 262.9h0M451.6 257.6h0M459.6 252.7h0M470.7 264.3h0M448.0 259.3h0M443.5 263.2h0M467.5 256.1h0M442.9 262.8h0M444.6 256.9h0M438.0 251.8h0M454.5 254.5h0M452.1 259.7h0M458.1 263.2h0M469.1 253.3h0M437.7 251.5h0M463.6 261.8h0M467.2 258.3h0M461.6 259.9h0M462.2 255.6h0M469.5 259.4h0M436.1 255.3h0M436.0 266.8h0M452.4 256.2h0M452.8 255.1h0M448.6 255.2h0M456.2 259.5h0M468.0 261.5h0M448.2 254.2h0M451.7 252.3h0M437.5 254.3h0M449.1 259.6h0M448.1 264.3h0M461.3 262.1h0M450.8 256.6h0M441.5 261.4h0M439.6 254.7h0M450.4 259.6h0M458.9 259.7h0M467.6 256.7h0M463.5 255.3h0M444.4 261.1h0M454.1 257.9h0M428.3 256.7h0M470.5 266.8h0M447.6 261.5h0M446.4 254.4h0M463.4 265.3h0M438.1 254.1h0M465.2 264.0h0M448.8 253.8h0M452.4 259.0h0M465.3 259.0h0M440.4 257.0h0M446.6 254.3h0M462.0 253.0h0M465.0 260.5h0M462.0 248.9h0M453.7 258.6h0M438.1 254.0h0M467.9 253.2h0M457.8 250.2h0M442.5 256.1h0M470.5 250.9h0M471.9 255.4h0M439.0 260.4h0M437.2 255.9h0M449.2 255.8h0M471.2 250.8h0M444.4 255.1h0M438.2 252.0h0M490.5 257.5h0M457.8 258.7h0M434.6 258.2h0M448.5 262.7h0M431.7 259.0h0M434.2 254.3h0M467.9 257.4h0M451.2 260.6h0M442.8 262.3h0M450.6 256.7h0M443.3 249.1h0M446.4 261.6h0M444.7 258.7h0M455.6 260.3h0M453.8 254.8h0M473.1 261.9h0M463.8 257.0h0M448.3 260.1h0M477.1 263.9h0M444.1 249.1h0M439.2 265.3h0M440.8 259.7h0M443.1 254.4h0M465.7 249.6h0M441.3 253.3h0M456.1 257.7h0M440.7 254.7h0M450.2 254.9h0M446.7 261.2h0M432.7 251.5h0M471.4 257.6h0M475.8 257.8h0M454.0 250.9h0M452.9 259.9h0M469.4 264.1h0M445.6 260.5h0M452.4 254.8h0M473.3 255.1h0M468.7 255.1h0M451.8 257.5h0M456.7 261.4h0M462.6 253.9h0M448.7 264.5h0M475.9 251.3h0M422.7 260.4h0M431.1 254.5h0M461.2 257.5h0M448.1 255.4h0M431.9 266.6h0M448.6 250.8h0M441.7 257.7h0M457.5 254.5h0M445.6 265.3h0M432.2 267.9h0M454.6 254.8h0M459.8 252.5h0M444.8 268.2h0M469.4 261.6h0M477.0 251.9h0M450.3 258.9h0M460.6 255.5h0M451.7 257.4h0M472.1 263.1h0M462.5 259.5h0M442.4 263.6h0M451.7 252.7h0M448.7 259.0h0M436.8 257.8h0M455.9 265.2h0M462.6 257.6h0M441.2 253.9h0M469.5 257.4h0M433.8 256.0h0M440.5 262.6h0M444.5 260.9h0M469.6 264.6h0M442.6 259.2h0M451.4 258.8h0M448.1 256.1h0M450.4 269.2h0M431.2 266.9h0M454.4 255.8h0M456.4 254.3h0M473.3 259.6h0M477.7 254.2h0M448.4 252.9h0M440.4 260.8h0M457.2 263.9h0M445.1 260.5h0M461.1 256.4h0M456.3 251.3h0M459.4 264.0h0M463.8 266.6h0M452.4 263.7h0M435.7 271.9h0M465.5 262.7h0M461.5 257.0h0M427.6 265.9h0M469.6 258.0h0M452.6 254.5h0M451.8 262.0h0M438.3 259.0h0M431.9 249.0h0M461.2 256.2h0M454.4 255.8h0M433.2 247.6h0M466.0 258.2h0M463.7 253.2h0M463.2 263.2h0M463.6 252.9h0M430.3 257.6h0M472.7 250.9h0M445.1 257.8h0M484.1 264.0h0M427.8 251.5h0M441.4 259.3h0M475.7 252.0h0M441.9 254.9h0M448.1 257.9h0M449.8 263.9h0M458.9 259.7h0M465.0 262.3h0M464.2 268.3h0M436.3 256.1h0M474.4 251.6h0M454.6 248.5h0M461.8 262.9h0M458.2 257.6h0M420.5 264.5h0M447.3 263.8h0M458.2 247.5h0M441.4 261.9h0M471.2 247.6h0M453.3 258.6h0M475.3 259.4h0M467.8 255.0h0M438.9 255.1h0M450.1 256.8h0M489.3 254.7h0M460.4 249.6h0M472.8 253.6h0M446.5 260.9h0M439.3 251.3h0M464.3 258.6h0M454.8 261.5h0M446.6 249.2h0M461.0 261.3h0M447.3 252.4h0M439.9 249.9h0M455.6 263.2h0M439.8 264.9h0M455.6 256.7h0M453.8 247.9h0M459.7 262.0h0M438.1 256.0h0M461.0 262.9h0M457.9 256.3h0M445.7 251.9h0M464.0 264.4h0M441.5 258.4h0M466.1 262.8h0M445.1 255.9h0M464.6 254.7h0M452.8 258.5h0M442.9 261.5h0M495.2 261.2h0M468.2 260.4h0M431.3 258.7h0M471.0 265.4h0M451.2 257.5h0M448.9 251.4h0M451.4 261.3h0M478.5 262.7h0M444.2 255.5h0M433.4 263.6h0M446.9 258.7h0M474.8 248.7h0M469.1 261.7h0M429.6 256.0h0M465.3 259.9h0M442.0 254.0h0M475.7 257.9h0M449.2 256.4h0M460.0 261.9h0M414.3 252.4h0M462.5 259.8h0M463.0 259.3h0M470.3 269.7h0M471.8 261.3h0M444.3 260.2h0M426.7 264.8h0M434.7 254.7h0M449.5 255.1h0M458.6 263.5h0M455.2 256.5h0M457.3 265.7h0M457.8 264.4h0M472.9 263.0h0M451.1 254.2h0M433.7 259.2h0M443.4 251.8h0M437.8 255.6h0M463.5 247.4h0M446.1 253.1h0M450.7 257.3h0M456.4 253.8h0M455.8 259.6h0M443.5 263.0h0M450.8 263.7h0M450.5 261.1h0M445.3 266.6h0M431.6 263.9h0M451.8 247.3h0M471.3 261.8h0M453.4 262.7h0M449.6 261.8h0M465.0 251.5h0M468.2 253.6h0M442.6 253.9h0M464.2 255.9h0M442.2 251.4h0M467.8 262.2h0M470.3 253.0h0M465.6 257.4h0M459.6 255.5h0M470.8 260.0h0M442.4 258.8h0M432.9 256.4h0M448.7 253.3h0M454.7 263.7h0M481.1 256.5h0M474.2 275.3h0M434.9 284.2h0M448.2 263.2h0M481.6 287.1h0M469.8 286.5h0M414.8 258.0h0M436.0 286.6h0M440.2 274.3h0M465.0 274.1h0M472.4 279.9h0M408.2 273.3h0M483.7 284.0h0M478.0 292.5h0M474.5 299.3h0M440.4 290.7h0M438.4 275.5h0M455.9 280.9h0M448.6 256.0h0M449.7 272.0h0M424.8 282.8h0M463.6 268.7h0M438.0 240.5h0M452.0 239.3h0M471.0 240.5h0M404.0 276.0h0M455.0 297.0h0M432.0 299.0h0" stroke="#000" stroke-width="1.4" stroke-linecap="square" fill="none"/><rect x="15" y="34.5" width="119.4" height="117.0" fill="none" stroke="#000" stroke-width="1.5"/><path d="M73 34.5V151.5M15 110.3H134.4" stroke="#000" stroke-width="1.5" fill="none"/><rect x="143" y="34" width="118.5" height="118.0" fill="none" stroke="#000" stroke-width="1.5"/><path d="M199.5 34V152M143 109.7H261.5" stroke="#000" stroke-width="1.5" fill="none"/><rect x="270.5" y="34.5" width="118.5" height="117.5" fill="none" stroke="#000" stroke-width="1.5"/><path d="M327.7 34.5V152M270.5 109.7H389" stroke="#000" stroke-width="1.5" fill="none"/><rect x="399" y="33" width="118.0" height="117.0" fill="none" stroke="#000" stroke-width="1.5"/><path d="M441.6 33V150M399 76H517" stroke="#000" stroke-width="1.5" fill="none"/><rect x="15.4" y="187" width="118.8" height="117.0" fill="none" stroke="#000" stroke-width="1.5"/><path d="M70.3 187V304M15.4 265.2H134.2" stroke="#000" stroke-width="1.5" fill="none"/><rect x="143.4" y="186.3" width="118.6" height="117.7" fill="none" stroke="#000" stroke-width="1.5"/><path d="M196.4 186.3V304M143.4 264.8H262" stroke="#000" stroke-width="1.5" fill="none"/><rect x="269.7" y="186.3" width="118.6" height="117.5" fill="none" stroke="#000" stroke-width="1.5"/><path d="M324.8 186.3V303.8M269.7 265.5H388.3" stroke="#000" stroke-width="1.5" fill="none"/><rect x="397.8" y="185" width="119.2" height="117.6" fill="none" stroke="#000" stroke-width="1.5"/><path d="M450.5 185V302.6M397.8 245.4H517" stroke="#000" stroke-width="1.5" fill="none"/><text x="0.7" y="19.2" font-family="'Liberation Sans', sans-serif" font-weight="bold" stroke="#000" stroke-width="0.3" font-size="25" text-anchor="start" >A</text><text x="-0.6" y="378.6" font-family="'Liberation Sans', sans-serif" font-weight="bold" stroke="#000" stroke-width="0.3" font-size="24.6" text-anchor="start" >B</text><text x="52" y="18.9" font-family="'Liberation Sans', sans-serif" font-weight="bold" stroke="#000" stroke-width="0.3" font-size="13" text-anchor="start" >Control</text><text x="166.4" y="18.9" font-family="'Liberation Sans', sans-serif" font-weight="bold" stroke="#000" stroke-width="0.3" font-size="13" text-anchor="start" >Fludarabine</text><text x="283" y="18.9" font-family="'Liberation Sans', sans-serif" font-weight="bold" stroke="#000" stroke-width="0.3" font-size="13" text-anchor="start" >Dexamethasone</text><text x="441" y="17.4" font-family="'Liberation Sans', sans-serif" font-weight="bold" stroke="#000" stroke-width="0.3" font-size="13.2" text-anchor="start" >FCM</text><text transform="translate(11.8,145.6) rotate(-90)" font-family="'Liberation Sans', sans-serif" font-weight="bold" stroke="#000" stroke-width="0.3" font-size="13.3">Propidium iodide</text><text transform="translate(11.8,292.2) rotate(-90)" font-family="'Liberation Sans', sans-serif" font-weight="bold" stroke="#000" stroke-width="0.3" font-size="12.9">Fluorescence 2</text><text x="112" y="70.8" font-family="'Liberation Sans', sans-serif" font-weight="bold" stroke="#000" stroke-width="0.3" font-size="12.7" text-anchor="start" >2%</text><text x="233.8" y="70.8" font-family="'Liberation Sans', sans-serif" font-weight="bold" stroke="#000" stroke-width="0.3" font-size="12.7" text-anchor="start" >3%</text><text x="361.2" y="70.8" font-family="'Liberation Sans', sans-serif" font-weight="bold" stroke="#000" stroke-width="0.3" font-size="12.7" text-anchor="start" >4%</text><text x="487" y="69.4" font-family="'Liberation Sans', sans-serif" font-weight="bold" stroke="#000" stroke-width="0.3" font-size="12.7" text-anchor="start" >29%</text><text x="112" y="136" font-family="'Liberation Sans', sans-serif" font-weight="bold" stroke="#000" stroke-width="0.3" font-size="12.7" text-anchor="start" >7%</text><text x="234.3" y="136.2" font-family="'Liberation Sans', sans-serif" font-weight="bold" stroke="#000" stroke-width="0.3" font-size="12.7" text-anchor="start" >29%</text><text x="361" y="136" font-family="'Liberation Sans', sans-serif" font-weight="bold" stroke="#000" stroke-width="0.3" font-size="12.7" text-anchor="start" >17%</text><text x="487" y="135.4" font-family="'Liberation Sans', sans-serif" font-weight="bold" stroke="#000" stroke-width="0.3" font-size="12.7" text-anchor="start" >60%</text><text x="112" y="289.4" font-family="'Liberation Sans', sans-serif" font-weight="bold" stroke="#000" stroke-width="0.3" font-size="12.7" text-anchor="start" >4%</text><text x="234.7" y="289.4" font-family="'Liberation Sans', sans-serif" font-weight="bold" stroke="#000" stroke-width="0.3" font-size="12.7" text-anchor="start" >18%</text><text x="361.7" y="289.4" font-family="'Liberation Sans', sans-serif" font-weight="bold" stroke="#000" stroke-width="0.3" font-size="12.7" text-anchor="start" >13%</text><text x="487" y="288" font-family="'Liberation Sans', sans-serif" font-weight="bold" stroke="#000" stroke-width="0.3" font-size="12.7" text-anchor="start" >87%</text><path d="M15 169.5L232.3 169M306.6 168.3L517.7 167.8M15 322.6L249 322.3M280.8 322L517 321.7" stroke="#000" stroke-width="1.5" fill="none"/><text x="240.4" y="173" font-family="'Liberation Sans', sans-serif" font-weight="bold" stroke="#000" stroke-width="0.3" font-size="12.7" text-anchor="start" >Annexin V</text><text x="259.5" y="327" font-family="'Liberation Sans', sans-serif" font-weight="bold" stroke="#000" stroke-width="0.3" font-size="12.7" text-anchor="start" >Bax</text><rect x="127.5" y="365.70000000000005" width="237.5" height="250.0" fill="none" stroke="#000" stroke-width="1.2"/><path d="M127.5 615.7v2M127.5 615.7h-2M175.0 615.7v2M127.5 565.7h-2M222.5 615.7v2M127.5 515.7h-2M270.0 615.7v2M127.5 465.70000000000005h-2M317.5 615.7v2M127.5 415.70000000000005h-2M365.0 615.7v2M127.5 365.70000000000005h-2" stroke="#000" stroke-width="1.2" fill="none"/><text x="127.5" y="630.7" font-family="'Liberation Sans', sans-serif" stroke="#000" stroke-width="0.15" font-size="9.2" text-anchor="middle">0</text><text x="120" y="614.2" font-family="'Liberation Sans', sans-serif" stroke="#000" stroke-width="0.15" font-size="9.2" text-anchor="end">0</text><text x="175.0" y="630.7" font-family="'Liberation Sans', sans-serif" stroke="#000" stroke-width="0.15" font-size="9.2" text-anchor="middle">20</text><text x="120" y="569.0" font-family="'Liberation Sans', sans-serif" stroke="#000" stroke-width="0.15" font-size="9.2" text-anchor="end">20</text><text x="222.5" y="630.7" font-family="'Liberation Sans', sans-serif" stroke="#000" stroke-width="0.15" font-size="9.2" text-anchor="middle">40</text><text x="120" y="519.0" font-family="'Liberation Sans', sans-serif" stroke="#000" stroke-width="0.15" font-size="9.2" text-anchor="end">40</text><text x="270.0" y="630.7" font-family="'Liberation Sans', sans-serif" stroke="#000" stroke-width="0.15" font-size="9.2" text-anchor="middle">60</text><text x="120" y="469.00000000000006" font-family="'Liberation Sans', sans-serif" stroke="#000" stroke-width="0.15" font-size="9.2" text-anchor="end">60</text><text x="317.5" y="630.7" font-family="'Liberation Sans', sans-serif" stroke="#000" stroke-width="0.15" font-size="9.2" text-anchor="middle">80</text><text x="120" y="419.00000000000006" font-family="'Liberation Sans', sans-serif" stroke="#000" stroke-width="0.15" font-size="9.2" text-anchor="end">80</text><text x="365.0" y="630.7" font-family="'Liberation Sans', sans-serif" stroke="#000" stroke-width="0.15" font-size="9.2" text-anchor="middle">100</text><text x="120" y="369.00000000000006" font-family="'Liberation Sans', sans-serif" stroke="#000" stroke-width="0.15" font-size="9.2" text-anchor="end">100</text><text x="173" y="659.1" font-family="'Liberation Sans', sans-serif" font-weight="bold" stroke="#000" stroke-width="0.3" font-size="12.3" textLength="131.2" lengthAdjust="spacingAndGlyphs">Bax positive cells (%)</text><text transform="translate(97.1,555.2) rotate(-90)" font-family="'Liberation Sans', sans-serif" font-weight="bold" stroke="#000" stroke-width="0.3" font-size="12.2" textLength="117.3" lengthAdjust="spacingAndGlyphs">Apoptotic cells (%)</text><path d="M127.5 577.95L365.0 372.20000000000005" stroke="#000" stroke-width="1.2"/><text x="296.9" y="581.5" font-family="'Liberation Sans', sans-serif" font-weight="bold" stroke="#000" stroke-width="0.3" font-size="10.8" textLength="44.3" lengthAdjust="spacingAndGlyphs">r=0.836</text><text x="296.9" y="597.7" font-family="'Liberation Sans', sans-serif" font-weight="bold" stroke="#000" stroke-width="0.3" font-size="10.8" textLength="46" lengthAdjust="spacingAndGlyphs">p&lt;0.001</text><rect x="385.6" y="418.7" width="88.1" height="64.3" fill="none" stroke="#000" stroke-width="1"/><rect x="392.6" y="424.9" width="6.8" height="6.2" fill="#aaa" stroke="#444" stroke-width="0.9"/><path d="M396 439.3L400.2 446L391.8 446Z" fill="none" stroke="#000" stroke-width="1.3"/><rect x="392.8" y="455.6" width="6.6" height="6.4" fill="none" stroke="#000" stroke-width="1.2"/><circle cx="395.8" cy="474.5" r="3.8" fill="none" stroke="#000" stroke-width="1.2"/><text x="405.4" y="430.8" font-family="'Liberation Sans', sans-serif" stroke="#000" stroke-width="0.15" font-size="8.7">Control</text><text x="405.4" y="446.2" font-family="'Liberation Sans', sans-serif" stroke="#000" stroke-width="0.15" font-size="8.7">Fludarabine</text><text x="405.4" y="462.3" font-family="'Liberation Sans', sans-serif" stroke="#000" stroke-width="0.15" font-size="8.7">Dexamethasone</text><text x="405.4" y="478.3" font-family="'Liberation Sans', sans-serif" stroke="#000" stroke-width="0.15" font-size="8.7">FCM</text><g fill="none" stroke="#000" stroke-width="1.3"><rect x="149.0" y="585.2" width="6.2" height="6.2"/><rect x="137.2" y="596.2" width="6.2" height="6.2"/><rect x="145.4" y="554.9" width="6.2" height="6.2"/><rect x="139.8" y="507.9" width="6.2" height="6.2"/><rect x="149.0" y="546.6" width="6.2" height="6.2"/><rect x="170.4" y="551.2" width="6.2" height="6.2"/><rect x="188.8" y="499.8" width="6.2" height="6.2"/><rect x="212.5" y="507.3" width="6.2" height="6.2"/><rect x="216.5" y="501.6" width="6.2" height="6.2"/><rect x="205.6" y="452.3" width="6.2" height="6.2"/><rect x="236.2" y="441.9" width="6.2" height="6.2"/><rect x="233.3" y="449.5" width="6.2" height="6.2"/><rect x="210.2" y="476.9" width="6.2" height="6.2"/><rect x="207.9" y="484.2" width="6.2" height="6.2"/><rect x="224.6" y="471.9" width="6.2" height="6.2"/><rect x="146.8" y="474.7" width="6.2" height="6.2"/><rect x="142.1" y="482.1" width="6.2" height="6.2"/><rect x="272.3" y="439.8" width="6.2" height="6.2"/><rect x="281.7" y="457.1" width="6.2" height="6.2"/><rect x="288.1" y="457.1" width="6.2" height="6.2"/><rect x="252.9" y="469.8" width="6.2" height="6.2"/><rect x="262.7" y="474.4" width="6.2" height="6.2"/><rect x="258.1" y="494.4" width="6.2" height="6.2"/><rect x="255.7" y="507.3" width="6.2" height="6.2"/><rect x="279.4" y="412.7" width="6.2" height="6.2"/><rect x="272.4" y="420.2" width="6.2" height="6.2"/><rect x="274.4" y="430.1" width="6.2" height="6.2"/><rect x="290.2" y="427.5" width="6.2" height="6.2"/><circle cx="133.1" cy="591.2" r="3.6"/><circle cx="148.1" cy="572.2" r="3.6"/><circle cx="164.8" cy="571" r="3.6"/><circle cx="142.3" cy="535.8" r="3.6"/><circle cx="163.7" cy="548.5" r="3.6"/><circle cx="194.2" cy="530.3" r="3.6"/><circle cx="213.3" cy="554.6" r="3.6"/><circle cx="223.1" cy="505.2" r="3.6"/><circle cx="223.1" cy="517.9" r="3.6"/><circle cx="194.8" cy="530" r="3.6"/><circle cx="220.2" cy="455" r="3.6"/><circle cx="239.3" cy="453" r="3.6"/><circle cx="241.4" cy="458.7" r="3.6"/><circle cx="183" cy="465.7" r="3.6"/><circle cx="205.7" cy="492.5" r="3.6"/><circle cx="229.5" cy="476.8" r="3.6"/><circle cx="239.7" cy="483.4" r="3.6"/><circle cx="184.9" cy="431.2" r="3.6"/><circle cx="260.6" cy="435.5" r="3.6"/><circle cx="258" cy="443" r="3.6"/><circle cx="265.6" cy="445.3" r="3.6"/><circle cx="282" cy="445.3" r="3.6"/><circle cx="293.6" cy="437.6" r="3.6"/><circle cx="298.3" cy="440.8" r="3.6"/><circle cx="258.2" cy="462.6" r="3.6"/><circle cx="257.7" cy="472.9" r="3.6"/><circle cx="279.6" cy="472.3" r="3.6"/><circle cx="249" cy="480.4" r="3.6"/><circle cx="279.6" cy="395" r="3.6"/><circle cx="275" cy="412.9" r="3.6"/><circle cx="249" cy="427.5" r="3.6"/><circle cx="286.7" cy="433" r="3.6"/><circle cx="296" cy="425.4" r="3.6"/><circle cx="301.3" cy="432.8" r="3.6"/><circle cx="308.5" cy="442.6" r="3.6"/><circle cx="317.1" cy="423.2" r="3.6"/><circle cx="213.3" cy="427.7" r="3.6"/><circle cx="320" cy="467.7" r="3.6"/><circle cx="338.7" cy="377.4" r="3.6"/><circle cx="312.5" cy="394.9" r="3.6"/><circle cx="334" cy="392.9" r="3.6"/><circle cx="334" cy="417.8" r="3.6"/><path d="M155.6 575.6l3 5.4h-6z"/><path d="M156.2 569.3l3 5.4h-6z"/><path d="M146.9 594.1l3 5.4h-6z"/><path d="M161.3 522.5l3 5.4h-6z"/><path d="M160.8 536.7l3 5.4h-6z"/><path d="M171.2 531.1l3 5.4h-6z"/><path d="M176.3 534.6l3 5.4h-6z"/><path d="M171.2 539.8l3 5.4h-6z"/><path d="M152.1 542.7l3 5.4h-6z"/><path d="M130.5 549.6l3 5.4h-6z"/><path d="M182.7 549.6l3 5.4h-6z"/><path d="M185.0 502.1l3 5.4h-6z"/><path d="M184.0 509.1l3 5.4h-6z"/><path d="M187.3 526.6l3 5.4h-6z"/><path d="M187.3 542.1l3 5.4h-6z"/><path d="M237.5 584.8l3 5.4h-6z"/><path d="M194.8 508.1l3 5.4h-6z"/><path d="M194.8 512.1l3 5.4h-6z"/><path d="M230.6 498.3l3 5.4h-6z"/><path d="M206.3 516.8l3 5.4h-6z"/><path d="M199.4 523.7l3 5.4h-6z"/><path d="M221.9 542.1l3 5.4h-6z"/><path d="M230.0 542.1l3 5.4h-6z"/><path d="M186.2 547.3l3 5.4h-6z"/><path d="M201.7 549.6l3 5.4h-6z"/><path d="M223.1 457.9l3 5.4h-6z"/><path d="M243.6 434.6l3 5.4h-6z"/><path d="M187.0 469.3l3 5.4h-6z"/><path d="M201.7 467.6l3 5.4h-6z"/><path d="M194.2 481.6l3 5.4h-6z"/><path d="M215.6 489.9l3 5.4h-6z"/><path d="M225.6 482.3l3 5.4h-6z"/><path d="M230.6 497.9l3 5.4h-6z"/><path d="M249.6 554.3l3 5.4h-6z"/><path d="M265.6 424.6l3 5.4h-6z"/></g><g fill="#adadad"><rect x="130.6" y="588.6" width="6.8" height="6.8"/><rect x="136.6" y="587.1" width="6.8" height="6.8"/><rect x="142.6" y="588.6" width="6.8" height="6.8"/><rect x="130.6" y="594.6" width="6.8" height="6.8"/><rect x="141.6" y="594.1" width="6.8" height="6.8"/><rect x="128.1" y="591.6" width="6.8" height="6.8"/><rect x="145.6" y="587.6" width="6.8" height="6.8"/><rect x="145.1" y="567.6" width="6.8" height="6.8"/><rect x="150.6" y="565.6" width="6.8" height="6.8"/><rect x="156.6" y="565.6" width="6.8" height="6.8"/><rect x="161.6" y="563.6" width="6.8" height="6.8"/><rect x="147.6" y="570.6" width="6.8" height="6.8"/><rect x="153.6" y="570.6" width="6.8" height="6.8"/><rect x="159.6" y="570.6" width="6.8" height="6.8"/><rect x="150.6" y="558.6" width="6.8" height="6.8"/><rect x="156.6" y="558.6" width="6.8" height="6.8"/><rect x="160.6" y="557.6" width="6.8" height="6.8"/><rect x="148.6" y="561.6" width="6.8" height="6.8"/><rect x="154.6" y="561.6" width="6.8" height="6.8"/><rect x="172.5" y="499.1" width="6.8" height="6.8"/><rect x="175.8" y="505.8" width="6.8" height="6.8"/><rect x="174.9" y="509.2" width="6.8" height="6.8"/><rect x="182.6" y="502.9" width="6.8" height="6.8"/><rect x="187.4" y="501.0" width="6.8" height="6.8"/><rect x="178.7" y="508.2" width="6.8" height="6.8"/><rect x="172.6" y="509.6" width="6.8" height="6.8"/><rect x="180.6" y="497.1" width="6.8" height="6.8"/><rect x="127.9" y="564.1" width="6.8" height="6.8"/><rect x="139.5" y="577.4" width="6.8" height="6.8"/><rect x="157.9" y="577.4" width="6.8" height="6.8"/><rect x="156.2" y="594.7" width="6.8" height="6.8"/><rect x="174.6" y="569.9" width="6.8" height="6.8"/><rect x="177.0" y="557.8" width="6.8" height="6.8"/><rect x="130.3" y="590.1" width="6.8" height="6.8"/><rect x="135.4" y="588.4" width="6.8" height="6.8"/><rect x="140.6" y="589.2" width="6.8" height="6.8"/><rect x="132.0" y="595.3" width="6.8" height="6.8"/><rect x="138.6" y="591.6" width="6.8" height="6.8"/><rect x="128.5" y="593.6" width="6.8" height="6.8"/><rect x="143.6" y="591.6" width="6.8" height="6.8"/><rect x="150.2" y="558.9" width="6.8" height="6.8"/><rect x="156.2" y="559.8" width="6.8" height="6.8"/><rect x="161.4" y="559.8" width="6.8" height="6.8"/><rect x="153.6" y="564.1" width="6.8" height="6.8"/><rect x="147.6" y="566.6" width="6.8" height="6.8"/><rect x="156.6" y="556.1" width="6.8" height="6.8"/><rect x="163.1" y="552.9" width="6.8" height="6.8"/><rect x="168.3" y="554.6" width="6.8" height="6.8"/><rect x="141.8" y="532.4" width="6.8" height="6.8"/><rect x="148.7" y="535.9" width="6.8" height="6.8"/><rect x="172.4" y="498.9" width="6.8" height="6.8"/><rect x="176.4" y="504.1" width="6.8" height="6.8"/><rect x="175.8" y="508.8" width="6.8" height="6.8"/><rect x="173.5" y="524.9" width="6.8" height="6.8"/><rect x="168.9" y="534.1" width="6.8" height="6.8"/><rect x="174.1" y="543.4" width="6.8" height="6.8"/><rect x="139.5" y="549.1" width="6.8" height="6.8"/><rect x="180.4" y="531.8" width="6.8" height="6.8"/><rect x="201.2" y="524.3" width="6.8" height="6.8"/><rect x="209.9" y="533.0" width="6.8" height="6.8"/><rect x="177.0" y="558.1" width="6.8" height="6.8"/><rect x="164.1" y="538.2" width="6.8" height="6.8"/><rect x="200.5" y="569.8" width="6.8" height="6.8"/><rect x="235.8" y="557.2" width="6.8" height="6.8"/><rect x="188.5" y="503.0" width="6.8" height="6.8"/><rect x="183.3" y="505.3" width="6.8" height="6.8"/><rect x="224.3" y="493.2" width="6.8" height="6.8"/><rect x="201.8" y="524.9" width="6.8" height="6.8"/><rect x="212.2" y="531.8" width="6.8" height="6.8"/><rect x="182.8" y="532.4" width="6.8" height="6.8"/><rect x="188.4" y="472.8" width="6.8" height="6.8"/><rect x="193.6" y="484.4" width="6.8" height="6.8"/><rect x="207.9" y="489.2" width="6.8" height="6.8"/><rect x="236.3" y="473.9" width="6.8" height="6.8"/><rect x="225.1" y="491.1" width="6.8" height="6.8"/></g></svg></body></html>
